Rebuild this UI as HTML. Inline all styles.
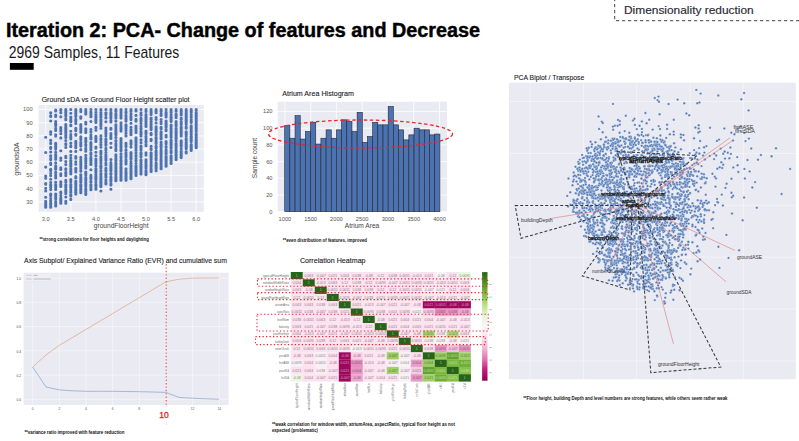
<!DOCTYPE html><html><head><meta charset="utf-8"><style>html,body{margin:0;padding:0;background:#fff;width:799px;height:441px;overflow:hidden}svg{display:block}text{font-family:"Liberation Sans",sans-serif}</style></head><body>
<svg width="799" height="441" viewBox="0 0 799 441">
<rect width="799" height="441" fill="#fff"/>
<text x="6" y="37.3" font-size="20" fill="#000" textLength="474" lengthAdjust="spacingAndGlyphs" font-weight="bold" stroke="#000" stroke-width="0.45">Iteration 2: PCA- Change of features and Decrease</text>
<text x="8.8" y="57.8" font-size="16.2" fill="#1a1a1a" textLength="170.5" lengthAdjust="spacingAndGlyphs" >2969 Samples, 11 Features</text>
<rect x="9.9" y="63" width="23.8" height="6.8" fill="#000"/>
<path d="M614.7 -2 V20.7 H801" fill="none" stroke="#444" stroke-width="1" stroke-dasharray="3.2 2.8"/>
<text x="624" y="13.5" font-size="10.4" fill="#2a2a35" textLength="129.7" lengthAdjust="spacingAndGlyphs" stroke="#2a2a35" stroke-width="0.15">Dimensionality reduction</text>
<rect x="38.6" y="105" width="165.20000000000002" height="106.80000000000001" fill="#EAEAF2"/>
<path d="M45.7 105V211.8M70.8 105V211.8M95.9 105V211.8M121.0 105V211.8M146.0 105V211.8M171.1 105V211.8M196.2 105V211.8M38.6 201.8H203.8M38.6 188.6H203.8M38.6 175.4H203.8M38.6 162.2H203.8M38.6 149.0H203.8M38.6 135.9H203.8M38.6 122.7H203.8M38.6 109.5H203.8" stroke="#fff" stroke-width="0.8" fill="none"/>
<path d="M55.7 205.9h0M75.8 182.2h0M121.0 163.4h0M85.8 129.0h0M126.0 171.0h0M115.9 115.3h0M131.0 157.2h0M45.7 197.2h0M121.0 179.0h0M126.0 173.6h0M100.9 109.5h0M75.8 161.7h0M131.0 144.2h0M141.0 131.9h0M171.1 120.0h0M181.2 153.4h0M126.0 178.2h0M85.8 184.3h0M131.0 134.5h0M80.8 177.3h0M151.1 148.7h0M186.2 153.0h0M60.8 158.0h0M100.9 181.0h0M196.2 147.1h0M85.8 113.7h0M196.2 141.1h0M115.9 162.7h0M121.0 177.7h0M100.9 178.4h0M55.7 128.2h0M70.8 172.2h0M171.1 121.5h0M65.8 131.7h0M90.9 188.3h0M141.0 174.0h0M80.8 186.7h0M156.1 155.2h0M176.1 124.0h0M176.1 150.8h0M156.1 155.5h0M110.9 179.3h0M85.8 175.4h0M136.0 175.4h0M55.7 201.4h0M156.1 134.7h0M75.8 188.8h0M100.9 166.9h0M171.1 157.9h0M131.0 154.1h0M105.9 183.2h0M151.1 127.6h0M60.8 192.1h0M100.9 174.7h0M181.2 115.0h0M110.9 184.5h0M136.0 163.2h0M121.0 180.3h0M196.2 143.4h0M126.0 180.1h0M161.1 119.5h0M55.7 196.1h0M176.1 152.6h0M196.2 142.0h0M55.7 168.1h0M110.9 184.0h0M181.2 128.4h0M90.9 138.2h0M110.9 120.4h0M126.0 153.0h0M161.1 123.6h0M156.1 148.3h0M131.0 172.9h0M181.2 154.1h0M100.9 170.7h0M141.0 118.3h0M80.8 190.4h0M60.8 198.2h0M55.7 152.2h0M60.8 127.6h0M100.9 125.1h0M121.0 175.2h0M105.9 113.7h0M115.9 146.1h0M121.0 161.9h0M166.1 149.7h0M166.1 162.8h0M126.0 115.2h0M80.8 175.1h0M131.0 152.6h0M95.9 136.4h0M50.7 115.9h0M196.2 142.9h0M196.2 110.3h0M146.0 168.2h0M171.1 163.2h0M166.1 146.6h0M110.9 177.3h0M65.8 119.2h0M161.1 164.6h0M161.1 162.6h0M110.9 181.4h0M166.1 166.1h0M50.7 184.9h0M85.8 180.1h0M181.2 144.3h0M65.8 190.2h0M186.2 133.3h0M186.2 133.6h0M70.8 163.4h0M131.0 159.0h0M85.8 160.7h0M196.2 120.7h0M126.0 179.3h0M166.1 154.0h0M75.8 192.6h0M95.9 147.1h0M105.9 109.5h0M166.1 123.7h0M176.1 131.7h0M166.1 162.9h0M60.8 109.5h0M90.9 178.8h0M121.0 176.1h0M100.9 115.9h0M55.7 205.0h0M55.7 110.1h0M191.2 109.6h0M176.1 124.4h0M75.8 130.8h0M105.9 112.7h0M50.7 206.4h0M85.8 166.9h0M141.0 128.3h0M75.8 194.1h0M181.2 111.9h0M186.2 118.5h0M70.8 165.8h0M186.2 115.9h0M90.9 184.9h0M176.1 132.4h0M65.8 191.9h0M161.1 151.7h0M186.2 119.9h0M121.0 168.9h0M100.9 156.5h0M166.1 126.3h0M60.8 167.9h0M75.8 135.2h0M65.8 114.1h0M121.0 116.5h0M156.1 131.0h0M70.8 188.1h0M156.1 166.7h0M126.0 173.3h0M181.2 145.5h0M161.1 163.8h0M126.0 112.8h0M146.0 117.4h0M75.8 144.9h0M95.9 189.3h0M85.8 111.3h0M161.1 152.6h0M80.8 111.6h0M146.0 170.9h0M50.7 169.2h0M136.0 171.2h0M161.1 155.6h0M156.1 112.8h0M90.9 137.5h0M136.0 139.0h0M121.0 167.2h0M136.0 147.3h0M126.0 161.6h0M196.2 134.5h0M55.7 121.6h0M191.2 138.5h0M60.8 202.0h0M95.9 188.3h0M70.8 166.4h0M146.0 119.5h0M196.2 113.4h0M126.0 126.8h0M121.0 146.8h0M60.8 192.3h0M75.8 171.9h0M60.8 203.0h0M50.7 207.2h0M151.1 171.2h0M75.8 164.3h0M90.9 177.9h0M70.8 194.8h0M90.9 158.9h0M105.9 176.4h0M95.9 179.7h0M166.1 125.0h0M65.8 124.6h0M181.2 128.1h0M70.8 179.9h0M126.0 174.3h0M191.2 144.5h0M181.2 131.8h0M146.0 165.5h0M146.0 118.0h0M60.8 110.5h0M115.9 167.1h0M60.8 200.8h0M131.0 161.8h0M110.9 180.6h0M65.8 180.2h0M136.0 172.9h0M45.7 207.2h0M196.2 116.6h0M90.9 144.2h0M181.2 123.6h0M171.1 112.5h0M141.0 134.6h0M105.9 183.8h0M171.1 160.3h0M171.1 163.1h0M115.9 168.6h0M95.9 117.8h0M70.8 199.4h0M146.0 138.6h0M75.8 151.4h0M90.9 161.2h0M186.2 143.6h0M121.0 110.2h0M85.8 122.4h0M65.8 161.6h0M85.8 151.2h0M50.7 204.7h0M90.9 187.7h0M50.7 175.6h0M166.1 153.2h0M95.9 127.3h0M136.0 160.6h0M100.9 138.6h0M60.8 186.4h0M65.8 132.0h0M176.1 155.4h0M126.0 117.0h0M176.1 137.1h0M166.1 141.6h0M121.0 127.3h0M141.0 154.7h0M75.8 121.8h0M171.1 143.1h0M156.1 157.5h0M141.0 154.2h0M80.8 130.4h0M191.2 127.5h0M55.7 130.5h0M131.0 111.3h0M55.7 125.6h0M171.1 163.5h0M146.0 136.0h0M65.8 134.9h0M176.1 125.0h0M146.0 167.9h0M151.1 164.7h0M90.9 112.0h0M115.9 131.7h0M161.1 168.8h0M100.9 124.4h0M141.0 128.8h0M126.0 127.1h0M80.8 157.4h0M126.0 161.2h0M151.1 158.1h0M196.2 147.3h0M65.8 144.6h0M115.9 111.5h0M105.9 170.4h0M55.7 185.3h0M131.0 178.0h0M50.7 189.6h0M186.2 153.0h0M60.8 198.1h0M85.8 130.0h0M181.2 127.1h0M90.9 163.7h0M181.2 114.1h0M196.2 145.4h0M141.0 160.0h0M166.1 135.4h0M196.2 142.4h0M131.0 166.3h0M100.9 178.8h0M146.0 172.2h0M121.0 115.0h0M85.8 112.8h0M126.0 172.3h0M141.0 132.2h0M70.8 161.2h0M141.0 173.5h0M121.0 177.7h0M171.1 130.1h0M65.8 129.8h0M176.1 140.9h0M90.9 112.3h0M186.2 121.7h0M115.9 110.7h0M161.1 149.9h0M171.1 152.3h0M100.9 176.5h0M171.1 145.6h0M161.1 135.2h0M50.7 195.8h0M186.2 134.5h0M85.8 144.5h0M80.8 146.1h0M151.1 146.2h0M95.9 168.7h0M176.1 141.0h0M50.7 112.8h0M186.2 145.1h0M55.7 123.3h0M55.7 146.1h0M75.8 109.5h0M151.1 109.5h0M131.0 176.6h0M95.9 175.2h0M100.9 166.3h0M176.1 114.2h0M85.8 173.4h0M151.1 134.7h0M70.8 161.8h0M191.2 147.8h0M110.9 170.8h0M196.2 127.4h0M110.9 174.2h0M186.2 124.3h0M191.2 132.5h0M136.0 109.5h0M115.9 133.9h0M85.8 194.4h0M121.0 109.8h0M156.1 109.5h0M90.9 181.6h0M166.1 126.9h0M191.2 117.2h0M141.0 142.7h0M65.8 137.4h0M191.2 128.9h0M115.9 180.4h0M186.2 138.9h0M90.9 135.1h0M105.9 182.3h0M156.1 166.1h0M110.9 135.5h0M75.8 189.4h0M75.8 134.7h0M100.9 119.8h0M60.8 198.9h0M136.0 174.6h0M151.1 118.1h0M141.0 173.1h0M186.2 114.8h0M121.0 161.8h0M186.2 120.6h0M100.9 156.6h0M110.9 128.2h0M105.9 154.7h0M171.1 147.2h0M85.8 161.2h0M156.1 162.7h0M70.8 146.7h0M55.7 155.2h0M80.8 174.7h0M60.8 175.6h0M171.1 125.0h0M90.9 163.3h0M90.9 163.1h0M60.8 169.5h0M126.0 180.3h0M186.2 152.6h0M55.7 162.7h0M110.9 165.5h0M166.1 124.4h0M166.1 166.2h0M191.2 116.9h0M45.7 206.2h0M60.8 182.3h0M191.2 121.9h0M115.9 133.2h0M85.8 162.9h0M181.2 157.6h0M85.8 189.5h0M65.8 129.9h0M136.0 145.5h0M95.9 112.2h0M171.1 118.4h0M146.0 117.7h0M176.1 150.9h0M166.1 123.1h0M110.9 143.3h0M136.0 110.4h0M50.7 169.6h0M95.9 177.6h0M105.9 171.2h0M161.1 168.7h0M50.7 204.7h0M166.1 147.3h0M151.1 156.9h0M60.8 203.0h0M55.7 189.3h0M126.0 152.8h0M196.2 115.5h0M90.9 184.7h0M121.0 173.3h0M75.8 129.2h0M191.2 125.9h0M70.8 121.0h0M156.1 146.9h0M55.7 124.4h0M141.0 166.1h0M136.0 170.1h0M171.1 126.5h0M85.8 194.4h0M141.0 150.0h0M110.9 184.6h0M166.1 163.3h0M115.9 177.4h0M151.1 129.6h0M121.0 173.9h0M115.9 178.3h0M176.1 124.2h0M75.8 192.2h0M85.8 132.4h0M181.2 146.5h0M80.8 117.2h0M146.0 144.3h0M166.1 121.3h0M110.9 167.6h0M70.8 196.1h0M151.1 165.2h0M50.7 147.4h0M55.7 144.0h0M141.0 128.8h0M136.0 115.4h0M100.9 168.0h0M176.1 115.9h0M166.1 136.7h0M105.9 113.9h0M100.9 113.1h0M100.9 186.8h0M85.8 172.8h0M80.8 185.2h0M166.1 142.5h0M156.1 131.7h0M126.0 175.3h0M95.9 137.8h0M176.1 150.1h0M176.1 159.1h0M151.1 169.8h0M171.1 162.7h0M161.1 145.7h0M176.1 109.5h0M161.1 166.7h0M131.0 109.5h0M100.9 117.5h0M70.8 120.7h0M151.1 125.0h0M161.1 157.8h0M70.8 185.6h0M80.8 157.6h0M75.8 193.9h0M161.1 146.3h0M121.0 170.5h0M121.0 150.5h0M45.7 202.6h0M80.8 174.8h0M196.2 118.9h0M171.1 125.7h0M95.9 116.2h0M156.1 119.4h0M171.1 140.6h0M80.8 182.3h0M105.9 177.3h0M60.8 150.7h0M151.1 119.2h0M161.1 144.5h0M181.2 151.0h0M55.7 149.1h0M70.8 160.5h0M146.0 155.1h0M181.2 121.7h0M191.2 150.2h0M181.2 127.8h0M136.0 171.9h0M191.2 147.6h0M65.8 135.9h0M80.8 190.9h0M95.9 185.6h0M90.9 154.4h0M136.0 139.9h0M186.2 144.2h0M70.8 169.1h0M176.1 134.7h0M55.7 189.4h0M55.7 110.9h0M121.0 112.2h0M50.7 155.8h0M126.0 133.0h0M141.0 162.8h0M85.8 109.5h0M196.2 114.7h0M156.1 127.1h0M196.2 145.1h0M65.8 118.7h0M50.7 148.4h0M156.1 167.2h0M171.1 140.5h0M50.7 134.3h0M181.2 156.2h0M141.0 131.5h0M171.1 117.3h0M166.1 109.5h0M171.1 132.5h0M95.9 138.5h0M121.0 123.0h0M151.1 171.2h0M80.8 179.4h0M191.2 134.6h0M65.8 175.6h0M105.9 175.5h0M171.1 160.4h0M151.1 154.3h0M176.1 135.0h0M126.0 176.8h0M151.1 134.5h0M65.8 131.0h0M136.0 121.3h0M176.1 152.0h0M110.9 165.5h0M70.8 136.2h0M151.1 124.0h0M156.1 132.0h0M126.0 176.0h0M95.9 185.3h0M105.9 175.4h0M115.9 171.3h0M50.7 170.4h0M60.8 202.1h0M110.9 170.0h0M186.2 151.7h0M156.1 158.7h0M141.0 169.0h0M110.9 138.4h0M70.8 166.1h0M161.1 149.9h0M161.1 115.4h0M80.8 128.9h0M110.9 136.9h0M126.0 130.4h0M191.2 144.8h0M110.9 109.7h0M70.8 181.8h0M121.0 118.1h0M181.2 129.9h0M176.1 125.8h0M70.8 163.5h0M196.2 139.3h0M151.1 162.8h0M166.1 112.4h0M161.1 152.0h0M55.7 154.7h0M115.9 176.0h0M191.2 146.4h0M126.0 126.3h0M121.0 158.1h0M95.9 162.4h0M65.8 129.3h0M171.1 143.9h0M131.0 170.2h0M146.0 159.7h0M151.1 153.6h0M126.0 154.0h0M141.0 173.3h0M161.1 138.5h0M75.8 192.3h0M196.2 114.6h0M151.1 157.6h0M136.0 153.0h0M75.8 183.4h0M100.9 178.2h0M196.2 113.4h0M151.1 111.4h0M110.9 116.8h0M181.2 156.4h0M45.7 188.3h0M186.2 122.4h0M186.2 145.7h0M105.9 152.5h0M136.0 165.8h0M166.1 156.2h0M196.2 131.5h0M156.1 150.7h0M110.9 159.5h0M131.0 171.6h0M131.0 114.3h0M75.8 181.8h0M161.1 127.2h0M75.8 134.2h0M80.8 188.4h0M110.9 184.1h0M156.1 134.0h0M126.0 179.7h0M166.1 149.6h0M181.2 157.5h0M186.2 147.7h0M75.8 146.8h0M121.0 177.6h0M60.8 160.3h0M70.8 118.0h0M70.8 155.3h0M80.8 125.5h0M55.7 172.6h0M95.9 188.3h0M110.9 143.2h0M65.8 147.4h0M146.0 172.5h0M95.9 117.8h0M105.9 141.8h0M60.8 203.0h0M95.9 148.3h0M171.1 144.2h0M95.9 127.9h0M95.9 171.1h0M110.9 128.2h0M146.0 161.8h0M186.2 146.0h0M55.7 206.0h0M110.9 185.0h0M191.2 149.2h0M161.1 127.6h0M105.9 145.2h0M60.8 200.0h0M50.7 143.4h0M115.9 145.1h0M110.9 112.3h0M70.8 194.8h0M105.9 159.7h0M110.9 173.6h0M176.1 158.9h0M156.1 137.1h0M156.1 139.2h0M186.2 140.5h0M45.7 176.1h0M156.1 158.7h0M146.0 141.0h0M80.8 164.4h0M85.8 122.3h0M156.1 126.8h0M126.0 162.6h0M85.8 155.5h0M126.0 125.5h0M176.1 133.7h0M65.8 189.2h0M186.2 115.8h0M161.1 113.9h0M166.1 122.6h0M196.2 147.7h0M75.8 123.5h0M126.0 164.0h0M90.9 129.5h0M75.8 177.1h0M80.8 126.2h0M55.7 143.4h0M115.9 148.5h0M131.0 153.1h0M156.1 143.0h0M186.2 132.0h0M85.8 123.9h0M191.2 139.8h0M136.0 137.7h0M110.9 185.0h0M161.1 134.6h0M131.0 155.3h0M186.2 148.6h0M65.8 184.9h0M136.0 175.4h0M186.2 119.7h0M121.0 173.3h0M136.0 115.5h0M176.1 129.9h0M151.1 161.5h0M60.8 201.4h0M75.8 169.9h0M131.0 157.5h0M45.7 184.2h0M85.8 155.3h0M186.2 117.6h0M90.9 185.4h0M70.8 179.6h0M171.1 117.6h0M131.0 176.9h0M80.8 185.9h0M105.9 144.3h0M196.2 145.4h0M196.2 145.4h0M161.1 161.8h0M136.0 171.2h0M70.8 164.3h0M146.0 126.5h0M191.2 132.4h0M90.9 157.3h0M171.1 142.0h0M161.1 139.0h0M141.0 164.7h0M196.2 144.8h0M156.1 168.6h0M85.8 148.2h0M105.9 144.5h0M186.2 142.4h0M176.1 146.1h0M166.1 121.0h0M156.1 122.9h0M141.0 174.0h0M50.7 163.1h0M161.1 142.2h0M121.0 149.2h0M156.1 167.8h0M95.9 189.2h0M126.0 177.5h0M55.7 178.0h0M141.0 167.9h0M100.9 186.8h0M171.1 155.7h0M191.2 131.4h0M80.8 116.8h0M90.9 116.8h0M110.9 133.6h0M166.1 122.8h0M186.2 136.0h0M186.2 148.8h0M146.0 114.6h0M45.7 183.6h0M161.1 152.5h0M176.1 150.8h0M80.8 118.2h0M131.0 156.4h0M80.8 109.5h0M186.2 147.7h0M110.9 166.6h0M65.8 125.8h0M166.1 136.6h0M136.0 145.7h0M85.8 183.4h0M176.1 157.8h0M151.1 119.1h0M196.2 146.3h0M75.8 168.2h0M85.8 140.2h0M156.1 130.2h0M181.2 157.5h0M196.2 128.2h0M146.0 168.2h0M126.0 175.2h0M121.0 166.3h0M50.7 198.6h0M70.8 164.0h0M166.1 158.6h0M146.0 124.1h0M156.1 110.9h0M151.1 171.5h0M115.9 121.2h0M176.1 121.8h0M85.8 191.2h0M121.0 142.1h0M65.8 115.9h0M65.8 132.7h0M95.9 141.4h0M80.8 168.0h0M105.9 149.9h0M161.1 159.7h0M171.1 114.8h0M196.2 139.7h0M141.0 120.4h0M121.0 114.2h0M196.2 144.1h0M110.9 173.1h0M105.9 130.3h0M90.9 178.7h0M95.9 160.8h0M90.9 149.9h0M60.8 202.4h0M121.0 129.5h0M191.2 146.6h0M105.9 180.1h0M80.8 138.8h0M151.1 121.5h0M156.1 163.2h0M95.9 139.8h0M166.1 165.3h0M176.1 143.4h0M55.7 157.6h0M105.9 174.8h0M136.0 145.2h0M141.0 115.3h0M196.2 142.4h0M161.1 136.7h0M95.9 172.3h0M156.1 152.2h0M166.1 152.4h0M105.9 183.3h0M126.0 177.1h0M146.0 125.4h0M146.0 173.5h0M186.2 109.5h0M161.1 110.8h0M181.2 132.2h0M146.0 141.9h0M166.1 164.1h0M55.7 177.0h0M110.9 135.6h0M176.1 151.1h0M65.8 161.5h0M136.0 174.9h0M176.1 137.9h0M171.1 157.0h0M70.8 191.9h0M166.1 153.6h0M85.8 194.1h0M166.1 161.2h0M176.1 138.8h0M90.9 164.5h0M196.2 109.5h0M181.2 127.1h0M95.9 170.1h0M95.9 174.2h0M196.2 147.1h0M146.0 136.4h0M161.1 155.8h0M60.8 131.1h0M136.0 132.5h0M136.0 167.7h0M186.2 116.4h0M110.9 183.8h0M105.9 170.6h0M136.0 160.7h0M65.8 140.6h0M126.0 119.8h0M100.9 185.4h0M90.9 177.7h0M75.8 120.1h0M121.0 164.4h0M60.8 200.8h0M126.0 128.6h0M100.9 128.2h0M181.2 155.1h0M126.0 168.9h0M121.0 122.8h0M95.9 177.0h0M141.0 162.3h0M75.8 128.4h0M100.9 112.6h0M115.9 163.7h0M75.8 162.0h0M105.9 118.0h0M121.0 140.0h0M186.2 132.2h0M146.0 122.5h0M181.2 140.7h0M161.1 114.5h0M100.9 179.7h0M156.1 166.5h0M80.8 142.4h0M60.8 133.8h0M100.9 152.6h0M90.9 153.1h0M85.8 178.9h0M191.2 145.8h0M90.9 176.3h0M141.0 139.9h0M95.9 109.5h0M136.0 167.9h0M85.8 145.6h0M141.0 173.4h0M95.9 152.2h0M75.8 156.6h0M105.9 174.9h0M95.9 120.6h0M115.9 114.2h0M186.2 123.1h0M45.7 167.1h0M75.8 157.7h0M136.0 160.4h0M60.8 129.1h0M161.1 127.9h0M141.0 134.3h0M126.0 155.1h0M100.9 191.0h0M191.2 131.0h0M85.8 172.0h0M50.7 131.9h0M171.1 125.3h0M85.8 168.1h0M105.9 168.4h0M90.9 144.6h0M50.7 185.8h0M100.9 181.6h0M196.2 126.0h0M131.0 168.7h0M186.2 121.1h0M151.1 140.6h0M90.9 189.5h0M110.9 114.1h0M166.1 162.5h0M115.9 166.7h0M176.1 155.1h0M156.1 154.3h0M196.2 144.8h0M45.7 191.0h0M191.2 132.5h0M161.1 160.9h0M166.1 129.4h0M65.8 164.6h0M90.9 189.7h0M151.1 162.6h0M115.9 171.4h0M181.2 142.0h0M55.7 188.1h0M176.1 137.5h0M146.0 174.4h0M166.1 158.4h0M126.0 149.6h0M60.8 112.7h0M65.8 111.5h0M105.9 175.4h0M60.8 198.8h0M141.0 139.8h0M100.9 121.8h0M146.0 131.1h0M95.9 177.9h0M166.1 166.2h0M60.8 116.7h0M156.1 143.4h0M161.1 134.9h0M85.8 114.1h0M90.9 138.9h0M65.8 169.4h0M191.2 141.0h0M166.1 153.6h0M196.2 122.3h0M171.1 142.3h0M115.9 178.9h0M171.1 144.6h0M100.9 165.3h0M161.1 166.8h0M146.0 126.0h0M181.2 152.5h0M176.1 133.2h0M156.1 130.0h0M70.8 125.7h0M70.8 121.7h0M196.2 143.4h0M115.9 160.7h0M80.8 159.8h0M131.0 140.9h0M176.1 115.6h0M191.2 109.5h0M166.1 151.6h0M141.0 132.9h0M75.8 169.1h0M80.8 190.8h0M186.2 151.8h0M100.9 123.3h0M161.1 121.7h0M80.8 162.2h0M191.2 146.7h0M100.9 109.9h0M191.2 136.4h0M131.0 168.1h0M115.9 170.3h0M105.9 170.1h0M110.9 169.3h0M55.7 115.0h0M65.8 203.3h0M196.2 140.3h0M126.0 159.9h0M131.0 123.3h0M115.9 149.4h0M90.9 189.4h0M100.9 147.2h0M126.0 124.7h0M65.8 201.4h0M80.8 180.4h0M176.1 149.5h0M60.8 184.6h0M115.9 140.5h0M80.8 171.2h0M146.0 173.5h0M186.2 127.9h0M50.7 203.7h0M110.9 178.5h0M176.1 122.6h0M156.1 165.2h0M141.0 174.0h0M126.0 150.5h0M146.0 174.8h0M105.9 139.1h0M100.9 151.0h0M110.9 109.5h0M151.1 119.6h0M181.2 145.5h0M100.9 135.9h0M70.8 171.0h0M166.1 147.3h0M136.0 111.0h0M126.0 109.5h0M136.0 173.2h0M156.1 158.6h0M75.8 176.5h0M95.9 122.2h0M110.9 120.3h0M166.1 137.0h0M131.0 173.0h0M85.8 186.1h0M126.0 144.9h0M171.1 150.5h0M100.9 114.6h0M65.8 168.9h0M90.9 113.2h0M100.9 142.4h0M60.8 184.4h0M126.0 135.9h0M131.0 177.7h0M50.7 170.1h0M55.7 124.7h0M60.8 186.0h0M136.0 120.4h0M176.1 159.1h0M151.1 156.3h0M126.0 144.7h0M196.2 147.7h0M176.1 157.3h0M75.8 186.2h0M176.1 115.1h0M121.0 174.2h0M100.9 162.5h0M171.1 116.8h0M80.8 128.7h0M166.1 159.9h0M136.0 142.7h0M191.2 137.2h0M55.7 202.8h0M131.0 132.5h0M136.0 170.4h0M105.9 175.0h0M151.1 162.5h0M196.2 113.1h0M70.8 199.6h0M80.8 124.6h0M115.9 134.8h0M126.0 135.6h0M75.8 189.1h0M151.1 155.0h0M115.9 173.8h0M70.8 151.4h0M171.1 135.4h0M90.9 143.8h0M70.8 165.4h0M70.8 161.0h0M95.9 172.3h0M191.2 149.8h0M191.2 149.9h0M121.0 146.6h0M131.0 173.9h0M151.1 169.5h0M191.2 137.6h0M151.1 169.7h0M196.2 118.0h0M161.1 132.2h0M70.8 160.7h0M181.2 118.9h0M156.1 165.3h0M171.1 136.2h0M146.0 160.8h0M115.9 179.4h0M176.1 159.6h0M161.1 145.9h0M75.8 190.9h0M55.7 203.1h0M90.9 169.8h0M90.9 186.0h0M85.8 193.9h0M75.8 168.4h0M75.8 143.6h0M146.0 120.5h0M181.2 157.5h0M80.8 178.9h0M126.0 146.6h0M146.0 170.8h0M131.0 117.7h0M121.0 109.5h0M191.2 149.6h0M151.1 126.9h0M131.0 109.9h0M146.0 166.6h0M131.0 142.8h0M105.9 173.8h0M121.0 172.5h0M115.9 134.8h0M136.0 142.1h0M191.2 121.4h0M136.0 160.4h0M95.9 140.4h0M85.8 179.3h0M110.9 147.5h0M115.9 137.4h0M141.0 123.4h0M105.9 170.8h0M85.8 188.6h0M100.9 158.2h0M55.7 202.7h0M166.1 157.8h0M90.9 145.8h0M55.7 159.3h0M55.7 198.7h0M196.2 139.9h0M65.8 129.2h0M45.7 137.2h0M151.1 139.3h0M121.0 179.6h0M90.9 175.4h0M171.1 159.5h0M181.2 127.9h0M85.8 193.5h0M80.8 132.3h0M141.0 146.7h0M136.0 141.0h0M176.1 132.3h0M186.2 122.0h0M146.0 174.1h0M100.9 144.8h0M80.8 161.6h0M121.0 128.3h0M75.8 178.0h0M55.7 184.8h0M115.9 116.8h0M176.1 147.8h0M85.8 191.8h0M95.9 189.3h0M191.2 112.6h0M95.9 122.5h0M80.8 166.2h0M65.8 185.5h0M171.1 109.5h0M181.2 157.5h0M191.2 139.4h0M126.0 119.3h0M146.0 141.1h0M156.1 170.3h0M161.1 151.9h0M181.2 141.2h0M156.1 166.7h0M75.8 169.6h0M171.1 137.2h0M70.8 192.5h0M126.0 121.2h0M115.9 159.8h0M105.9 162.7h0M95.9 170.2h0M115.9 143.9h0M70.8 158.3h0M176.1 121.5h0M85.8 189.0h0M191.2 122.5h0M100.9 184.4h0M146.0 172.0h0M80.8 139.6h0M146.0 111.4h0M131.0 175.2h0M105.9 133.8h0M146.0 172.4h0M191.2 119.8h0M171.1 117.8h0M156.1 154.6h0M186.2 138.6h0M85.8 162.9h0M80.8 192.7h0M65.8 156.4h0M151.1 171.1h0M50.7 194.4h0M161.1 151.9h0M156.1 166.7h0M141.0 126.2h0M50.7 203.4h0M110.9 118.1h0M90.9 159.6h0M136.0 119.2h0M65.8 157.8h0M131.0 129.7h0M70.8 158.0h0M70.8 170.5h0M85.8 159.0h0M131.0 172.3h0M115.9 155.1h0M90.9 187.8h0M136.0 155.2h0M191.2 150.4h0M161.1 138.6h0M90.9 121.5h0M70.8 199.5h0M161.1 168.3h0M181.2 148.8h0M161.1 153.1h0M176.1 158.9h0M126.0 155.7h0M95.9 176.3h0M85.8 194.4h0M141.0 148.8h0M110.9 166.9h0M115.9 174.6h0M85.8 163.1h0M166.1 123.9h0M110.9 177.0h0M191.2 141.6h0M90.9 109.5h0M171.1 128.5h0M196.2 129.9h0M141.0 156.9h0M70.8 120.0h0M136.0 175.2h0M171.1 145.6h0M156.1 122.9h0M65.8 201.3h0M70.8 199.3h0M90.9 189.6h0M75.8 113.4h0M105.9 180.7h0M50.7 131.9h0M95.9 136.6h0M55.7 168.6h0M186.2 131.9h0M85.8 175.0h0M105.9 148.3h0M95.9 109.6h0M126.0 143.2h0M80.8 192.4h0M110.9 164.2h0M186.2 124.3h0M141.0 121.2h0M181.2 133.1h0M181.2 135.1h0M196.2 112.8h0M191.2 111.6h0M115.9 171.1h0M105.9 159.9h0M151.1 164.8h0M176.1 150.1h0M181.2 118.3h0M70.8 109.5h0M181.2 151.5h0M141.0 156.6h0M171.1 140.1h0M95.9 114.5h0M45.7 152.5h0M80.8 191.6h0M110.9 168.5h0M105.9 156.2h0M75.8 181.4h0M151.1 166.7h0M176.1 159.6h0M176.1 121.6h0M50.7 195.0h0M126.0 176.9h0M115.9 117.9h0M100.9 182.3h0M115.9 166.7h0M171.1 162.3h0M146.0 109.5h0M110.9 183.7h0M90.9 137.0h0M60.8 203.3h0M191.2 111.9h0M90.9 147.4h0M181.2 119.2h0M115.9 172.0h0M171.1 110.9h0M121.0 167.5h0M45.7 205.0h0M100.9 165.3h0M75.8 119.2h0M146.0 132.1h0M75.8 188.1h0M55.7 197.8h0M85.8 138.4h0M181.2 113.8h0M196.2 135.6h0M151.1 112.7h0M151.1 114.5h0M171.1 133.4h0M55.7 136.1h0M191.2 146.9h0M186.2 147.0h0M85.8 193.6h0M55.7 186.7h0M50.7 158.1h0M110.9 178.1h0M151.1 128.8h0M121.0 150.7h0M80.8 181.5h0M105.9 174.1h0M60.8 181.7h0M141.0 112.7h0M65.8 186.9h0M191.2 132.8h0M90.9 181.3h0M55.7 182.2h0M75.8 193.4h0M95.9 164.1h0M105.9 117.4h0M196.2 145.5h0M156.1 128.5h0M100.9 125.8h0M141.0 164.6h0M50.7 206.7h0M171.1 121.6h0M121.0 171.8h0M191.2 140.5h0M126.0 118.5h0M131.0 178.7h0M186.2 111.1h0M161.1 133.4h0M60.8 200.8h0M176.1 135.9h0M50.7 179.2h0M156.1 152.5h0M131.0 127.2h0M191.2 136.0h0M75.8 115.2h0M70.8 125.1h0M181.2 156.8h0M146.0 136.4h0M115.9 133.5h0M80.8 144.3h0M141.0 166.6h0M70.8 168.7h0M131.0 163.5h0M136.0 127.9h0M156.1 170.8h0M176.1 159.2h0M141.0 140.1h0M141.0 109.5h0M166.1 158.8h0M75.8 191.6h0M191.2 147.5h0M50.7 206.8h0M191.2 129.3h0M146.0 132.2h0M65.8 184.9h0M166.1 157.2h0M100.9 166.7h0M166.1 135.2h0M141.0 174.1h0M100.9 158.7h0M45.7 204.9h0M161.1 111.6h0M115.9 171.3h0M55.7 194.7h0M151.1 148.9h0M156.1 141.3h0M171.1 145.2h0M196.2 145.9h0M65.8 175.3h0M146.0 132.8h0M141.0 170.3h0M151.1 171.4h0M176.1 117.6h0M186.2 132.9h0M115.9 180.2h0M161.1 132.5h0M131.0 152.5h0M80.8 182.0h0M176.1 111.3h0M95.9 182.1h0M136.0 119.2h0M75.8 184.8h0M196.2 116.4h0M176.1 145.3h0M131.0 134.7h0M161.1 137.6h0M95.9 188.2h0M156.1 150.8h0M65.8 193.6h0M191.2 131.0h0M171.1 148.2h0M100.9 170.5h0M60.8 173.9h0M110.9 115.0h0M196.2 134.1h0M105.9 114.6h0M75.8 189.8h0M65.8 173.2h0M136.0 110.1h0M105.9 165.0h0M146.0 161.9h0M151.1 134.1h0M171.1 131.8h0M115.9 113.9h0M126.0 179.6h0M115.9 141.3h0M80.8 177.8h0M75.8 142.0h0M141.0 153.6h0M181.2 154.5h0M156.1 146.3h0M115.9 156.5h0M181.2 154.7h0M110.9 116.4h0M191.2 148.8h0M65.8 187.6h0M85.8 151.2h0M136.0 129.0h0M60.8 198.7h0M156.1 152.8h0M161.1 167.9h0M121.0 178.1h0M105.9 156.8h0M156.1 117.5h0M176.1 128.3h0M196.2 124.5h0M105.9 135.9h0M186.2 126.9h0M110.9 184.5h0M121.0 153.8h0M161.1 152.0h0M186.2 116.3h0M181.2 155.9h0M121.0 147.9h0M151.1 159.5h0M136.0 145.0h0M100.9 175.9h0M136.0 126.0h0M166.1 160.2h0M131.0 131.9h0M141.0 114.9h0M90.9 177.7h0M55.7 123.4h0M186.2 121.1h0M50.7 121.0h0M115.9 121.1h0M80.8 181.2h0M100.9 160.6h0M171.1 135.5h0M146.0 114.7h0M171.1 141.4h0M100.9 183.7h0M65.8 128.7h0M85.8 129.0h0M141.0 140.1h0M110.9 169.8h0M141.0 166.3h0M181.2 111.8h0M70.8 145.9h0M100.9 153.7h0M136.0 166.4h0M80.8 188.4h0M95.9 175.5h0M186.2 133.9h0M110.9 113.4h0M131.0 176.0h0M45.7 204.1h0M100.9 162.8h0M156.1 150.9h0M110.9 167.0h0M146.0 162.9h0M186.2 121.1h0M136.0 149.1h0M110.9 174.5h0M166.1 156.6h0M95.9 119.3h0M171.1 121.5h0M95.9 116.8h0M121.0 160.4h0M161.1 147.7h0M121.0 143.3h0M110.9 114.3h0M65.8 191.5h0M146.0 121.6h0M176.1 130.9h0M181.2 143.0h0M115.9 158.5h0M75.8 190.2h0M141.0 123.5h0M115.9 180.7h0M131.0 130.4h0M70.8 113.2h0M171.1 133.6h0M136.0 171.8h0M115.9 173.9h0M45.7 205.5h0M65.8 143.8h0M115.9 150.6h0M70.8 173.9h0M161.1 166.0h0M151.1 166.1h0M161.1 160.2h0M151.1 149.4h0M90.9 114.9h0M126.0 112.0h0M65.8 113.9h0M131.0 153.2h0M196.2 118.2h0M146.0 123.4h0M151.1 159.6h0M191.2 150.0h0M156.1 131.1h0M196.2 122.1h0M105.9 162.7h0M196.2 124.3h0M105.9 131.8h0M115.9 154.7h0M75.8 147.8h0M191.2 134.5h0M156.1 130.5h0M176.1 144.8h0M131.0 178.1h0M181.2 109.5h0M166.1 166.1h0M105.9 175.2h0M121.0 170.3h0M110.9 129.2h0M131.0 127.2h0M60.8 137.9h0M156.1 160.0h0M181.2 126.9h0M105.9 158.6h0M146.0 125.8h0M60.8 186.6h0M136.0 166.9h0M75.8 110.7h0M50.7 182.6h0M196.2 142.1h0M95.9 164.1h0M85.8 165.6h0M95.9 166.0h0M90.9 129.5h0M131.0 143.5h0M100.9 120.9h0M141.0 146.1h0M100.9 186.5h0M186.2 110.9h0M196.2 147.4h0M105.9 173.5h0M50.7 116.5h0M110.9 189.3h0M181.2 122.9h0M110.9 162.6h0M171.1 148.0h0M131.0 173.6h0M80.8 136.8h0M171.1 150.9h0M105.9 183.9h0M90.9 131.9h0M50.7 170.6h0M100.9 184.4h0M126.0 163.5h0M126.0 119.1h0M146.0 164.1h0M100.9 173.2h0M136.0 144.8h0M126.0 173.6h0M191.2 146.9h0M166.1 159.7h0M136.0 168.8h0M196.2 128.2h0M110.9 120.5h0M156.1 138.2h0M85.8 184.2h0M141.0 119.6h0M161.1 127.3h0M146.0 174.3h0M121.0 160.9h0M176.1 135.2h0M136.0 172.9h0M171.1 163.5h0M191.2 112.0h0M166.1 113.4h0M186.2 119.6h0M95.9 188.9h0M95.9 178.6h0M141.0 136.0h0M115.9 127.0h0M196.2 126.0h0M70.8 134.5h0M131.0 113.8h0M70.8 174.0h0M121.0 131.1h0M75.8 116.3h0M136.0 130.7h0M146.0 141.3h0M126.0 150.4h0M65.8 109.5h0M90.9 158.2h0M131.0 177.4h0M146.0 133.8h0M55.7 134.9h0M70.8 131.3h0M75.8 111.3h0M156.1 163.4h0M191.2 110.0h0M100.9 181.3h0M65.8 127.2h0M95.9 176.3h0M55.7 130.2h0M85.8 189.9h0M121.0 125.2h0M50.7 195.7h0M131.0 165.5h0M181.2 146.3h0M90.9 143.5h0M65.8 119.7h0M151.1 122.4h0M55.7 116.5h0M136.0 150.4h0M151.1 171.5h0M181.2 144.0h0M151.1 152.8h0M161.1 109.5h0M90.9 181.3h0M151.1 148.5h0M151.1 155.4h0M55.7 156.2h0M55.7 175.4h0M55.7 169.3h0M151.1 158.1h0M121.0 138.5h0M176.1 132.5h0M115.9 109.5h0M181.2 156.3h0M70.8 139.0h0M85.8 177.7h0M186.2 120.8h0M156.1 168.4h0M131.0 130.6h0M80.8 149.5h0M121.0 156.3h0M100.9 186.2h0M60.8 184.7h0M80.8 184.5h0M136.0 158.3h0M65.8 114.9h0M196.2 117.9h0M50.7 187.6h0M151.1 149.1h0M156.1 111.7h0M115.9 125.3h0M90.9 160.8h0M105.9 142.5h0M161.1 131.8h0M75.8 116.5h0M131.0 174.6h0M100.9 139.8h0M55.7 165.8h0M141.0 148.3h0M181.2 157.5h0M100.9 175.1h0M186.2 146.3h0M141.0 146.9h0M121.0 177.1h0M166.1 136.9h0M191.2 150.1h0M90.9 149.0h0M115.9 172.0h0M105.9 144.4h0M105.9 157.0h0M176.1 123.9h0M55.7 194.1h0M110.9 173.4h0M55.7 166.9h0M136.0 172.6h0M146.0 136.1h0M146.0 173.2h0M115.9 124.7h0M161.1 144.3h0M110.9 184.3h0M151.1 161.5h0M50.7 206.4h0M75.8 193.9h0M115.9 180.7h0M171.1 158.4h0M126.0 180.3h0M141.0 152.8h0M156.1 138.8h0M75.8 182.2h0M85.8 141.2h0M85.8 149.6h0M146.0 152.9h0M136.0 155.9h0M191.2 114.7h0M115.9 128.9h0M70.8 187.4h0M70.8 184.4h0M65.8 189.9h0M95.9 127.4h0M191.2 148.5h0M131.0 158.3h0M146.0 166.7h0M131.0 158.6h0M126.0 157.3h0M70.8 186.8h0M95.9 121.0h0M55.7 175.0h0M80.8 149.7h0M166.1 159.6h0M65.8 182.0h0M105.9 183.6h0M186.2 146.7h0M121.0 173.2h0M161.1 128.8h0M196.2 135.8h0M136.0 170.7h0M126.0 161.1h0M186.2 113.7h0M151.1 168.9h0M146.0 116.1h0M186.2 152.2h0M50.7 173.3h0M196.2 146.4h0M80.8 189.5h0M166.1 159.3h0M161.1 137.8h0M65.8 110.7h0M50.7 200.8h0M50.7 159.6h0M181.2 124.4h0M141.0 164.7h0M90.9 162.1h0M100.9 177.1h0M65.8 197.0h0M75.8 112.9h0M80.8 175.3h0M151.1 133.3h0M85.8 142.1h0M65.8 111.0h0M90.9 160.1h0M50.7 194.0h0M70.8 164.8h0M136.0 141.0h0M181.2 142.7h0M136.0 141.7h0M50.7 152.0h0M196.2 137.2h0M121.0 180.2h0M131.0 157.8h0M191.2 144.7h0M65.8 112.4h0M95.9 130.3h0M60.8 203.3h0M171.1 144.2h0M141.0 160.8h0M110.9 168.1h0M166.1 114.3h0M176.1 136.5h0M100.9 176.5h0M181.2 130.3h0M181.2 157.0h0M90.9 188.1h0M166.1 126.9h0M105.9 176.8h0M70.8 190.1h0M60.8 192.9h0M131.0 119.6h0M121.0 142.2h0M191.2 112.6h0M105.9 141.1h0M45.7 178.2h0M186.2 128.2h0M146.0 145.8h0M141.0 171.6h0M110.9 121.9h0M161.1 153.5h0M75.8 158.2h0M55.7 147.3h0M110.9 180.4h0M181.2 132.1h0M141.0 129.1h0M80.8 186.8h0M90.9 137.9h0M90.9 115.7h0M156.1 168.6h0M70.8 143.0h0M126.0 116.9h0M171.1 152.7h0M115.9 130.8h0M50.7 140.4h0M65.8 128.0h0M131.0 147.1h0M186.2 116.5h0M151.1 127.7h0M186.2 140.3h0M95.9 176.0h0M105.9 133.4h0M105.9 121.7h0M181.2 157.6h0M131.0 117.4h0M55.7 172.3h0M166.1 163.4h0M186.2 132.2h0M115.9 166.6h0M131.0 152.9h0M166.1 117.0h0M161.1 153.7h0M60.8 195.6h0M50.7 164.4h0M80.8 191.5h0M100.9 119.8h0M141.0 167.0h0M80.8 192.5h0M181.2 155.3h0M151.1 165.4h0M161.1 133.6h0M156.1 164.6h0M146.0 141.2h0M70.8 187.6h0M80.8 127.9h0M191.2 111.5h0M95.9 161.2h0M171.1 137.2h0M131.0 178.4h0M166.1 115.2h0M146.0 172.2h0M191.2 139.6h0M65.8 185.2h0M181.2 136.0h0M60.8 169.5h0M146.0 174.4h0M80.8 162.7h0M75.8 192.8h0M166.1 143.8h0M85.8 131.6h0M171.1 147.4h0M136.0 175.4h0M80.8 190.4h0M186.2 127.9h0M70.8 137.6h0M80.8 191.1h0M141.0 174.1h0M95.9 184.6h0M85.8 182.1h0M115.9 164.4h0M55.7 146.9h0M121.0 168.3h0M105.9 128.1h0M80.8 189.3h0M196.2 134.6h0M136.0 141.2h0M196.2 124.1h0M176.1 154.3h0M45.7 201.2h0M121.0 163.6h0M70.8 171.9h0M131.0 154.0h0M105.9 139.6h0M131.0 174.9h0M181.2 110.8h0M121.0 144.9h0M50.7 202.1h0M151.1 139.9h0M70.8 117.0h0M95.9 155.8h0M166.1 130.8h0M181.2 133.0h0M55.7 144.5h0M75.8 141.3h0M191.2 150.0h0M115.9 178.7h0M95.9 159.1h0M110.9 118.1h0M65.8 172.3h0M85.8 128.9h0M85.8 157.9h0M90.9 181.9h0M121.0 110.4h0M105.9 162.9h0M80.8 170.3h0M171.1 119.9h0M90.9 142.6h0M70.8 172.7h0M95.9 186.4h0M186.2 112.9h0M126.0 162.4h0M141.0 165.5h0M85.8 182.1h0M156.1 165.0h0M176.1 134.1h0M191.2 110.0h0M151.1 149.3h0M55.7 115.5h0M131.0 116.3h0M75.8 188.5h0M65.8 144.1h0M126.0 172.5h0M196.2 145.4h0M121.0 167.2h0M100.9 182.9h0" stroke="#4C72B0" stroke-width="3.1" stroke-linecap="round" fill="none"/>
<text x="41.7" y="101.7" font-size="7.8" fill="#1c1c28" textLength="147.8" lengthAdjust="spacingAndGlyphs" stroke="#1c1c28" stroke-width="0.12">Ground sDA vs Ground Floor Height scatter plot</text>
<text x="32.6" y="203.70000000000002" font-size="5.7" fill="#555" text-anchor="end" >30</text>
<text x="32.6" y="190.51000000000002" font-size="5.7" fill="#555" text-anchor="end" >40</text>
<text x="32.6" y="177.32000000000002" font-size="5.7" fill="#555" text-anchor="end" >50</text>
<text x="32.6" y="164.13000000000002" font-size="5.7" fill="#555" text-anchor="end" >60</text>
<text x="32.6" y="150.94000000000003" font-size="5.7" fill="#555" text-anchor="end" >70</text>
<text x="32.6" y="137.75000000000003" font-size="5.7" fill="#555" text-anchor="end" >80</text>
<text x="32.6" y="124.56000000000002" font-size="5.7" fill="#555" text-anchor="end" >90</text>
<text x="32.6" y="111.37000000000002" font-size="5.7" fill="#555" text-anchor="end" >100</text>
<text x="45.7" y="221" font-size="5.7" fill="#555" text-anchor="middle" >3.0</text>
<text x="70.785" y="221" font-size="5.7" fill="#555" text-anchor="middle" >3.5</text>
<text x="95.87" y="221" font-size="5.7" fill="#555" text-anchor="middle" >4.0</text>
<text x="120.955" y="221" font-size="5.7" fill="#555" text-anchor="middle" >4.5</text>
<text x="146.04000000000002" y="221" font-size="5.7" fill="#555" text-anchor="middle" >5.0</text>
<text x="171.125" y="221" font-size="5.7" fill="#555" text-anchor="middle" >5.5</text>
<text x="196.20999999999998" y="221" font-size="5.7" fill="#555" text-anchor="middle" >6.0</text>
<text x="93.8" y="228.4" font-size="6.6" fill="#444" textLength="54.7" lengthAdjust="spacingAndGlyphs" >groundFloorHeight</text>
<text x="0" y="0" font-size="6.6" fill="#444" transform="translate(19.2 159) rotate(-90)" text-anchor="middle">groundsDA</text>
<text x="39.4" y="240.9" font-size="5.2" fill="#111" textLength="109.4" lengthAdjust="spacingAndGlyphs" font-weight="bold" >**strong correlations for floor heights and daylighting</text>
<rect x="277.7" y="101.8" width="169.40000000000003" height="109.89999999999999" fill="#EAEAF2"/>
<path d="M284.9 101.8V211.7M310.7 101.8V211.7M336.4 101.8V211.7M362.2 101.8V211.7M388.0 101.8V211.7M413.7 101.8V211.7M439.5 101.8V211.7M277.7 211.7H447.1M277.7 195.0H447.1M277.7 178.3H447.1M277.7 161.6H447.1M277.7 144.9H447.1M277.7 128.2H447.1M277.7 111.5H447.1" stroke="#fff" stroke-width="0.8" fill="none"/>
<g fill="#4C72B0" stroke="#22263a" stroke-width="0.6"><rect x="284.70" y="125.69" width="5.17" height="86.00"/><rect x="289.87" y="138.22" width="5.17" height="73.48"/><rect x="295.05" y="115.67" width="5.17" height="96.02"/><rect x="300.22" y="139.06" width="5.17" height="72.64"/><rect x="305.39" y="131.54" width="5.17" height="80.16"/><rect x="310.57" y="122.35" width="5.17" height="89.34"/><rect x="315.74" y="144.06" width="5.17" height="67.63"/><rect x="320.91" y="138.22" width="5.17" height="73.48"/><rect x="326.09" y="129.87" width="5.17" height="81.83"/><rect x="331.26" y="138.22" width="5.17" height="73.48"/><rect x="336.43" y="129.87" width="5.17" height="81.83"/><rect x="341.61" y="119.85" width="5.17" height="91.85"/><rect x="346.78" y="121.52" width="5.17" height="90.18"/><rect x="351.95" y="131.54" width="5.17" height="80.16"/><rect x="357.13" y="112.33" width="5.17" height="99.36"/><rect x="362.30" y="142.39" width="5.17" height="69.30"/><rect x="367.47" y="136.55" width="5.17" height="75.15"/><rect x="372.65" y="122.35" width="5.17" height="89.34"/><rect x="377.82" y="124.86" width="5.17" height="86.84"/><rect x="382.99" y="124.86" width="5.17" height="86.84"/><rect x="388.17" y="106.49" width="5.17" height="105.21"/><rect x="393.34" y="124.86" width="5.17" height="86.84"/><rect x="398.51" y="129.87" width="5.17" height="81.83"/><rect x="403.69" y="139.89" width="5.17" height="71.81"/><rect x="408.86" y="134.88" width="5.17" height="76.82"/><rect x="414.03" y="128.20" width="5.17" height="83.50"/><rect x="419.21" y="129.87" width="5.17" height="81.83"/><rect x="424.38" y="129.87" width="5.17" height="81.83"/><rect x="429.55" y="134.88" width="5.17" height="76.82"/><rect x="434.73" y="134.04" width="5.17" height="77.66"/></g>
<ellipse cx="360.5" cy="134" rx="92" ry="14" fill="none" stroke="#e8262b" stroke-width="1.3" stroke-dasharray="3.5 2.5"/>
<text x="282.2" y="96" font-size="7.8" fill="#1c1c28" textLength="71.7" lengthAdjust="spacingAndGlyphs" stroke="#1c1c28" stroke-width="0.12">Atrium Area Histogram</text>
<text x="272.5" y="213.6" font-size="5.7" fill="#555" text-anchor="end" >0</text>
<text x="272.5" y="196.9" font-size="5.7" fill="#555" text-anchor="end" >20</text>
<text x="272.5" y="180.2" font-size="5.7" fill="#555" text-anchor="end" >40</text>
<text x="272.5" y="163.5" font-size="5.7" fill="#555" text-anchor="end" >60</text>
<text x="272.5" y="146.79999999999998" font-size="5.7" fill="#555" text-anchor="end" >80</text>
<text x="272.5" y="130.1" font-size="5.7" fill="#555" text-anchor="end" >100</text>
<text x="272.5" y="113.4" font-size="5.7" fill="#555" text-anchor="end" >120</text>
<text x="284.9" y="220.7" font-size="5.7" fill="#555" text-anchor="middle" >1000</text>
<text x="310.66499999999996" y="220.7" font-size="5.7" fill="#555" text-anchor="middle" >1500</text>
<text x="336.42999999999995" y="220.7" font-size="5.7" fill="#555" text-anchor="middle" >2000</text>
<text x="362.195" y="220.7" font-size="5.7" fill="#555" text-anchor="middle" >2500</text>
<text x="387.96" y="220.7" font-size="5.7" fill="#555" text-anchor="middle" >3000</text>
<text x="413.72499999999997" y="220.7" font-size="5.7" fill="#555" text-anchor="middle" >3500</text>
<text x="439.49" y="220.7" font-size="5.7" fill="#555" text-anchor="middle" >4000</text>
<text x="362" y="228.4" font-size="6.6" fill="#444" text-anchor="middle" >Atrium Area</text>
<text x="0" y="0" font-size="6.6" fill="#444" transform="translate(257 158) rotate(-90)" text-anchor="middle">Sample count</text>
<text x="282.8" y="241.5" font-size="5.2" fill="#111" textLength="84.2" lengthAdjust="spacingAndGlyphs" font-weight="bold" >**even distribution of features, improved</text>
<rect x="23.6" y="272.7" width="205.0" height="132.3" fill="#EAEAF2"/>
<path d="M32.7 272.7V405M59.3 272.7V405M86.0 272.7V405M112.6 272.7V405M139.3 272.7V405M165.9 272.7V405M192.5 272.7V405M219.2 272.7V405M23.6 399.3H228.6M23.6 375.1H228.6M23.6 350.8H228.6M23.6 326.6H228.6M23.6 302.3H228.6M23.6 278.1H228.6" stroke="#fff" stroke-width="0.6" opacity="0.75" fill="none"/>
<polyline points="32.7,367 46.0,355 59.3,345.3 72.7,337.4 86.0,329.4 99.3,321.5 112.6,313.6 125.9,305.6 139.3,297.7 152.6,289.7 165.9,281.8 179.2,279.2 192.5,278.1 205.9,278 219.2,278" fill="none" stroke="#DD8452" stroke-width="0.5"/>
<polyline points="32.7,367 46.0,387 59.3,389.9 72.7,390.8 86.0,391.3 99.3,391.3 112.6,391.3 125.9,391.5 139.3,391.7 152.6,392 165.9,392.4 179.2,397.5 192.5,398.2 205.9,398.8 219.2,399.3" fill="none" stroke="#5f82bd" stroke-width="0.5"/>
<rect x="24.5" y="273.2" width="27.2" height="8" fill="#EEEEF4" stroke="#e4e4ea" stroke-width="0.3"/>
<path d="M26.3 275.4h5.4" stroke="#a9bbdc" stroke-width="0.6"/><path d="M26.3 279h5.4" stroke="#DD8452" stroke-width="0.5"/>
<path d="M33.6 275.4h4M33.6 279h17.2" stroke="#aaa" stroke-width="0.8"/>
<path d="M166.2 264V407" stroke="#ec4a4a" stroke-width="1.1" stroke-dasharray="1.4 2"/>
<text x="164" y="417.7" font-size="8.6" fill="#f0201e" text-anchor="middle" stroke="#f0201e" stroke-width="0.3">10</text>
<circle cx="166.4" cy="424" r="0.5" fill="#f5a0a0"/>
<text x="18.8" y="401.1" font-size="3.2" fill="#444" text-anchor="middle" >0.0</text>
<text x="18.8" y="376.86" font-size="3.2" fill="#444" text-anchor="middle" >0.2</text>
<text x="18.8" y="352.62" font-size="3.2" fill="#444" text-anchor="middle" >0.4</text>
<text x="18.8" y="328.38" font-size="3.2" fill="#444" text-anchor="middle" >0.6</text>
<text x="18.8" y="304.14000000000004" font-size="3.2" fill="#444" text-anchor="middle" >0.8</text>
<text x="18.8" y="279.90000000000003" font-size="3.2" fill="#444" text-anchor="middle" >1.0</text>
<text x="32.7" y="409.5" font-size="3.2" fill="#555" text-anchor="middle" >0</text>
<text x="59.34" y="409.5" font-size="3.2" fill="#555" text-anchor="middle" >2</text>
<text x="85.98" y="409.5" font-size="3.2" fill="#555" text-anchor="middle" >4</text>
<text x="112.62" y="409.5" font-size="3.2" fill="#555" text-anchor="middle" >6</text>
<text x="139.26" y="409.5" font-size="3.2" fill="#555" text-anchor="middle" >8</text>
<text x="192.54000000000002" y="409.5" font-size="3.2" fill="#555" text-anchor="middle" >12</text>
<text x="219.18" y="409.5" font-size="3.2" fill="#555" text-anchor="middle" >14</text>
<text x="24.1" y="263" font-size="7.8" fill="#1c1c28" textLength="202.8" lengthAdjust="spacingAndGlyphs" stroke="#1c1c28" stroke-width="0.12">Axis Subplot/ Explained Variance Ratio (EVR) and cumulative sum</text>
<text x="24.4" y="434" font-size="5.2" fill="#111" textLength="100.1" lengthAdjust="spacingAndGlyphs" font-weight="bold" >**variance ratio improved with feature reduction</text>
<g><rect x="290.8" y="272.00" width="12.1" height="7.40" fill="#276419"/><rect x="302.8" y="272.00" width="12.1" height="7.40" fill="#fce3f0"/><rect x="314.8" y="272.00" width="12.1" height="7.40" fill="#fde2f0"/><rect x="326.8" y="272.00" width="12.1" height="7.40" fill="#fce3f0"/><rect x="338.8" y="272.00" width="12.1" height="7.40" fill="#fce3f0"/><rect x="350.8" y="272.00" width="12.1" height="7.40" fill="#fde0ef"/><rect x="362.8" y="272.00" width="12.1" height="7.40" fill="#fde0ef"/><rect x="374.8" y="272.00" width="12.1" height="7.40" fill="#fce4f0"/><rect x="386.8" y="272.00" width="12.1" height="7.40" fill="#fde1ef"/><rect x="398.8" y="272.00" width="12.1" height="7.40" fill="#fde1ef"/><rect x="410.8" y="272.00" width="12.1" height="7.40" fill="#fce5f1"/><rect x="422.8" y="272.00" width="12.1" height="7.40" fill="#fce2f0"/><rect x="434.8" y="272.00" width="12.1" height="7.40" fill="#f8f1f5"/><rect x="446.8" y="272.00" width="12.1" height="7.40" fill="#fce2f0"/><rect x="458.8" y="272.00" width="12.1" height="7.40" fill="#edf6e0"/><rect x="290.8" y="279.30" width="12.1" height="7.40" fill="#fde1ef"/><rect x="302.8" y="279.30" width="12.1" height="7.40" fill="#276419"/><rect x="314.8" y="279.30" width="12.1" height="7.40" fill="#fce4f0"/><rect x="326.8" y="279.30" width="12.1" height="7.40" fill="#fce2f0"/><rect x="338.8" y="279.30" width="12.1" height="7.40" fill="#fce3f0"/><rect x="350.8" y="279.30" width="12.1" height="7.40" fill="#fce3f0"/><rect x="362.8" y="279.30" width="12.1" height="7.40" fill="#fde0ef"/><rect x="374.8" y="279.30" width="12.1" height="7.40" fill="#fce3f0"/><rect x="386.8" y="279.30" width="12.1" height="7.40" fill="#fce3f0"/><rect x="398.8" y="279.30" width="12.1" height="7.40" fill="#fde1ef"/><rect x="410.8" y="279.30" width="12.1" height="7.40" fill="#fde0ef"/><rect x="422.8" y="279.30" width="12.1" height="7.40" fill="#fce4f0"/><rect x="434.8" y="279.30" width="12.1" height="7.40" fill="#fce2f0"/><rect x="446.8" y="279.30" width="12.1" height="7.40" fill="#fce3f0"/><rect x="458.8" y="279.30" width="12.1" height="7.40" fill="#fce4f0"/><rect x="290.8" y="286.60" width="12.1" height="7.40" fill="#fce3f0"/><rect x="302.8" y="286.60" width="12.1" height="7.40" fill="#fce4f0"/><rect x="314.8" y="286.60" width="12.1" height="7.40" fill="#276419"/><rect x="326.8" y="286.60" width="12.1" height="7.40" fill="#fce4f0"/><rect x="338.8" y="286.60" width="12.1" height="7.40" fill="#fce2f0"/><rect x="350.8" y="286.60" width="12.1" height="7.40" fill="#fce4f0"/><rect x="362.8" y="286.60" width="12.1" height="7.40" fill="#fce4f0"/><rect x="374.8" y="286.60" width="12.1" height="7.40" fill="#fde0ef"/><rect x="386.8" y="286.60" width="12.1" height="7.40" fill="#fde1ef"/><rect x="398.8" y="286.60" width="12.1" height="7.40" fill="#fde1ef"/><rect x="410.8" y="286.60" width="12.1" height="7.40" fill="#fce4f1"/><rect x="422.8" y="286.60" width="12.1" height="7.40" fill="#f9eef4"/><rect x="434.8" y="286.60" width="12.1" height="7.40" fill="#f9f0f5"/><rect x="446.8" y="286.60" width="12.1" height="7.40" fill="#fde1ef"/><rect x="458.8" y="286.60" width="12.1" height="7.40" fill="#fce2f0"/><rect x="290.8" y="293.90" width="12.1" height="7.40" fill="#fde2f0"/><rect x="302.8" y="293.90" width="12.1" height="7.40" fill="#fde2f0"/><rect x="314.8" y="293.90" width="12.1" height="7.40" fill="#fce3f0"/><rect x="326.8" y="293.90" width="12.1" height="7.40" fill="#276419"/><rect x="338.8" y="293.90" width="12.1" height="7.40" fill="#fce4f0"/><rect x="350.8" y="293.90" width="12.1" height="7.40" fill="#fce3f0"/><rect x="362.8" y="293.90" width="12.1" height="7.40" fill="#fce4f0"/><rect x="374.8" y="293.90" width="12.1" height="7.40" fill="#fce4f0"/><rect x="386.8" y="293.90" width="12.1" height="7.40" fill="#fce5f1"/><rect x="398.8" y="293.90" width="12.1" height="7.40" fill="#fce3f0"/><rect x="410.8" y="293.90" width="12.1" height="7.40" fill="#fde1ef"/><rect x="422.8" y="293.90" width="12.1" height="7.40" fill="#fce4f0"/><rect x="434.8" y="293.90" width="12.1" height="7.40" fill="#fce4f1"/><rect x="446.8" y="293.90" width="12.1" height="7.40" fill="#fce4f0"/><rect x="458.8" y="293.90" width="12.1" height="7.40" fill="#fce3f0"/><rect x="290.8" y="301.20" width="12.1" height="7.40" fill="#fce3f0"/><rect x="302.8" y="301.20" width="12.1" height="7.40" fill="#fde1ef"/><rect x="314.8" y="301.20" width="12.1" height="7.40" fill="#fce4f0"/><rect x="326.8" y="301.20" width="12.1" height="7.40" fill="#fce3f0"/><rect x="338.8" y="301.20" width="12.1" height="7.40" fill="#276419"/><rect x="350.8" y="301.20" width="12.1" height="7.40" fill="#fde0ef"/><rect x="362.8" y="301.20" width="12.1" height="7.40" fill="#fce4f0"/><rect x="374.8" y="301.20" width="12.1" height="7.40" fill="#fce5f1"/><rect x="386.8" y="301.20" width="12.1" height="7.40" fill="#fde0ef"/><rect x="398.8" y="301.20" width="12.1" height="7.40" fill="#fce4f0"/><rect x="410.8" y="301.20" width="12.1" height="7.40" fill="#fde2f0"/><rect x="422.8" y="301.20" width="12.1" height="7.40" fill="#9c085d"/><rect x="434.8" y="301.20" width="12.1" height="7.40" fill="#9c085d"/><rect x="446.8" y="301.20" width="12.1" height="7.40" fill="#9c085d"/><rect x="458.8" y="301.20" width="12.1" height="7.40" fill="#9c085d"/><rect x="290.8" y="308.50" width="12.1" height="7.40" fill="#fde0ef"/><rect x="302.8" y="308.50" width="12.1" height="7.40" fill="#fce3f0"/><rect x="314.8" y="308.50" width="12.1" height="7.40" fill="#fde0ef"/><rect x="326.8" y="308.50" width="12.1" height="7.40" fill="#fce3f0"/><rect x="338.8" y="308.50" width="12.1" height="7.40" fill="#fde2f0"/><rect x="350.8" y="308.50" width="12.1" height="7.40" fill="#276419"/><rect x="362.8" y="308.50" width="12.1" height="7.40" fill="#fce5f1"/><rect x="374.8" y="308.50" width="12.1" height="7.40" fill="#fce2f0"/><rect x="386.8" y="308.50" width="12.1" height="7.40" fill="#fce5f1"/><rect x="398.8" y="308.50" width="12.1" height="7.40" fill="#fde1ef"/><rect x="410.8" y="308.50" width="12.1" height="7.40" fill="#f8f1f5"/><rect x="422.8" y="308.50" width="12.1" height="7.40" fill="#f8cfe7"/><rect x="434.8" y="308.50" width="12.1" height="7.40" fill="#e690c0"/><rect x="446.8" y="308.50" width="12.1" height="7.40" fill="#e896c4"/><rect x="458.8" y="308.50" width="12.1" height="7.40" fill="#eca6cf"/><rect x="290.8" y="315.80" width="12.1" height="7.40" fill="#fce3f0"/><rect x="302.8" y="315.80" width="12.1" height="7.40" fill="#fde1ef"/><rect x="314.8" y="315.80" width="12.1" height="7.40" fill="#fde0ef"/><rect x="326.8" y="315.80" width="12.1" height="7.40" fill="#fce4f0"/><rect x="338.8" y="315.80" width="12.1" height="7.40" fill="#fde1f0"/><rect x="350.8" y="315.80" width="12.1" height="7.40" fill="#fce4f1"/><rect x="362.8" y="315.80" width="12.1" height="7.40" fill="#276419"/><rect x="374.8" y="315.80" width="12.1" height="7.40" fill="#fde2f0"/><rect x="386.8" y="315.80" width="12.1" height="7.40" fill="#fce2f0"/><rect x="398.8" y="315.80" width="12.1" height="7.40" fill="#fce2f0"/><rect x="410.8" y="315.80" width="12.1" height="7.40" fill="#fce3f0"/><rect x="422.8" y="315.80" width="12.1" height="7.40" fill="#fce3f0"/><rect x="434.8" y="315.80" width="12.1" height="7.40" fill="#fce3f0"/><rect x="446.8" y="315.80" width="12.1" height="7.40" fill="#fce3f0"/><rect x="458.8" y="315.80" width="12.1" height="7.40" fill="#fce4f1"/><rect x="290.8" y="323.10" width="12.1" height="7.40" fill="#fce2f0"/><rect x="302.8" y="323.10" width="12.1" height="7.40" fill="#fce2f0"/><rect x="314.8" y="323.10" width="12.1" height="7.40" fill="#fce3f0"/><rect x="326.8" y="323.10" width="12.1" height="7.40" fill="#fde1ef"/><rect x="338.8" y="323.10" width="12.1" height="7.40" fill="#fde1ef"/><rect x="350.8" y="323.10" width="12.1" height="7.40" fill="#fce4f1"/><rect x="362.8" y="323.10" width="12.1" height="7.40" fill="#fce2f0"/><rect x="374.8" y="323.10" width="12.1" height="7.40" fill="#276419"/><rect x="386.8" y="323.10" width="12.1" height="7.40" fill="#fde0ef"/><rect x="398.8" y="323.10" width="12.1" height="7.40" fill="#fde2f0"/><rect x="410.8" y="323.10" width="12.1" height="7.40" fill="#fce3f0"/><rect x="422.8" y="323.10" width="12.1" height="7.40" fill="#fde0ef"/><rect x="434.8" y="323.10" width="12.1" height="7.40" fill="#fce3f0"/><rect x="446.8" y="323.10" width="12.1" height="7.40" fill="#fce3f0"/><rect x="458.8" y="323.10" width="12.1" height="7.40" fill="#fde0ef"/><rect x="290.8" y="330.40" width="12.1" height="7.40" fill="#fce3f0"/><rect x="302.8" y="330.40" width="12.1" height="7.40" fill="#fce2f0"/><rect x="314.8" y="330.40" width="12.1" height="7.40" fill="#fce3f0"/><rect x="326.8" y="330.40" width="12.1" height="7.40" fill="#fde2f0"/><rect x="338.8" y="330.40" width="12.1" height="7.40" fill="#fce3f0"/><rect x="350.8" y="330.40" width="12.1" height="7.40" fill="#fce3f0"/><rect x="362.8" y="330.40" width="12.1" height="7.40" fill="#fde0ef"/><rect x="374.8" y="330.40" width="12.1" height="7.40" fill="#fde0ef"/><rect x="386.8" y="330.40" width="12.1" height="7.40" fill="#276419"/><rect x="398.8" y="330.40" width="12.1" height="7.40" fill="#fce4f1"/><rect x="410.8" y="330.40" width="12.1" height="7.40" fill="#fde1ef"/><rect x="422.8" y="330.40" width="12.1" height="7.40" fill="#aad875"/><rect x="434.8" y="330.40" width="12.1" height="7.40" fill="#faecf3"/><rect x="446.8" y="330.40" width="12.1" height="7.40" fill="#b2dd7f"/><rect x="458.8" y="330.40" width="12.1" height="7.40" fill="#fce6f1"/><rect x="290.8" y="337.70" width="12.1" height="7.40" fill="#fde1f0"/><rect x="302.8" y="337.70" width="12.1" height="7.40" fill="#fde2f0"/><rect x="314.8" y="337.70" width="12.1" height="7.40" fill="#fce3f0"/><rect x="326.8" y="337.70" width="12.1" height="7.40" fill="#fde1ef"/><rect x="338.8" y="337.70" width="12.1" height="7.40" fill="#fde2f0"/><rect x="350.8" y="337.70" width="12.1" height="7.40" fill="#fce4f0"/><rect x="362.8" y="337.70" width="12.1" height="7.40" fill="#fde0ef"/><rect x="374.8" y="337.70" width="12.1" height="7.40" fill="#fce3f0"/><rect x="386.8" y="337.70" width="12.1" height="7.40" fill="#fce3f0"/><rect x="398.8" y="337.70" width="12.1" height="7.40" fill="#276419"/><rect x="410.8" y="337.70" width="12.1" height="7.40" fill="#fde1ef"/><rect x="422.8" y="337.70" width="12.1" height="7.40" fill="#faecf3"/><rect x="434.8" y="337.70" width="12.1" height="7.40" fill="#f8f4f6"/><rect x="446.8" y="337.70" width="12.1" height="7.40" fill="#fbe9f2"/><rect x="458.8" y="337.70" width="12.1" height="7.40" fill="#f8f2f5"/><rect x="290.8" y="345.00" width="12.1" height="7.40" fill="#fce3f0"/><rect x="302.8" y="345.00" width="12.1" height="7.40" fill="#fde0ef"/><rect x="314.8" y="345.00" width="12.1" height="7.40" fill="#fde1f0"/><rect x="326.8" y="345.00" width="12.1" height="7.40" fill="#fde2f0"/><rect x="338.8" y="345.00" width="12.1" height="7.40" fill="#fce4f0"/><rect x="350.8" y="345.00" width="12.1" height="7.40" fill="#f8f1f5"/><rect x="362.8" y="345.00" width="12.1" height="7.40" fill="#fce4f0"/><rect x="374.8" y="345.00" width="12.1" height="7.40" fill="#fde1ef"/><rect x="386.8" y="345.00" width="12.1" height="7.40" fill="#fde2f0"/><rect x="398.8" y="345.00" width="12.1" height="7.40" fill="#fce3f0"/><rect x="410.8" y="345.00" width="12.1" height="7.40" fill="#276419"/><rect x="422.8" y="345.00" width="12.1" height="7.40" fill="#fde0ef"/><rect x="434.8" y="345.00" width="12.1" height="7.40" fill="#e896c4"/><rect x="446.8" y="345.00" width="12.1" height="7.40" fill="#f4c0df"/><rect x="458.8" y="345.00" width="12.1" height="7.40" fill="#e896c4"/><rect x="290.8" y="352.30" width="12.1" height="7.40" fill="#fde1ef"/><rect x="302.8" y="352.30" width="12.1" height="7.40" fill="#fce4f0"/><rect x="314.8" y="352.30" width="12.1" height="7.40" fill="#f9f0f5"/><rect x="326.8" y="352.30" width="12.1" height="7.40" fill="#fde1ef"/><rect x="338.8" y="352.30" width="12.1" height="7.40" fill="#9c085d"/><rect x="350.8" y="352.30" width="12.1" height="7.40" fill="#f8cfe7"/><rect x="362.8" y="352.30" width="12.1" height="7.40" fill="#fce3f0"/><rect x="374.8" y="352.30" width="12.1" height="7.40" fill="#fce4f0"/><rect x="386.8" y="352.30" width="12.1" height="7.40" fill="#9cce64"/><rect x="398.8" y="352.30" width="12.1" height="7.40" fill="#faecf3"/><rect x="410.8" y="352.30" width="12.1" height="7.40" fill="#fde0ef"/><rect x="422.8" y="352.30" width="12.1" height="7.40" fill="#276419"/><rect x="434.8" y="352.30" width="12.1" height="7.40" fill="#9cce64"/><rect x="446.8" y="352.30" width="12.1" height="7.40" fill="#61a32e"/><rect x="458.8" y="352.30" width="12.1" height="7.40" fill="#a1d26a"/><rect x="290.8" y="359.60" width="12.1" height="7.40" fill="#f8f1f5"/><rect x="302.8" y="359.60" width="12.1" height="7.40" fill="#fde2f0"/><rect x="314.8" y="359.60" width="12.1" height="7.40" fill="#f9f0f5"/><rect x="326.8" y="359.60" width="12.1" height="7.40" fill="#fde1ef"/><rect x="338.8" y="359.60" width="12.1" height="7.40" fill="#9c085d"/><rect x="350.8" y="359.60" width="12.1" height="7.40" fill="#e690c0"/><rect x="362.8" y="359.60" width="12.1" height="7.40" fill="#fce4f0"/><rect x="374.8" y="359.60" width="12.1" height="7.40" fill="#fce5f1"/><rect x="386.8" y="359.60" width="12.1" height="7.40" fill="#f9eef4"/><rect x="398.8" y="359.60" width="12.1" height="7.40" fill="#f8f4f6"/><rect x="410.8" y="359.60" width="12.1" height="7.40" fill="#e99dc8"/><rect x="422.8" y="359.60" width="12.1" height="7.40" fill="#9cce64"/><rect x="434.8" y="359.60" width="12.1" height="7.40" fill="#276419"/><rect x="446.8" y="359.60" width="12.1" height="7.40" fill="#7ab83e"/><rect x="458.8" y="359.60" width="12.1" height="7.40" fill="#70af37"/><rect x="290.8" y="366.90" width="12.1" height="7.40" fill="#fce2f0"/><rect x="302.8" y="366.90" width="12.1" height="7.40" fill="#fde1ef"/><rect x="314.8" y="366.90" width="12.1" height="7.40" fill="#f9eef4"/><rect x="326.8" y="366.90" width="12.1" height="7.40" fill="#fde1ef"/><rect x="338.8" y="366.90" width="12.1" height="7.40" fill="#9c085d"/><rect x="350.8" y="366.90" width="12.1" height="7.40" fill="#e896c4"/><rect x="362.8" y="366.90" width="12.1" height="7.40" fill="#fde1ef"/><rect x="374.8" y="366.90" width="12.1" height="7.40" fill="#fce4f0"/><rect x="386.8" y="366.90" width="12.1" height="7.40" fill="#a1d26a"/><rect x="398.8" y="366.90" width="12.1" height="7.40" fill="#fbe9f2"/><rect x="410.8" y="366.90" width="12.1" height="7.40" fill="#f7cbe4"/><rect x="422.8" y="366.90" width="12.1" height="7.40" fill="#61a32e"/><rect x="434.8" y="366.90" width="12.1" height="7.40" fill="#7ab83e"/><rect x="446.8" y="366.90" width="12.1" height="7.40" fill="#276419"/><rect x="458.8" y="366.90" width="12.1" height="7.40" fill="#85c048"/><rect x="290.8" y="374.20" width="12.1" height="7.40" fill="#edf6e0"/><rect x="302.8" y="374.20" width="12.1" height="7.40" fill="#fce3f0"/><rect x="314.8" y="374.20" width="12.1" height="7.40" fill="#fde1ef"/><rect x="326.8" y="374.20" width="12.1" height="7.40" fill="#fde1ef"/><rect x="338.8" y="374.20" width="12.1" height="7.40" fill="#9c085d"/><rect x="350.8" y="374.20" width="12.1" height="7.40" fill="#eca6cf"/><rect x="362.8" y="374.20" width="12.1" height="7.40" fill="#fde2f0"/><rect x="374.8" y="374.20" width="12.1" height="7.40" fill="#fce4f1"/><rect x="386.8" y="374.20" width="12.1" height="7.40" fill="#fde0ef"/><rect x="398.8" y="374.20" width="12.1" height="7.40" fill="#f8f2f5"/><rect x="410.8" y="374.20" width="12.1" height="7.40" fill="#e896c4"/><rect x="422.8" y="374.20" width="12.1" height="7.40" fill="#a1d26a"/><rect x="434.8" y="374.20" width="12.1" height="7.40" fill="#70af37"/><rect x="446.8" y="374.20" width="12.1" height="7.40" fill="#85c048"/><rect x="458.8" y="374.20" width="12.1" height="7.40" fill="#276419"/></g>
<g><text x="296.8" y="276.70" font-size="3.4" fill="#fff" text-anchor="middle" opacity="0.55">1</text><text x="308.8" y="276.70" font-size="3.4" fill="#1a1a1a" text-anchor="middle" opacity="0.55">0.063</text><text x="320.8" y="276.70" font-size="3.4" fill="#1a1a1a" text-anchor="middle" opacity="0.55">-0.047</text><text x="332.8" y="276.70" font-size="3.4" fill="#1a1a1a" text-anchor="middle" opacity="0.55">0.021</text><text x="344.8" y="276.70" font-size="3.4" fill="#1a1a1a" text-anchor="middle" opacity="0.55">0.004</text><text x="356.8" y="276.70" font-size="3.4" fill="#1a1a1a" text-anchor="middle" opacity="0.55">0.038</text><text x="368.8" y="276.70" font-size="3.4" fill="#1a1a1a" text-anchor="middle" opacity="0.55">-0.08</text><text x="380.8" y="276.70" font-size="3.4" fill="#1a1a1a" text-anchor="middle" opacity="0.55">0.12</text><text x="392.8" y="276.70" font-size="3.4" fill="#1a1a1a" text-anchor="middle" opacity="0.55">0.038</text><text x="404.8" y="276.70" font-size="3.4" fill="#1a1a1a" text-anchor="middle" opacity="0.55">0.0051</text><text x="416.8" y="276.70" font-size="3.4" fill="#1a1a1a" text-anchor="middle" opacity="0.55">-0.013</text><text x="428.8" y="276.70" font-size="3.4" fill="#1a1a1a" text-anchor="middle" opacity="0.55">0.021</text><text x="440.8" y="276.70" font-size="3.4" fill="#1a1a1a" text-anchor="middle" opacity="0.55">-0.08</text><text x="452.8" y="276.70" font-size="3.4" fill="#1a1a1a" text-anchor="middle" opacity="0.55">0.12</text><text x="464.8" y="276.70" font-size="3.4" fill="#1a1a1a" text-anchor="middle" opacity="0.55">0.0095</text><text x="296.8" y="284.00" font-size="3.4" fill="#1a1a1a" text-anchor="middle" opacity="0.55">0.004</text><text x="308.8" y="284.00" font-size="3.4" fill="#fff" text-anchor="middle" opacity="0.55">1</text><text x="320.8" y="284.00" font-size="3.4" fill="#1a1a1a" text-anchor="middle" opacity="0.55">-0.013</text><text x="332.8" y="284.00" font-size="3.4" fill="#1a1a1a" text-anchor="middle" opacity="0.55">0.063</text><text x="344.8" y="284.00" font-size="3.4" fill="#1a1a1a" text-anchor="middle" opacity="0.55">0.12</text><text x="356.8" y="284.00" font-size="3.4" fill="#1a1a1a" text-anchor="middle" opacity="0.55">0.038</text><text x="368.8" y="284.00" font-size="3.4" fill="#1a1a1a" text-anchor="middle" opacity="0.55">0.12</text><text x="380.8" y="284.00" font-size="3.4" fill="#1a1a1a" text-anchor="middle" opacity="0.55">0.0095</text><text x="392.8" y="284.00" font-size="3.4" fill="#1a1a1a" text-anchor="middle" opacity="0.55">-0.047</text><text x="404.8" y="284.00" font-size="3.4" fill="#1a1a1a" text-anchor="middle" opacity="0.55">0.0051</text><text x="416.8" y="284.00" font-size="3.4" fill="#1a1a1a" text-anchor="middle" opacity="0.55">0.0095</text><text x="428.8" y="284.00" font-size="3.4" fill="#1a1a1a" text-anchor="middle" opacity="0.55">0.0051</text><text x="440.8" y="284.00" font-size="3.4" fill="#1a1a1a" text-anchor="middle" opacity="0.55">-0.013</text><text x="452.8" y="284.00" font-size="3.4" fill="#1a1a1a" text-anchor="middle" opacity="0.55">0.0051</text><text x="464.8" y="284.00" font-size="3.4" fill="#1a1a1a" text-anchor="middle" opacity="0.55">0.063</text><text x="296.8" y="291.30" font-size="3.4" fill="#1a1a1a" text-anchor="middle" opacity="0.55">0.063</text><text x="308.8" y="291.30" font-size="3.4" fill="#1a1a1a" text-anchor="middle" opacity="0.55">-0.08</text><text x="320.8" y="291.30" font-size="3.4" fill="#fff" text-anchor="middle" opacity="0.55">1</text><text x="332.8" y="291.30" font-size="3.4" fill="#1a1a1a" text-anchor="middle" opacity="0.55">0.0051</text><text x="344.8" y="291.30" font-size="3.4" fill="#1a1a1a" text-anchor="middle" opacity="0.55">0.0051</text><text x="356.8" y="291.30" font-size="3.4" fill="#1a1a1a" text-anchor="middle" opacity="0.55">0.038</text><text x="368.8" y="291.30" font-size="3.4" fill="#1a1a1a" text-anchor="middle" opacity="0.55">0.038</text><text x="380.8" y="291.30" font-size="3.4" fill="#1a1a1a" text-anchor="middle" opacity="0.55">0.12</text><text x="392.8" y="291.30" font-size="3.4" fill="#1a1a1a" text-anchor="middle" opacity="0.55">0.12</text><text x="404.8" y="291.30" font-size="3.4" fill="#1a1a1a" text-anchor="middle" opacity="0.55">0.0051</text><text x="416.8" y="291.30" font-size="3.4" fill="#1a1a1a" text-anchor="middle" opacity="0.55">0.0051</text><text x="428.8" y="291.30" font-size="3.4" fill="#1a1a1a" text-anchor="middle" opacity="0.55">-0.047</text><text x="440.8" y="291.30" font-size="3.4" fill="#1a1a1a" text-anchor="middle" opacity="0.55">0.021</text><text x="452.8" y="291.30" font-size="3.4" fill="#1a1a1a" text-anchor="middle" opacity="0.55">0.12</text><text x="464.8" y="291.30" font-size="3.4" fill="#1a1a1a" text-anchor="middle" opacity="0.55">0.004</text><text x="296.8" y="298.60" font-size="3.4" fill="#1a1a1a" text-anchor="middle" opacity="0.55">0.12</text><text x="308.8" y="298.60" font-size="3.4" fill="#1a1a1a" text-anchor="middle" opacity="0.55">0.0051</text><text x="320.8" y="298.60" font-size="3.4" fill="#1a1a1a" text-anchor="middle" opacity="0.55">0.12</text><text x="332.8" y="298.60" font-size="3.4" fill="#fff" text-anchor="middle" opacity="0.55">1</text><text x="344.8" y="298.60" font-size="3.4" fill="#1a1a1a" text-anchor="middle" opacity="0.55">0.0095</text><text x="356.8" y="298.60" font-size="3.4" fill="#1a1a1a" text-anchor="middle" opacity="0.55">-0.047</text><text x="368.8" y="298.60" font-size="3.4" fill="#1a1a1a" text-anchor="middle" opacity="0.55">0.038</text><text x="380.8" y="298.60" font-size="3.4" fill="#1a1a1a" text-anchor="middle" opacity="0.55">0.021</text><text x="392.8" y="298.60" font-size="3.4" fill="#1a1a1a" text-anchor="middle" opacity="0.55">0.0095</text><text x="404.8" y="298.60" font-size="3.4" fill="#1a1a1a" text-anchor="middle" opacity="0.55">0.0051</text><text x="416.8" y="298.60" font-size="3.4" fill="#1a1a1a" text-anchor="middle" opacity="0.55">0.0051</text><text x="428.8" y="298.60" font-size="3.4" fill="#1a1a1a" text-anchor="middle" opacity="0.55">-0.047</text><text x="440.8" y="298.60" font-size="3.4" fill="#1a1a1a" text-anchor="middle" opacity="0.55">-0.013</text><text x="452.8" y="298.60" font-size="3.4" fill="#1a1a1a" text-anchor="middle" opacity="0.55">0.021</text><text x="464.8" y="298.60" font-size="3.4" fill="#1a1a1a" text-anchor="middle" opacity="0.55">-0.047</text><text x="296.8" y="305.90" font-size="3.4" fill="#1a1a1a" text-anchor="middle" opacity="0.55">0.063</text><text x="308.8" y="305.90" font-size="3.4" fill="#1a1a1a" text-anchor="middle" opacity="0.55">0.063</text><text x="320.8" y="305.90" font-size="3.4" fill="#1a1a1a" text-anchor="middle" opacity="0.55">0.038</text><text x="332.8" y="305.90" font-size="3.4" fill="#1a1a1a" text-anchor="middle" opacity="0.55">0.063</text><text x="344.8" y="305.90" font-size="3.4" fill="#fff" text-anchor="middle" opacity="0.55">1</text><text x="356.8" y="305.90" font-size="3.4" fill="#1a1a1a" text-anchor="middle" opacity="0.55">0.021</text><text x="368.8" y="305.90" font-size="3.4" fill="#1a1a1a" text-anchor="middle" opacity="0.55">-0.013</text><text x="380.8" y="305.90" font-size="3.4" fill="#1a1a1a" text-anchor="middle" opacity="0.55">-0.047</text><text x="392.8" y="305.90" font-size="3.4" fill="#1a1a1a" text-anchor="middle" opacity="0.55">0.021</text><text x="404.8" y="305.90" font-size="3.4" fill="#1a1a1a" text-anchor="middle" opacity="0.55">-0.047</text><text x="416.8" y="305.90" font-size="3.4" fill="#1a1a1a" text-anchor="middle" opacity="0.55">-0.08</text><text x="428.8" y="305.90" font-size="3.4" fill="#fff" text-anchor="middle" opacity="0.55">0.021</text><text x="440.8" y="305.90" font-size="3.4" fill="#fff" text-anchor="middle" opacity="0.55">0.0051</text><text x="452.8" y="305.90" font-size="3.4" fill="#fff" text-anchor="middle" opacity="0.55">-0.08</text><text x="464.8" y="305.90" font-size="3.4" fill="#fff" text-anchor="middle" opacity="0.55">-0.08</text><text x="296.8" y="313.20" font-size="3.4" fill="#1a1a1a" text-anchor="middle" opacity="0.55">0.0051</text><text x="308.8" y="313.20" font-size="3.4" fill="#1a1a1a" text-anchor="middle" opacity="0.55">0.038</text><text x="320.8" y="313.20" font-size="3.4" fill="#1a1a1a" text-anchor="middle" opacity="0.55">-0.047</text><text x="332.8" y="313.20" font-size="3.4" fill="#1a1a1a" text-anchor="middle" opacity="0.55">0.038</text><text x="344.8" y="313.20" font-size="3.4" fill="#1a1a1a" text-anchor="middle" opacity="0.55">0.021</text><text x="356.8" y="313.20" font-size="3.4" fill="#fff" text-anchor="middle" opacity="0.55">1</text><text x="368.8" y="313.20" font-size="3.4" fill="#1a1a1a" text-anchor="middle" opacity="0.55">0.0095</text><text x="380.8" y="313.20" font-size="3.4" fill="#1a1a1a" text-anchor="middle" opacity="0.55">0.038</text><text x="392.8" y="313.20" font-size="3.4" fill="#1a1a1a" text-anchor="middle" opacity="0.55">0.004</text><text x="404.8" y="313.20" font-size="3.4" fill="#1a1a1a" text-anchor="middle" opacity="0.55">0.0095</text><text x="416.8" y="313.20" font-size="3.4" fill="#1a1a1a" text-anchor="middle" opacity="0.55">0.021</text><text x="428.8" y="313.20" font-size="3.4" fill="#1a1a1a" text-anchor="middle" opacity="0.55">0.0095</text><text x="440.8" y="313.20" font-size="3.4" fill="#1a1a1a" text-anchor="middle" opacity="0.55">0.063</text><text x="452.8" y="313.20" font-size="3.4" fill="#1a1a1a" text-anchor="middle" opacity="0.55">0.038</text><text x="464.8" y="313.20" font-size="3.4" fill="#1a1a1a" text-anchor="middle" opacity="0.55">-0.08</text><text x="296.8" y="320.50" font-size="3.4" fill="#1a1a1a" text-anchor="middle" opacity="0.55">0.038</text><text x="308.8" y="320.50" font-size="3.4" fill="#1a1a1a" text-anchor="middle" opacity="0.55">0.0051</text><text x="320.8" y="320.50" font-size="3.4" fill="#1a1a1a" text-anchor="middle" opacity="0.55">0.063</text><text x="332.8" y="320.50" font-size="3.4" fill="#1a1a1a" text-anchor="middle" opacity="0.55">0.12</text><text x="344.8" y="320.50" font-size="3.4" fill="#1a1a1a" text-anchor="middle" opacity="0.55">-0.013</text><text x="356.8" y="320.50" font-size="3.4" fill="#1a1a1a" text-anchor="middle" opacity="0.55">0.12</text><text x="368.8" y="320.50" font-size="3.4" fill="#fff" text-anchor="middle" opacity="0.55">1</text><text x="380.8" y="320.50" font-size="3.4" fill="#1a1a1a" text-anchor="middle" opacity="0.55">-0.08</text><text x="392.8" y="320.50" font-size="3.4" fill="#1a1a1a" text-anchor="middle" opacity="0.55">0.021</text><text x="404.8" y="320.50" font-size="3.4" fill="#1a1a1a" text-anchor="middle" opacity="0.55">0.004</text><text x="416.8" y="320.50" font-size="3.4" fill="#1a1a1a" text-anchor="middle" opacity="0.55">0.021</text><text x="428.8" y="320.50" font-size="3.4" fill="#1a1a1a" text-anchor="middle" opacity="0.55">0.004</text><text x="440.8" y="320.50" font-size="3.4" fill="#1a1a1a" text-anchor="middle" opacity="0.55">-0.047</text><text x="452.8" y="320.50" font-size="3.4" fill="#1a1a1a" text-anchor="middle" opacity="0.55">-0.08</text><text x="464.8" y="320.50" font-size="3.4" fill="#1a1a1a" text-anchor="middle" opacity="0.55">-0.013</text><text x="296.8" y="327.80" font-size="3.4" fill="#1a1a1a" text-anchor="middle" opacity="0.55">0.063</text><text x="308.8" y="327.80" font-size="3.4" fill="#1a1a1a" text-anchor="middle" opacity="0.55">0.021</text><text x="320.8" y="327.80" font-size="3.4" fill="#1a1a1a" text-anchor="middle" opacity="0.55">-0.047</text><text x="332.8" y="327.80" font-size="3.4" fill="#1a1a1a" text-anchor="middle" opacity="0.55">0.038</text><text x="344.8" y="327.80" font-size="3.4" fill="#1a1a1a" text-anchor="middle" opacity="0.55">0.0095</text><text x="356.8" y="327.80" font-size="3.4" fill="#1a1a1a" text-anchor="middle" opacity="0.55">-0.013</text><text x="368.8" y="327.80" font-size="3.4" fill="#1a1a1a" text-anchor="middle" opacity="0.55">0.12</text><text x="380.8" y="327.80" font-size="3.4" fill="#fff" text-anchor="middle" opacity="0.55">1</text><text x="392.8" y="327.80" font-size="3.4" fill="#1a1a1a" text-anchor="middle" opacity="0.55">0.021</text><text x="404.8" y="327.80" font-size="3.4" fill="#1a1a1a" text-anchor="middle" opacity="0.55">0.004</text><text x="416.8" y="327.80" font-size="3.4" fill="#1a1a1a" text-anchor="middle" opacity="0.55">0.063</text><text x="428.8" y="327.80" font-size="3.4" fill="#1a1a1a" text-anchor="middle" opacity="0.55">0.021</text><text x="440.8" y="327.80" font-size="3.4" fill="#1a1a1a" text-anchor="middle" opacity="0.55">0.0051</text><text x="452.8" y="327.80" font-size="3.4" fill="#1a1a1a" text-anchor="middle" opacity="0.55">0.021</text><text x="464.8" y="327.80" font-size="3.4" fill="#1a1a1a" text-anchor="middle" opacity="0.55">-0.047</text><text x="296.8" y="335.10" font-size="3.4" fill="#1a1a1a" text-anchor="middle" opacity="0.55">0.004</text><text x="308.8" y="335.10" font-size="3.4" fill="#1a1a1a" text-anchor="middle" opacity="0.55">-0.013</text><text x="320.8" y="335.10" font-size="3.4" fill="#1a1a1a" text-anchor="middle" opacity="0.55">-0.047</text><text x="332.8" y="335.10" font-size="3.4" fill="#1a1a1a" text-anchor="middle" opacity="0.55">0.021</text><text x="344.8" y="335.10" font-size="3.4" fill="#1a1a1a" text-anchor="middle" opacity="0.55">-0.047</text><text x="356.8" y="335.10" font-size="3.4" fill="#1a1a1a" text-anchor="middle" opacity="0.55">0.0051</text><text x="368.8" y="335.10" font-size="3.4" fill="#1a1a1a" text-anchor="middle" opacity="0.55">-0.013</text><text x="380.8" y="335.10" font-size="3.4" fill="#1a1a1a" text-anchor="middle" opacity="0.55">0.0051</text><text x="392.8" y="335.10" font-size="3.4" fill="#fff" text-anchor="middle" opacity="0.55">1</text><text x="404.8" y="335.10" font-size="3.4" fill="#1a1a1a" text-anchor="middle" opacity="0.55">-0.047</text><text x="416.8" y="335.10" font-size="3.4" fill="#1a1a1a" text-anchor="middle" opacity="0.55">-0.08</text><text x="428.8" y="335.10" font-size="3.4" fill="#1a1a1a" text-anchor="middle" opacity="0.55">0.0051</text><text x="440.8" y="335.10" font-size="3.4" fill="#1a1a1a" text-anchor="middle" opacity="0.55">0.038</text><text x="452.8" y="335.10" font-size="3.4" fill="#1a1a1a" text-anchor="middle" opacity="0.55">-0.013</text><text x="464.8" y="335.10" font-size="3.4" fill="#1a1a1a" text-anchor="middle" opacity="0.55">0.063</text><text x="296.8" y="342.40" font-size="3.4" fill="#1a1a1a" text-anchor="middle" opacity="0.55">0.004</text><text x="308.8" y="342.40" font-size="3.4" fill="#1a1a1a" text-anchor="middle" opacity="0.55">0.0095</text><text x="320.8" y="342.40" font-size="3.4" fill="#1a1a1a" text-anchor="middle" opacity="0.55">0.038</text><text x="332.8" y="342.40" font-size="3.4" fill="#1a1a1a" text-anchor="middle" opacity="0.55">0.12</text><text x="344.8" y="342.40" font-size="3.4" fill="#1a1a1a" text-anchor="middle" opacity="0.55">0.063</text><text x="356.8" y="342.40" font-size="3.4" fill="#1a1a1a" text-anchor="middle" opacity="0.55">0.021</text><text x="368.8" y="342.40" font-size="3.4" fill="#1a1a1a" text-anchor="middle" opacity="0.55">-0.047</text><text x="380.8" y="342.40" font-size="3.4" fill="#1a1a1a" text-anchor="middle" opacity="0.55">-0.08</text><text x="392.8" y="342.40" font-size="3.4" fill="#1a1a1a" text-anchor="middle" opacity="0.55">0.0095</text><text x="404.8" y="342.40" font-size="3.4" fill="#fff" text-anchor="middle" opacity="0.55">1</text><text x="416.8" y="342.40" font-size="3.4" fill="#1a1a1a" text-anchor="middle" opacity="0.55">0.0051</text><text x="428.8" y="342.40" font-size="3.4" fill="#1a1a1a" text-anchor="middle" opacity="0.55">0.038</text><text x="440.8" y="342.40" font-size="3.4" fill="#1a1a1a" text-anchor="middle" opacity="0.55">0.038</text><text x="452.8" y="342.40" font-size="3.4" fill="#1a1a1a" text-anchor="middle" opacity="0.55">-0.08</text><text x="464.8" y="342.40" font-size="3.4" fill="#1a1a1a" text-anchor="middle" opacity="0.55">0.021</text><text x="296.8" y="349.70" font-size="3.4" fill="#1a1a1a" text-anchor="middle" opacity="0.55">0.12</text><text x="308.8" y="349.70" font-size="3.4" fill="#1a1a1a" text-anchor="middle" opacity="0.55">0.0051</text><text x="320.8" y="349.70" font-size="3.4" fill="#1a1a1a" text-anchor="middle" opacity="0.55">0.063</text><text x="332.8" y="349.70" font-size="3.4" fill="#1a1a1a" text-anchor="middle" opacity="0.55">0.0051</text><text x="344.8" y="349.70" font-size="3.4" fill="#1a1a1a" text-anchor="middle" opacity="0.55">0.0095</text><text x="356.8" y="349.70" font-size="3.4" fill="#1a1a1a" text-anchor="middle" opacity="0.55">-0.013</text><text x="368.8" y="349.70" font-size="3.4" fill="#1a1a1a" text-anchor="middle" opacity="0.55">0.0051</text><text x="380.8" y="349.70" font-size="3.4" fill="#1a1a1a" text-anchor="middle" opacity="0.55">0.0095</text><text x="392.8" y="349.70" font-size="3.4" fill="#1a1a1a" text-anchor="middle" opacity="0.55">0.021</text><text x="404.8" y="349.70" font-size="3.4" fill="#1a1a1a" text-anchor="middle" opacity="0.55">0.0051</text><text x="416.8" y="349.70" font-size="3.4" fill="#fff" text-anchor="middle" opacity="0.55">1</text><text x="428.8" y="349.70" font-size="3.4" fill="#1a1a1a" text-anchor="middle" opacity="0.55">0.038</text><text x="440.8" y="349.70" font-size="3.4" fill="#1a1a1a" text-anchor="middle" opacity="0.55">0.0095</text><text x="452.8" y="349.70" font-size="3.4" fill="#1a1a1a" text-anchor="middle" opacity="0.55">-0.047</text><text x="464.8" y="349.70" font-size="3.4" fill="#1a1a1a" text-anchor="middle" opacity="0.55">0.0051</text><text x="296.8" y="357.00" font-size="3.4" fill="#1a1a1a" text-anchor="middle" opacity="0.55">-0.08</text><text x="308.8" y="357.00" font-size="3.4" fill="#1a1a1a" text-anchor="middle" opacity="0.55">0.063</text><text x="320.8" y="357.00" font-size="3.4" fill="#1a1a1a" text-anchor="middle" opacity="0.55">0.0051</text><text x="332.8" y="357.00" font-size="3.4" fill="#1a1a1a" text-anchor="middle" opacity="0.55">0.004</text><text x="344.8" y="357.00" font-size="3.4" fill="#fff" text-anchor="middle" opacity="0.55">-0.08</text><text x="356.8" y="357.00" font-size="3.4" fill="#1a1a1a" text-anchor="middle" opacity="0.55">-0.08</text><text x="368.8" y="357.00" font-size="3.4" fill="#1a1a1a" text-anchor="middle" opacity="0.55">0.021</text><text x="380.8" y="357.00" font-size="3.4" fill="#1a1a1a" text-anchor="middle" opacity="0.55">-0.08</text><text x="392.8" y="357.00" font-size="3.4" fill="#1a1a1a" text-anchor="middle" opacity="0.55">-0.047</text><text x="404.8" y="357.00" font-size="3.4" fill="#1a1a1a" text-anchor="middle" opacity="0.55">-0.047</text><text x="416.8" y="357.00" font-size="3.4" fill="#1a1a1a" text-anchor="middle" opacity="0.55">-0.08</text><text x="428.8" y="357.00" font-size="3.4" fill="#fff" text-anchor="middle" opacity="0.55">1</text><text x="440.8" y="357.00" font-size="3.4" fill="#1a1a1a" text-anchor="middle" opacity="0.55">0.0095</text><text x="452.8" y="357.00" font-size="3.4" fill="#fff" text-anchor="middle" opacity="0.55">0.0051</text><text x="464.8" y="357.00" font-size="3.4" fill="#1a1a1a" text-anchor="middle" opacity="0.55">-0.013</text><text x="296.8" y="364.30" font-size="3.4" fill="#1a1a1a" text-anchor="middle" opacity="0.55">0.0095</text><text x="308.8" y="364.30" font-size="3.4" fill="#1a1a1a" text-anchor="middle" opacity="0.55">0.004</text><text x="320.8" y="364.30" font-size="3.4" fill="#1a1a1a" text-anchor="middle" opacity="0.55">0.0051</text><text x="332.8" y="364.30" font-size="3.4" fill="#1a1a1a" text-anchor="middle" opacity="0.55">-0.08</text><text x="344.8" y="364.30" font-size="3.4" fill="#fff" text-anchor="middle" opacity="0.55">0.021</text><text x="356.8" y="364.30" font-size="3.4" fill="#1a1a1a" text-anchor="middle" opacity="0.55">0.0051</text><text x="368.8" y="364.30" font-size="3.4" fill="#1a1a1a" text-anchor="middle" opacity="0.55">-0.013</text><text x="380.8" y="364.30" font-size="3.4" fill="#1a1a1a" text-anchor="middle" opacity="0.55">-0.08</text><text x="392.8" y="364.30" font-size="3.4" fill="#1a1a1a" text-anchor="middle" opacity="0.55">-0.047</text><text x="404.8" y="364.30" font-size="3.4" fill="#1a1a1a" text-anchor="middle" opacity="0.55">0.004</text><text x="416.8" y="364.30" font-size="3.4" fill="#1a1a1a" text-anchor="middle" opacity="0.55">0.004</text><text x="428.8" y="364.30" font-size="3.4" fill="#1a1a1a" text-anchor="middle" opacity="0.55">0.004</text><text x="440.8" y="364.30" font-size="3.4" fill="#fff" text-anchor="middle" opacity="0.55">1</text><text x="452.8" y="364.30" font-size="3.4" fill="#fff" text-anchor="middle" opacity="0.55">0.021</text><text x="464.8" y="364.30" font-size="3.4" fill="#fff" text-anchor="middle" opacity="0.55">-0.013</text><text x="296.8" y="371.60" font-size="3.4" fill="#1a1a1a" text-anchor="middle" opacity="0.55">0.021</text><text x="308.8" y="371.60" font-size="3.4" fill="#1a1a1a" text-anchor="middle" opacity="0.55">0.063</text><text x="320.8" y="371.60" font-size="3.4" fill="#1a1a1a" text-anchor="middle" opacity="0.55">0.038</text><text x="332.8" y="371.60" font-size="3.4" fill="#1a1a1a" text-anchor="middle" opacity="0.55">-0.047</text><text x="344.8" y="371.60" font-size="3.4" fill="#fff" text-anchor="middle" opacity="0.55">0.021</text><text x="356.8" y="371.60" font-size="3.4" fill="#1a1a1a" text-anchor="middle" opacity="0.55">0.004</text><text x="368.8" y="371.60" font-size="3.4" fill="#1a1a1a" text-anchor="middle" opacity="0.55">-0.047</text><text x="380.8" y="371.60" font-size="3.4" fill="#1a1a1a" text-anchor="middle" opacity="0.55">-0.08</text><text x="392.8" y="371.60" font-size="3.4" fill="#1a1a1a" text-anchor="middle" opacity="0.55">-0.047</text><text x="404.8" y="371.60" font-size="3.4" fill="#1a1a1a" text-anchor="middle" opacity="0.55">-0.047</text><text x="416.8" y="371.60" font-size="3.4" fill="#1a1a1a" text-anchor="middle" opacity="0.55">0.021</text><text x="428.8" y="371.60" font-size="3.4" fill="#fff" text-anchor="middle" opacity="0.55">0.0051</text><text x="440.8" y="371.60" font-size="3.4" fill="#fff" text-anchor="middle" opacity="0.55">0.063</text><text x="452.8" y="371.60" font-size="3.4" fill="#fff" text-anchor="middle" opacity="0.55">1</text><text x="464.8" y="371.60" font-size="3.4" fill="#fff" text-anchor="middle" opacity="0.55">0.038</text><text x="296.8" y="378.90" font-size="3.4" fill="#1a1a1a" text-anchor="middle" opacity="0.55">-0.08</text><text x="308.8" y="378.90" font-size="3.4" fill="#1a1a1a" text-anchor="middle" opacity="0.55">0.004</text><text x="320.8" y="378.90" font-size="3.4" fill="#1a1a1a" text-anchor="middle" opacity="0.55">-0.047</text><text x="332.8" y="378.90" font-size="3.4" fill="#1a1a1a" text-anchor="middle" opacity="0.55">0.021</text><text x="344.8" y="378.90" font-size="3.4" fill="#fff" text-anchor="middle" opacity="0.55">-0.047</text><text x="356.8" y="378.90" font-size="3.4" fill="#1a1a1a" text-anchor="middle" opacity="0.55">-0.08</text><text x="368.8" y="378.90" font-size="3.4" fill="#1a1a1a" text-anchor="middle" opacity="0.55">-0.047</text><text x="380.8" y="378.90" font-size="3.4" fill="#1a1a1a" text-anchor="middle" opacity="0.55">0.004</text><text x="392.8" y="378.90" font-size="3.4" fill="#1a1a1a" text-anchor="middle" opacity="0.55">0.021</text><text x="404.8" y="378.90" font-size="3.4" fill="#1a1a1a" text-anchor="middle" opacity="0.55">0.021</text><text x="416.8" y="378.90" font-size="3.4" fill="#1a1a1a" text-anchor="middle" opacity="0.55">-0.047</text><text x="428.8" y="378.90" font-size="3.4" fill="#1a1a1a" text-anchor="middle" opacity="0.55">0.021</text><text x="440.8" y="378.90" font-size="3.4" fill="#fff" text-anchor="middle" opacity="0.55">0.0095</text><text x="452.8" y="378.90" font-size="3.4" fill="#fff" text-anchor="middle" opacity="0.55">0.021</text><text x="464.8" y="378.90" font-size="3.4" fill="#fff" text-anchor="middle" opacity="0.55">1</text></g>
<g><text x="289" y="276.80" font-size="3.4" fill="#333" text-anchor="end" textLength="26" lengthAdjust="spacingAndGlyphs" opacity="0.75">typicalFloorHeight</text><text x="289" y="284.10" font-size="3.4" fill="#333" text-anchor="end" textLength="26" lengthAdjust="spacingAndGlyphs" opacity="0.75">windowWidthRatio</text><text x="289" y="291.40" font-size="3.4" fill="#333" text-anchor="end" textLength="24" lengthAdjust="spacingAndGlyphs" opacity="0.75">windowHeightRatio</text><text x="289" y="298.70" font-size="3.4" fill="#333" text-anchor="end" textLength="28" lengthAdjust="spacingAndGlyphs" opacity="0.75">groundFloorHeightRatio</text><text x="289" y="306.00" font-size="3.4" fill="#333" text-anchor="end" textLength="14" lengthAdjust="spacingAndGlyphs" opacity="0.75">atriumArea</text><text x="289" y="313.30" font-size="3.4" fill="#333" text-anchor="end" textLength="12" lengthAdjust="spacingAndGlyphs" opacity="0.75">aspectRatio</text><text x="289" y="320.60" font-size="3.4" fill="#333" text-anchor="end" textLength="12" lengthAdjust="spacingAndGlyphs" opacity="0.75">levelNum</text><text x="289" y="327.90" font-size="3.4" fill="#333" text-anchor="end" textLength="10" lengthAdjust="spacingAndGlyphs" opacity="0.75">balcony</text><text x="289" y="335.20" font-size="3.4" fill="#333" text-anchor="end" textLength="16" lengthAdjust="spacingAndGlyphs" opacity="0.75">groundFloorHeight</text><text x="289" y="342.50" font-size="3.4" fill="#333" text-anchor="end" textLength="14" lengthAdjust="spacingAndGlyphs" opacity="0.75">buildingDepth</text><text x="289" y="349.80" font-size="3.4" fill="#333" text-anchor="end" textLength="14" lengthAdjust="spacingAndGlyphs" opacity="0.75">numberOfLevels</text><text x="289" y="357.10" font-size="3.4" fill="#333" text-anchor="end" textLength="10" lengthAdjust="spacingAndGlyphs" opacity="0.75">groundASE</text><text x="289" y="364.40" font-size="3.4" fill="#333" text-anchor="end" textLength="10" lengthAdjust="spacingAndGlyphs" opacity="0.75">firstASE</text><text x="289" y="371.70" font-size="3.4" fill="#333" text-anchor="end" textLength="10" lengthAdjust="spacingAndGlyphs" opacity="0.75">groundSDA</text><text x="289" y="379.00" font-size="3.4" fill="#333" text-anchor="end" textLength="8" lengthAdjust="spacingAndGlyphs" opacity="0.75">firstSDA</text><text x="0" y="0" font-size="3.4" fill="#333" text-anchor="end" textLength="25" lengthAdjust="spacingAndGlyphs" opacity="0.75" transform="translate(298.0 383.3) rotate(-90)">typicalFloorHeight</text><text x="0" y="0" font-size="3.4" fill="#333" text-anchor="end" textLength="27" lengthAdjust="spacingAndGlyphs" opacity="0.75" transform="translate(310.0 383.3) rotate(-90)">windowWidthRatio</text><text x="0" y="0" font-size="3.4" fill="#333" text-anchor="end" textLength="25" lengthAdjust="spacingAndGlyphs" opacity="0.75" transform="translate(322.0 383.3) rotate(-90)">windowHeightRatio</text><text x="0" y="0" font-size="3.4" fill="#333" text-anchor="end" textLength="27" lengthAdjust="spacingAndGlyphs" opacity="0.75" transform="translate(334.0 383.3) rotate(-90)">groundFloorHeightRatio</text><text x="0" y="0" font-size="3.4" fill="#333" text-anchor="end" textLength="13" lengthAdjust="spacingAndGlyphs" opacity="0.75" transform="translate(346.0 383.3) rotate(-90)">atriumArea</text><text x="0" y="0" font-size="3.4" fill="#333" text-anchor="end" textLength="13" lengthAdjust="spacingAndGlyphs" opacity="0.75" transform="translate(358.0 383.3) rotate(-90)">aspectRatio</text><text x="0" y="0" font-size="3.4" fill="#333" text-anchor="end" textLength="9.5" lengthAdjust="spacingAndGlyphs" opacity="0.75" transform="translate(370.0 383.3) rotate(-90)">levelNum</text><text x="0" y="0" font-size="3.4" fill="#333" text-anchor="end" textLength="11" lengthAdjust="spacingAndGlyphs" opacity="0.75" transform="translate(382.0 383.3) rotate(-90)">balcony</text><text x="0" y="0" font-size="3.4" fill="#333" text-anchor="end" textLength="18" lengthAdjust="spacingAndGlyphs" opacity="0.75" transform="translate(394.0 383.3) rotate(-90)">groundFloorHeight</text><text x="0" y="0" font-size="3.4" fill="#333" text-anchor="end" textLength="15.5" lengthAdjust="spacingAndGlyphs" opacity="0.75" transform="translate(406.0 383.3) rotate(-90)">buildingDepth</text><text x="0" y="0" font-size="3.4" fill="#333" text-anchor="end" textLength="13" lengthAdjust="spacingAndGlyphs" opacity="0.75" transform="translate(418.0 383.3) rotate(-90)">numberOfLevels</text><text x="0" y="0" font-size="3.4" fill="#333" text-anchor="end" textLength="11" lengthAdjust="spacingAndGlyphs" opacity="0.75" transform="translate(430.0 383.3) rotate(-90)">groundASE</text><text x="0" y="0" font-size="3.4" fill="#333" text-anchor="end" textLength="7" lengthAdjust="spacingAndGlyphs" opacity="0.75" transform="translate(442.0 383.3) rotate(-90)">firstASE</text><text x="0" y="0" font-size="3.4" fill="#333" text-anchor="end" textLength="9.5" lengthAdjust="spacingAndGlyphs" opacity="0.75" transform="translate(454.0 383.3) rotate(-90)">groundSDA</text><text x="0" y="0" font-size="3.4" fill="#333" text-anchor="end" textLength="7" lengthAdjust="spacingAndGlyphs" opacity="0.75" transform="translate(466.0 383.3) rotate(-90)">firstSDA</text></g>
<defs><linearGradient id="cb" x1="0" y1="1" x2="0" y2="0"><stop offset="0.0" stop-color="#8e0152"/><stop offset="0.1" stop-color="#c51b7d"/><stop offset="0.2" stop-color="#de77ae"/><stop offset="0.3" stop-color="#f1b6da"/><stop offset="0.4" stop-color="#fde0ef"/><stop offset="0.5" stop-color="#f7f7f7"/><stop offset="0.6" stop-color="#e6f5d0"/><stop offset="0.7" stop-color="#b8e186"/><stop offset="0.8" stop-color="#7fbc41"/><stop offset="0.9" stop-color="#4d9221"/><stop offset="1.0" stop-color="#276419"/></linearGradient></defs>
<rect x="482.1" y="272.1" width="5.4" height="108.6" fill="url(#cb)"/>
<path d="M489 284.5h3M489 297.1h3M489 309.7h3M489 322.3h3M489 334.9h3M489 347.5h3M489 360.1h3M489 372.7h3" stroke="#999" stroke-width="0.9" opacity="0.6"/>
<text x="299.9" y="263" font-size="7.8" fill="#1c1c28" textLength="65.7" lengthAdjust="spacingAndGlyphs" stroke="#1c1c28" stroke-width="0.12">Correlation Heatmap</text>
<rect x="257.5" y="278.9" width="230.2" height="7.300000000000011" fill="none" stroke="#e8262b" stroke-width="1.1" stroke-dasharray="1.3 2.2"/>
<rect x="257.5" y="292.6" width="230.2" height="7.0" fill="none" stroke="#e8262b" stroke-width="1.1" stroke-dasharray="1.3 2.2"/>
<rect x="257" y="314.2" width="231.2" height="16.80000000000001" fill="none" stroke="#e8262b" stroke-width="1.1" stroke-dasharray="1.3 2.2"/>
<rect x="255.5" y="336.6" width="229.8" height="8.0" fill="none" stroke="#e8262b" stroke-width="1.1" stroke-dasharray="1.3 2.2"/>
<text x="271.9" y="426" font-size="5.2" fill="#111" textLength="183" lengthAdjust="spacingAndGlyphs" font-weight="bold" >**weak correlation for window width, atriumArea, aspectRatio, typical floor height as not</text>
<text x="271.9" y="431.8" font-size="5.2" fill="#111" textLength="46" lengthAdjust="spacingAndGlyphs" font-weight="bold" >expected (problematic)</text>
<rect x="509" y="82.7" width="286.79999999999995" height="296.5" fill="#EAEAF2"/>
<path d="M530.1 82.7V379.2M583.4 82.7V379.2M636.7 82.7V379.2M690.0 82.7V379.2M743.3 82.7V379.2M509 101.5H795.8M509 153.4H795.8M509 205.3H795.8M509 257.2H795.8M509 309.1H795.8M509 361.0H795.8" stroke="#fff" stroke-width="0.6" opacity="0.7" fill="none"/>
<g fill="#5079b8" stroke="#fff" stroke-width="0.25"><circle cx="663.7" cy="164.9" r="1.2"/><circle cx="624.4" cy="163.3" r="1.2"/><circle cx="680.8" cy="216.0" r="1.2"/><circle cx="654.6" cy="259.2" r="1.2"/><circle cx="607.1" cy="260.2" r="1.2"/><circle cx="606.3" cy="165.0" r="1.2"/><circle cx="662.6" cy="239.4" r="1.2"/><circle cx="680.4" cy="268.1" r="1.2"/><circle cx="679.4" cy="245.6" r="1.2"/><circle cx="650.3" cy="244.0" r="1.2"/><circle cx="654.0" cy="160.2" r="1.2"/><circle cx="651.1" cy="217.6" r="1.2"/><circle cx="659.2" cy="282.9" r="1.2"/><circle cx="609.6" cy="269.3" r="1.2"/><circle cx="629.6" cy="148.1" r="1.2"/><circle cx="588.4" cy="231.9" r="1.2"/><circle cx="625.9" cy="255.9" r="1.2"/><circle cx="645.4" cy="113.0" r="1.2"/><circle cx="605.6" cy="159.6" r="1.2"/><circle cx="633.5" cy="145.9" r="1.2"/><circle cx="699.9" cy="208.5" r="1.2"/><circle cx="672.9" cy="286.1" r="1.2"/><circle cx="662.4" cy="155.0" r="1.2"/><circle cx="618.2" cy="260.4" r="1.2"/><circle cx="658.1" cy="232.7" r="1.2"/><circle cx="662.5" cy="223.1" r="1.2"/><circle cx="657.5" cy="203.4" r="1.2"/><circle cx="590.6" cy="141.7" r="1.2"/><circle cx="633.8" cy="240.1" r="1.2"/><circle cx="682.5" cy="173.6" r="1.2"/><circle cx="673.2" cy="184.0" r="1.2"/><circle cx="622.6" cy="194.8" r="1.2"/><circle cx="671.9" cy="196.1" r="1.2"/><circle cx="606.3" cy="175.0" r="1.2"/><circle cx="640.6" cy="222.1" r="1.2"/><circle cx="662.5" cy="245.5" r="1.2"/><circle cx="663.5" cy="277.1" r="1.2"/><circle cx="670.3" cy="167.1" r="1.2"/><circle cx="616.7" cy="265.3" r="1.2"/><circle cx="665.4" cy="258.3" r="1.2"/><circle cx="600.3" cy="184.6" r="1.2"/><circle cx="712.4" cy="173.8" r="1.2"/><circle cx="641.1" cy="258.9" r="1.2"/><circle cx="654.9" cy="181.0" r="1.2"/><circle cx="634.7" cy="237.9" r="1.2"/><circle cx="603.2" cy="227.2" r="1.2"/><circle cx="676.4" cy="262.4" r="1.2"/><circle cx="632.9" cy="239.3" r="1.2"/><circle cx="658.3" cy="278.6" r="1.2"/><circle cx="705.8" cy="194.7" r="1.2"/><circle cx="624.8" cy="184.2" r="1.2"/><circle cx="608.4" cy="191.1" r="1.2"/><circle cx="634.2" cy="203.5" r="1.2"/><circle cx="724.3" cy="128.4" r="1.2"/><circle cx="638.8" cy="149.6" r="1.2"/><circle cx="609.1" cy="252.1" r="1.2"/><circle cx="668.5" cy="195.7" r="1.2"/><circle cx="690.5" cy="212.8" r="1.2"/><circle cx="632.5" cy="279.1" r="1.2"/><circle cx="589.6" cy="189.8" r="1.2"/><circle cx="645.6" cy="219.8" r="1.2"/><circle cx="586.5" cy="173.5" r="1.2"/><circle cx="652.5" cy="216.2" r="1.2"/><circle cx="598.6" cy="116.4" r="1.2"/><circle cx="652.9" cy="268.7" r="1.2"/><circle cx="615.6" cy="150.7" r="1.2"/><circle cx="632.4" cy="269.3" r="1.2"/><circle cx="585.7" cy="217.4" r="1.2"/><circle cx="697.6" cy="229.8" r="1.2"/><circle cx="689.2" cy="179.3" r="1.2"/><circle cx="672.7" cy="196.8" r="1.2"/><circle cx="651.2" cy="264.5" r="1.2"/><circle cx="663.3" cy="158.0" r="1.2"/><circle cx="646.6" cy="259.6" r="1.2"/><circle cx="640.5" cy="188.7" r="1.2"/><circle cx="638.7" cy="238.2" r="1.2"/><circle cx="613.8" cy="277.5" r="1.2"/><circle cx="585.9" cy="218.8" r="1.2"/><circle cx="627.0" cy="225.5" r="1.2"/><circle cx="617.7" cy="235.1" r="1.2"/><circle cx="606.4" cy="250.3" r="1.2"/><circle cx="636.3" cy="206.3" r="1.2"/><circle cx="643.9" cy="189.9" r="1.2"/><circle cx="644.0" cy="231.3" r="1.2"/><circle cx="589.7" cy="188.0" r="1.2"/><circle cx="653.1" cy="289.0" r="1.2"/><circle cx="616.4" cy="248.8" r="1.2"/><circle cx="598.7" cy="176.0" r="1.2"/><circle cx="593.9" cy="195.2" r="1.2"/><circle cx="595.8" cy="171.9" r="1.2"/><circle cx="672.3" cy="194.1" r="1.2"/><circle cx="683.1" cy="237.4" r="1.2"/><circle cx="674.1" cy="143.2" r="1.2"/><circle cx="681.1" cy="212.1" r="1.2"/><circle cx="622.3" cy="208.2" r="1.2"/><circle cx="595.5" cy="153.6" r="1.2"/><circle cx="627.6" cy="241.6" r="1.2"/><circle cx="669.1" cy="225.6" r="1.2"/><circle cx="661.5" cy="263.2" r="1.2"/><circle cx="656.0" cy="272.8" r="1.2"/><circle cx="592.6" cy="175.1" r="1.2"/><circle cx="671.7" cy="157.7" r="1.2"/><circle cx="613.8" cy="215.9" r="1.2"/><circle cx="634.8" cy="190.2" r="1.2"/><circle cx="611.8" cy="262.6" r="1.2"/><circle cx="603.8" cy="224.7" r="1.2"/><circle cx="594.3" cy="166.4" r="1.2"/><circle cx="612.2" cy="204.9" r="1.2"/><circle cx="685.5" cy="179.4" r="1.2"/><circle cx="676.3" cy="159.4" r="1.2"/><circle cx="656.6" cy="223.0" r="1.2"/><circle cx="659.8" cy="239.0" r="1.2"/><circle cx="717.3" cy="201.9" r="1.2"/><circle cx="596.0" cy="186.2" r="1.2"/><circle cx="663.6" cy="225.0" r="1.2"/><circle cx="623.6" cy="272.2" r="1.2"/><circle cx="684.5" cy="201.5" r="1.2"/><circle cx="645.2" cy="202.7" r="1.2"/><circle cx="596.3" cy="166.9" r="1.2"/><circle cx="647.5" cy="258.3" r="1.2"/><circle cx="635.7" cy="214.4" r="1.2"/><circle cx="680.8" cy="182.7" r="1.2"/><circle cx="590.7" cy="153.0" r="1.2"/><circle cx="650.3" cy="265.2" r="1.2"/><circle cx="625.1" cy="234.2" r="1.2"/><circle cx="634.5" cy="165.9" r="1.2"/><circle cx="652.5" cy="222.2" r="1.2"/><circle cx="618.4" cy="211.5" r="1.2"/><circle cx="645.3" cy="279.9" r="1.2"/><circle cx="664.0" cy="152.9" r="1.2"/><circle cx="606.4" cy="217.6" r="1.2"/><circle cx="596.0" cy="175.7" r="1.2"/><circle cx="637.5" cy="174.2" r="1.2"/><circle cx="696.6" cy="219.8" r="1.2"/><circle cx="637.7" cy="254.7" r="1.2"/><circle cx="602.7" cy="245.4" r="1.2"/><circle cx="605.2" cy="267.5" r="1.2"/><circle cx="654.8" cy="300.1" r="1.2"/><circle cx="631.7" cy="210.5" r="1.2"/><circle cx="615.1" cy="238.2" r="1.2"/><circle cx="646.9" cy="269.7" r="1.2"/><circle cx="686.7" cy="197.3" r="1.2"/><circle cx="601.3" cy="184.3" r="1.2"/><circle cx="700.5" cy="178.7" r="1.2"/><circle cx="600.0" cy="244.6" r="1.2"/><circle cx="674.7" cy="156.6" r="1.2"/><circle cx="657.1" cy="215.4" r="1.2"/><circle cx="590.1" cy="194.2" r="1.2"/><circle cx="664.3" cy="183.1" r="1.2"/><circle cx="635.5" cy="191.4" r="1.2"/><circle cx="688.0" cy="190.6" r="1.2"/><circle cx="649.7" cy="279.2" r="1.2"/><circle cx="630.5" cy="169.0" r="1.2"/><circle cx="672.7" cy="237.9" r="1.2"/><circle cx="626.2" cy="257.6" r="1.2"/><circle cx="665.1" cy="223.0" r="1.2"/><circle cx="676.3" cy="158.8" r="1.2"/><circle cx="673.1" cy="182.2" r="1.2"/><circle cx="604.5" cy="203.3" r="1.2"/><circle cx="606.2" cy="237.7" r="1.2"/><circle cx="607.1" cy="149.5" r="1.2"/><circle cx="631.2" cy="172.0" r="1.2"/><circle cx="620.2" cy="136.9" r="1.2"/><circle cx="634.0" cy="157.1" r="1.2"/><circle cx="609.8" cy="214.1" r="1.2"/><circle cx="695.6" cy="235.5" r="1.2"/><circle cx="682.6" cy="172.2" r="1.2"/><circle cx="657.7" cy="165.4" r="1.2"/><circle cx="686.9" cy="203.9" r="1.2"/><circle cx="611.3" cy="212.0" r="1.2"/><circle cx="664.4" cy="219.7" r="1.2"/><circle cx="653.2" cy="231.0" r="1.2"/><circle cx="595.6" cy="195.4" r="1.2"/><circle cx="694.8" cy="211.5" r="1.2"/><circle cx="655.2" cy="212.0" r="1.2"/><circle cx="590.0" cy="192.5" r="1.2"/><circle cx="681.9" cy="241.8" r="1.2"/><circle cx="637.5" cy="246.1" r="1.2"/><circle cx="660.4" cy="272.0" r="1.2"/><circle cx="598.3" cy="145.8" r="1.2"/><circle cx="716.2" cy="155.5" r="1.2"/><circle cx="573.7" cy="172.4" r="1.2"/><circle cx="592.9" cy="233.9" r="1.2"/><circle cx="615.5" cy="271.4" r="1.2"/><circle cx="602.7" cy="132.2" r="1.2"/><circle cx="679.6" cy="290.2" r="1.2"/><circle cx="704.5" cy="215.1" r="1.2"/><circle cx="612.8" cy="246.0" r="1.2"/><circle cx="636.9" cy="286.8" r="1.2"/><circle cx="596.5" cy="155.3" r="1.2"/><circle cx="587.9" cy="205.9" r="1.2"/><circle cx="577.4" cy="168.7" r="1.2"/><circle cx="643.1" cy="218.3" r="1.2"/><circle cx="636.5" cy="155.1" r="1.2"/><circle cx="582.6" cy="161.6" r="1.2"/><circle cx="616.5" cy="276.7" r="1.2"/><circle cx="744.3" cy="132.9" r="1.2"/><circle cx="668.4" cy="191.1" r="1.2"/><circle cx="593.7" cy="214.5" r="1.2"/><circle cx="623.7" cy="202.0" r="1.2"/><circle cx="673.8" cy="119.8" r="1.2"/><circle cx="631.8" cy="227.1" r="1.2"/><circle cx="681.5" cy="194.2" r="1.2"/><circle cx="597.5" cy="148.3" r="1.2"/><circle cx="748.9" cy="138.6" r="1.2"/><circle cx="662.8" cy="149.9" r="1.2"/><circle cx="658.2" cy="229.8" r="1.2"/><circle cx="621.7" cy="250.7" r="1.2"/><circle cx="637.1" cy="230.5" r="1.2"/><circle cx="666.0" cy="203.0" r="1.2"/><circle cx="633.8" cy="155.4" r="1.2"/><circle cx="653.8" cy="278.0" r="1.2"/><circle cx="652.7" cy="162.4" r="1.2"/><circle cx="679.2" cy="229.9" r="1.2"/><circle cx="589.9" cy="226.4" r="1.2"/><circle cx="621.7" cy="252.3" r="1.2"/><circle cx="604.1" cy="229.0" r="1.2"/><circle cx="590.2" cy="167.5" r="1.2"/><circle cx="616.9" cy="218.8" r="1.2"/><circle cx="631.3" cy="144.9" r="1.2"/><circle cx="634.4" cy="160.2" r="1.2"/><circle cx="618.0" cy="176.8" r="1.2"/><circle cx="611.2" cy="166.5" r="1.2"/><circle cx="652.6" cy="165.9" r="1.2"/><circle cx="638.1" cy="192.2" r="1.2"/><circle cx="587.6" cy="161.0" r="1.2"/><circle cx="586.2" cy="232.7" r="1.2"/><circle cx="595.2" cy="204.5" r="1.2"/><circle cx="669.9" cy="134.2" r="1.2"/><circle cx="699.3" cy="251.5" r="1.2"/><circle cx="656.4" cy="224.6" r="1.2"/><circle cx="679.9" cy="203.9" r="1.2"/><circle cx="629.1" cy="174.0" r="1.2"/><circle cx="699.6" cy="219.9" r="1.2"/><circle cx="627.8" cy="146.7" r="1.2"/><circle cx="611.8" cy="222.1" r="1.2"/><circle cx="662.5" cy="227.0" r="1.2"/><circle cx="612.8" cy="146.3" r="1.2"/><circle cx="627.4" cy="226.8" r="1.2"/><circle cx="652.6" cy="263.1" r="1.2"/><circle cx="617.3" cy="184.9" r="1.2"/><circle cx="640.4" cy="157.3" r="1.2"/><circle cx="568.5" cy="178.5" r="1.2"/><circle cx="603.3" cy="224.3" r="1.2"/><circle cx="613.4" cy="256.7" r="1.2"/><circle cx="598.9" cy="179.2" r="1.2"/><circle cx="666.5" cy="176.2" r="1.2"/><circle cx="573.1" cy="210.1" r="1.2"/><circle cx="695.4" cy="127.5" r="1.2"/><circle cx="643.6" cy="245.8" r="1.2"/><circle cx="656.2" cy="156.4" r="1.2"/><circle cx="649.2" cy="270.1" r="1.2"/><circle cx="695.8" cy="171.2" r="1.2"/><circle cx="667.6" cy="185.5" r="1.2"/><circle cx="608.5" cy="255.5" r="1.2"/><circle cx="622.4" cy="215.4" r="1.2"/><circle cx="611.0" cy="227.8" r="1.2"/><circle cx="615.7" cy="254.4" r="1.2"/><circle cx="681.8" cy="204.0" r="1.2"/><circle cx="612.7" cy="226.4" r="1.2"/><circle cx="595.9" cy="155.2" r="1.2"/><circle cx="587.5" cy="218.4" r="1.2"/><circle cx="704.4" cy="152.6" r="1.2"/><circle cx="684.8" cy="262.5" r="1.2"/><circle cx="622.7" cy="241.8" r="1.2"/><circle cx="627.5" cy="263.2" r="1.2"/><circle cx="625.6" cy="142.9" r="1.2"/><circle cx="622.7" cy="283.3" r="1.2"/><circle cx="604.0" cy="145.7" r="1.2"/><circle cx="671.1" cy="254.0" r="1.2"/><circle cx="671.5" cy="174.0" r="1.2"/><circle cx="662.5" cy="278.0" r="1.2"/><circle cx="599.1" cy="180.5" r="1.2"/><circle cx="676.7" cy="167.3" r="1.2"/><circle cx="638.0" cy="243.5" r="1.2"/><circle cx="596.6" cy="168.5" r="1.2"/><circle cx="683.4" cy="158.3" r="1.2"/><circle cx="654.4" cy="273.5" r="1.2"/><circle cx="657.4" cy="229.3" r="1.2"/><circle cx="681.3" cy="178.2" r="1.2"/><circle cx="580.8" cy="220.4" r="1.2"/><circle cx="660.2" cy="148.6" r="1.2"/><circle cx="637.4" cy="287.4" r="1.2"/><circle cx="687.0" cy="184.2" r="1.2"/><circle cx="680.1" cy="212.6" r="1.2"/><circle cx="614.1" cy="186.5" r="1.2"/><circle cx="675.0" cy="169.5" r="1.2"/><circle cx="705.8" cy="182.1" r="1.2"/><circle cx="676.4" cy="173.6" r="1.2"/><circle cx="689.7" cy="153.1" r="1.2"/><circle cx="719.7" cy="167.3" r="1.2"/><circle cx="650.0" cy="156.4" r="1.2"/><circle cx="639.3" cy="263.8" r="1.2"/><circle cx="606.3" cy="165.9" r="1.2"/><circle cx="595.0" cy="223.6" r="1.2"/><circle cx="670.1" cy="234.9" r="1.2"/><circle cx="661.0" cy="198.2" r="1.2"/><circle cx="668.3" cy="175.1" r="1.2"/><circle cx="760.9" cy="155.0" r="1.2"/><circle cx="680.9" cy="134.5" r="1.2"/><circle cx="663.9" cy="190.4" r="1.2"/><circle cx="676.3" cy="158.7" r="1.2"/><circle cx="670.5" cy="216.3" r="1.2"/><circle cx="678.5" cy="256.6" r="1.2"/><circle cx="666.2" cy="218.2" r="1.2"/><circle cx="725.0" cy="158.6" r="1.2"/><circle cx="625.5" cy="227.2" r="1.2"/><circle cx="619.8" cy="124.7" r="1.2"/><circle cx="576.7" cy="207.4" r="1.2"/><circle cx="605.9" cy="154.0" r="1.2"/><circle cx="669.0" cy="192.6" r="1.2"/><circle cx="696.2" cy="189.7" r="1.2"/><circle cx="609.9" cy="196.0" r="1.2"/><circle cx="576.9" cy="200.9" r="1.2"/><circle cx="662.8" cy="289.6" r="1.2"/><circle cx="643.2" cy="284.5" r="1.2"/><circle cx="654.1" cy="159.3" r="1.2"/><circle cx="641.4" cy="221.6" r="1.2"/><circle cx="634.6" cy="188.8" r="1.2"/><circle cx="609.8" cy="253.2" r="1.2"/><circle cx="621.9" cy="253.9" r="1.2"/><circle cx="605.9" cy="180.6" r="1.2"/><circle cx="680.7" cy="223.4" r="1.2"/><circle cx="631.4" cy="148.5" r="1.2"/><circle cx="663.4" cy="232.1" r="1.2"/><circle cx="617.6" cy="189.9" r="1.2"/><circle cx="640.7" cy="232.3" r="1.2"/><circle cx="623.1" cy="242.3" r="1.2"/><circle cx="648.1" cy="221.5" r="1.2"/><circle cx="667.7" cy="267.4" r="1.2"/><circle cx="621.4" cy="179.5" r="1.2"/><circle cx="675.0" cy="199.2" r="1.2"/><circle cx="609.3" cy="188.0" r="1.2"/><circle cx="616.5" cy="183.7" r="1.2"/><circle cx="657.4" cy="276.2" r="1.2"/><circle cx="651.7" cy="288.8" r="1.2"/><circle cx="669.3" cy="159.8" r="1.2"/><circle cx="650.2" cy="217.0" r="1.2"/><circle cx="631.7" cy="187.0" r="1.2"/><circle cx="643.6" cy="257.2" r="1.2"/><circle cx="668.4" cy="257.1" r="1.2"/><circle cx="627.5" cy="244.5" r="1.2"/><circle cx="689.1" cy="181.6" r="1.2"/><circle cx="627.7" cy="219.6" r="1.2"/><circle cx="705.5" cy="233.0" r="1.2"/><circle cx="577.3" cy="189.4" r="1.2"/><circle cx="620.7" cy="153.6" r="1.2"/><circle cx="611.0" cy="162.6" r="1.2"/><circle cx="619.2" cy="152.4" r="1.2"/><circle cx="661.3" cy="229.6" r="1.2"/><circle cx="651.4" cy="275.5" r="1.2"/><circle cx="676.9" cy="174.7" r="1.2"/><circle cx="659.9" cy="155.1" r="1.2"/><circle cx="669.9" cy="271.6" r="1.2"/><circle cx="614.3" cy="227.5" r="1.2"/><circle cx="626.3" cy="259.5" r="1.2"/><circle cx="639.4" cy="276.1" r="1.2"/><circle cx="615.1" cy="183.5" r="1.2"/><circle cx="568.1" cy="206.5" r="1.2"/><circle cx="606.0" cy="137.2" r="1.2"/><circle cx="634.1" cy="202.2" r="1.2"/><circle cx="587.4" cy="202.9" r="1.2"/><circle cx="673.9" cy="209.6" r="1.2"/><circle cx="686.1" cy="182.0" r="1.2"/><circle cx="584.6" cy="161.4" r="1.2"/><circle cx="702.2" cy="228.5" r="1.2"/><circle cx="599.9" cy="147.6" r="1.2"/><circle cx="645.3" cy="276.4" r="1.2"/><circle cx="652.1" cy="207.7" r="1.2"/><circle cx="669.6" cy="182.9" r="1.2"/><circle cx="624.3" cy="167.7" r="1.2"/><circle cx="650.7" cy="227.8" r="1.2"/><circle cx="638.0" cy="207.5" r="1.2"/><circle cx="672.7" cy="189.0" r="1.2"/><circle cx="655.6" cy="190.5" r="1.2"/><circle cx="602.0" cy="208.3" r="1.2"/><circle cx="640.8" cy="278.1" r="1.2"/><circle cx="610.4" cy="250.2" r="1.2"/><circle cx="599.8" cy="242.7" r="1.2"/><circle cx="580.2" cy="181.8" r="1.2"/><circle cx="602.0" cy="197.4" r="1.2"/><circle cx="655.2" cy="205.3" r="1.2"/><circle cx="616.1" cy="211.8" r="1.2"/><circle cx="617.0" cy="223.5" r="1.2"/><circle cx="606.5" cy="256.5" r="1.2"/><circle cx="573.0" cy="211.5" r="1.2"/><circle cx="593.3" cy="230.1" r="1.2"/><circle cx="623.7" cy="158.3" r="1.2"/><circle cx="616.5" cy="195.4" r="1.2"/><circle cx="637.2" cy="265.7" r="1.2"/><circle cx="644.2" cy="239.1" r="1.2"/><circle cx="672.9" cy="228.8" r="1.2"/><circle cx="676.5" cy="168.8" r="1.2"/><circle cx="598.6" cy="205.5" r="1.2"/><circle cx="691.8" cy="210.6" r="1.2"/><circle cx="717.3" cy="168.8" r="1.2"/><circle cx="581.2" cy="186.0" r="1.2"/><circle cx="628.4" cy="259.1" r="1.2"/><circle cx="603.3" cy="230.1" r="1.2"/><circle cx="638.3" cy="275.0" r="1.2"/><circle cx="627.0" cy="172.0" r="1.2"/><circle cx="646.6" cy="220.9" r="1.2"/><circle cx="620.5" cy="269.5" r="1.2"/><circle cx="667.1" cy="128.9" r="1.2"/><circle cx="687.0" cy="186.3" r="1.2"/><circle cx="606.4" cy="147.7" r="1.2"/><circle cx="687.8" cy="182.9" r="1.2"/><circle cx="657.6" cy="100.1" r="1.2"/><circle cx="622.7" cy="263.3" r="1.2"/><circle cx="700.6" cy="200.6" r="1.2"/><circle cx="656.8" cy="288.2" r="1.2"/><circle cx="597.8" cy="248.3" r="1.2"/><circle cx="650.1" cy="267.1" r="1.2"/><circle cx="608.2" cy="242.7" r="1.2"/><circle cx="607.3" cy="186.4" r="1.2"/><circle cx="654.7" cy="184.9" r="1.2"/><circle cx="740.6" cy="126.3" r="1.2"/><circle cx="715.5" cy="186.6" r="1.2"/><circle cx="645.7" cy="180.6" r="1.2"/><circle cx="677.8" cy="263.9" r="1.2"/><circle cx="682.4" cy="209.5" r="1.2"/><circle cx="621.3" cy="201.0" r="1.2"/><circle cx="684.4" cy="199.1" r="1.2"/><circle cx="604.2" cy="168.6" r="1.2"/><circle cx="645.8" cy="229.5" r="1.2"/><circle cx="639.2" cy="289.4" r="1.2"/><circle cx="650.8" cy="241.0" r="1.2"/><circle cx="685.8" cy="254.5" r="1.2"/><circle cx="611.3" cy="222.5" r="1.2"/><circle cx="593.3" cy="219.7" r="1.2"/><circle cx="681.2" cy="219.7" r="1.2"/><circle cx="611.6" cy="182.5" r="1.2"/><circle cx="629.9" cy="281.7" r="1.2"/><circle cx="631.2" cy="251.8" r="1.2"/><circle cx="600.5" cy="207.8" r="1.2"/><circle cx="589.2" cy="156.7" r="1.2"/><circle cx="639.6" cy="218.1" r="1.2"/><circle cx="669.8" cy="242.9" r="1.2"/><circle cx="666.5" cy="256.8" r="1.2"/><circle cx="672.1" cy="178.6" r="1.2"/><circle cx="657.8" cy="220.7" r="1.2"/><circle cx="656.5" cy="164.8" r="1.2"/><circle cx="727.8" cy="152.8" r="1.2"/><circle cx="631.4" cy="143.3" r="1.2"/><circle cx="674.1" cy="187.5" r="1.2"/><circle cx="652.4" cy="171.6" r="1.2"/><circle cx="636.7" cy="141.0" r="1.2"/><circle cx="666.9" cy="214.1" r="1.2"/><circle cx="658.2" cy="160.8" r="1.2"/><circle cx="704.9" cy="159.5" r="1.2"/><circle cx="625.2" cy="146.9" r="1.2"/><circle cx="650.3" cy="220.9" r="1.2"/><circle cx="582.1" cy="197.7" r="1.2"/><circle cx="631.2" cy="210.7" r="1.2"/><circle cx="641.2" cy="278.2" r="1.2"/><circle cx="600.5" cy="207.1" r="1.2"/><circle cx="583.7" cy="214.4" r="1.2"/><circle cx="612.5" cy="222.2" r="1.2"/><circle cx="656.3" cy="255.1" r="1.2"/><circle cx="597.8" cy="225.2" r="1.2"/><circle cx="685.0" cy="249.7" r="1.2"/><circle cx="651.0" cy="141.5" r="1.2"/><circle cx="633.5" cy="257.3" r="1.2"/><circle cx="588.3" cy="171.7" r="1.2"/><circle cx="674.2" cy="166.8" r="1.2"/><circle cx="611.6" cy="259.0" r="1.2"/><circle cx="609.1" cy="170.5" r="1.2"/><circle cx="679.8" cy="244.5" r="1.2"/><circle cx="597.6" cy="189.6" r="1.2"/><circle cx="703.0" cy="239.8" r="1.2"/><circle cx="586.1" cy="156.1" r="1.2"/><circle cx="672.3" cy="250.1" r="1.2"/><circle cx="608.1" cy="161.0" r="1.2"/><circle cx="639.6" cy="287.4" r="1.2"/><circle cx="685.2" cy="199.0" r="1.2"/><circle cx="689.5" cy="186.9" r="1.2"/><circle cx="620.5" cy="239.4" r="1.2"/><circle cx="615.8" cy="176.0" r="1.2"/><circle cx="601.4" cy="219.5" r="1.2"/><circle cx="611.1" cy="153.0" r="1.2"/><circle cx="642.3" cy="161.6" r="1.2"/><circle cx="622.4" cy="211.3" r="1.2"/><circle cx="605.6" cy="263.2" r="1.2"/><circle cx="653.4" cy="232.3" r="1.2"/><circle cx="641.4" cy="198.6" r="1.2"/><circle cx="618.4" cy="187.3" r="1.2"/><circle cx="616.9" cy="255.4" r="1.2"/><circle cx="627.0" cy="162.9" r="1.2"/><circle cx="642.9" cy="277.3" r="1.2"/><circle cx="601.1" cy="179.2" r="1.2"/><circle cx="610.7" cy="243.6" r="1.2"/><circle cx="642.1" cy="204.0" r="1.2"/><circle cx="641.7" cy="266.1" r="1.2"/><circle cx="645.6" cy="146.4" r="1.2"/><circle cx="659.9" cy="229.0" r="1.2"/><circle cx="639.7" cy="217.4" r="1.2"/><circle cx="591.6" cy="146.9" r="1.2"/><circle cx="681.3" cy="225.8" r="1.2"/><circle cx="577.1" cy="190.4" r="1.2"/><circle cx="681.4" cy="230.2" r="1.2"/><circle cx="694.1" cy="150.1" r="1.2"/><circle cx="681.1" cy="260.4" r="1.2"/><circle cx="635.2" cy="175.4" r="1.2"/><circle cx="600.3" cy="240.3" r="1.2"/><circle cx="678.3" cy="152.3" r="1.2"/><circle cx="673.2" cy="271.1" r="1.2"/><circle cx="618.5" cy="225.6" r="1.2"/><circle cx="632.8" cy="203.6" r="1.2"/><circle cx="596.1" cy="187.2" r="1.2"/><circle cx="638.3" cy="242.7" r="1.2"/><circle cx="612.7" cy="142.7" r="1.2"/><circle cx="652.4" cy="149.1" r="1.2"/><circle cx="608.6" cy="266.1" r="1.2"/><circle cx="656.2" cy="141.8" r="1.2"/><circle cx="639.0" cy="182.5" r="1.2"/><circle cx="600.0" cy="152.8" r="1.2"/><circle cx="649.9" cy="224.4" r="1.2"/><circle cx="602.0" cy="171.7" r="1.2"/><circle cx="610.3" cy="211.5" r="1.2"/><circle cx="615.6" cy="149.4" r="1.2"/><circle cx="624.9" cy="262.4" r="1.2"/><circle cx="618.6" cy="212.0" r="1.2"/><circle cx="617.6" cy="258.1" r="1.2"/><circle cx="601.7" cy="166.4" r="1.2"/><circle cx="668.0" cy="249.8" r="1.2"/><circle cx="637.6" cy="265.5" r="1.2"/><circle cx="601.8" cy="223.0" r="1.2"/><circle cx="624.3" cy="258.1" r="1.2"/><circle cx="583.1" cy="164.7" r="1.2"/><circle cx="626.9" cy="171.8" r="1.2"/><circle cx="678.2" cy="240.9" r="1.2"/><circle cx="598.2" cy="179.9" r="1.2"/><circle cx="683.5" cy="215.0" r="1.2"/><circle cx="686.9" cy="174.8" r="1.2"/><circle cx="599.5" cy="204.5" r="1.2"/><circle cx="682.6" cy="183.6" r="1.2"/><circle cx="663.3" cy="228.7" r="1.2"/><circle cx="663.0" cy="218.2" r="1.2"/><circle cx="628.1" cy="146.6" r="1.2"/><circle cx="598.8" cy="235.8" r="1.2"/><circle cx="641.9" cy="244.5" r="1.2"/><circle cx="699.6" cy="232.8" r="1.2"/><circle cx="619.4" cy="209.6" r="1.2"/><circle cx="668.4" cy="187.4" r="1.2"/><circle cx="601.8" cy="121.6" r="1.2"/><circle cx="647.2" cy="150.2" r="1.2"/><circle cx="677.6" cy="99.6" r="1.2"/><circle cx="647.3" cy="177.3" r="1.2"/><circle cx="574.4" cy="203.2" r="1.2"/><circle cx="581.8" cy="169.2" r="1.2"/><circle cx="580.5" cy="202.2" r="1.2"/><circle cx="643.1" cy="288.0" r="1.2"/><circle cx="605.7" cy="269.4" r="1.2"/><circle cx="582.1" cy="206.9" r="1.2"/><circle cx="656.3" cy="266.8" r="1.2"/><circle cx="662.1" cy="157.5" r="1.2"/><circle cx="615.7" cy="147.0" r="1.2"/><circle cx="602.8" cy="123.0" r="1.2"/><circle cx="601.5" cy="251.7" r="1.2"/><circle cx="607.6" cy="167.8" r="1.2"/><circle cx="650.3" cy="287.8" r="1.2"/><circle cx="590.4" cy="207.1" r="1.2"/><circle cx="587.9" cy="200.2" r="1.2"/><circle cx="598.7" cy="185.4" r="1.2"/><circle cx="648.1" cy="233.2" r="1.2"/><circle cx="689.3" cy="209.9" r="1.2"/><circle cx="608.6" cy="165.2" r="1.2"/><circle cx="600.3" cy="222.7" r="1.2"/><circle cx="614.4" cy="218.1" r="1.2"/><circle cx="645.2" cy="269.7" r="1.2"/><circle cx="617.1" cy="180.5" r="1.2"/><circle cx="679.7" cy="194.8" r="1.2"/><circle cx="641.5" cy="276.2" r="1.2"/><circle cx="692.5" cy="203.2" r="1.2"/><circle cx="646.2" cy="177.6" r="1.2"/><circle cx="638.3" cy="211.9" r="1.2"/><circle cx="635.9" cy="253.2" r="1.2"/><circle cx="601.5" cy="190.5" r="1.2"/><circle cx="580.6" cy="179.5" r="1.2"/><circle cx="602.7" cy="204.4" r="1.2"/><circle cx="681.3" cy="162.3" r="1.2"/><circle cx="618.2" cy="233.6" r="1.2"/><circle cx="630.8" cy="141.4" r="1.2"/><circle cx="659.6" cy="159.1" r="1.2"/><circle cx="653.8" cy="212.8" r="1.2"/><circle cx="655.4" cy="154.5" r="1.2"/><circle cx="752.3" cy="187.5" r="1.2"/><circle cx="686.8" cy="168.4" r="1.2"/><circle cx="665.5" cy="166.6" r="1.2"/><circle cx="654.6" cy="149.9" r="1.2"/><circle cx="650.5" cy="186.4" r="1.2"/><circle cx="649.7" cy="140.5" r="1.2"/><circle cx="615.7" cy="155.2" r="1.2"/><circle cx="666.5" cy="170.0" r="1.2"/><circle cx="637.4" cy="225.2" r="1.2"/><circle cx="610.7" cy="173.4" r="1.2"/><circle cx="643.3" cy="284.4" r="1.2"/><circle cx="635.7" cy="252.8" r="1.2"/><circle cx="654.2" cy="196.2" r="1.2"/><circle cx="607.5" cy="242.4" r="1.2"/><circle cx="594.0" cy="227.0" r="1.2"/><circle cx="612.3" cy="250.8" r="1.2"/><circle cx="631.1" cy="229.5" r="1.2"/><circle cx="623.8" cy="189.1" r="1.2"/><circle cx="662.1" cy="177.8" r="1.2"/><circle cx="578.1" cy="212.3" r="1.2"/><circle cx="644.2" cy="233.8" r="1.2"/><circle cx="593.1" cy="172.5" r="1.2"/><circle cx="650.5" cy="205.0" r="1.2"/><circle cx="613.8" cy="169.1" r="1.2"/><circle cx="656.9" cy="144.8" r="1.2"/><circle cx="684.3" cy="223.8" r="1.2"/><circle cx="630.8" cy="151.9" r="1.2"/><circle cx="669.6" cy="198.3" r="1.2"/><circle cx="639.8" cy="239.5" r="1.2"/><circle cx="624.0" cy="138.6" r="1.2"/><circle cx="638.6" cy="197.0" r="1.2"/><circle cx="593.1" cy="253.9" r="1.2"/><circle cx="595.6" cy="231.5" r="1.2"/><circle cx="634.6" cy="200.9" r="1.2"/><circle cx="644.0" cy="147.0" r="1.2"/><circle cx="632.3" cy="152.0" r="1.2"/><circle cx="703.9" cy="220.9" r="1.2"/><circle cx="677.1" cy="204.1" r="1.2"/><circle cx="645.3" cy="259.3" r="1.2"/><circle cx="739.1" cy="250.3" r="1.2"/><circle cx="685.0" cy="182.9" r="1.2"/><circle cx="651.5" cy="244.4" r="1.2"/><circle cx="602.3" cy="246.0" r="1.2"/><circle cx="649.0" cy="254.9" r="1.2"/><circle cx="660.9" cy="267.8" r="1.2"/><circle cx="723.2" cy="164.7" r="1.2"/><circle cx="573.5" cy="201.8" r="1.2"/><circle cx="614.3" cy="193.6" r="1.2"/><circle cx="607.5" cy="167.8" r="1.2"/><circle cx="604.1" cy="146.9" r="1.2"/><circle cx="781.6" cy="194.0" r="1.2"/><circle cx="600.6" cy="172.6" r="1.2"/><circle cx="622.9" cy="255.1" r="1.2"/><circle cx="588.0" cy="220.5" r="1.2"/><circle cx="630.9" cy="198.4" r="1.2"/><circle cx="651.3" cy="256.9" r="1.2"/><circle cx="657.3" cy="229.8" r="1.2"/><circle cx="614.0" cy="242.1" r="1.2"/><circle cx="639.0" cy="135.5" r="1.2"/><circle cx="589.9" cy="207.5" r="1.2"/><circle cx="599.3" cy="261.2" r="1.2"/><circle cx="647.6" cy="146.3" r="1.2"/><circle cx="682.3" cy="231.3" r="1.2"/><circle cx="659.7" cy="166.5" r="1.2"/><circle cx="678.1" cy="197.5" r="1.2"/><circle cx="647.1" cy="272.8" r="1.2"/><circle cx="648.4" cy="279.2" r="1.2"/><circle cx="652.1" cy="170.3" r="1.2"/><circle cx="609.3" cy="210.8" r="1.2"/><circle cx="674.2" cy="230.8" r="1.2"/><circle cx="616.4" cy="273.9" r="1.2"/><circle cx="669.2" cy="263.3" r="1.2"/><circle cx="696.5" cy="152.5" r="1.2"/><circle cx="641.4" cy="235.6" r="1.2"/><circle cx="670.6" cy="292.5" r="1.2"/><circle cx="660.6" cy="159.8" r="1.2"/><circle cx="693.6" cy="253.1" r="1.2"/><circle cx="596.7" cy="166.4" r="1.2"/><circle cx="622.1" cy="214.6" r="1.2"/><circle cx="618.4" cy="245.1" r="1.2"/><circle cx="584.8" cy="217.1" r="1.2"/><circle cx="589.5" cy="186.4" r="1.2"/><circle cx="618.8" cy="271.0" r="1.2"/><circle cx="685.2" cy="218.8" r="1.2"/><circle cx="609.7" cy="244.8" r="1.2"/><circle cx="654.8" cy="98.0" r="1.2"/><circle cx="605.0" cy="254.8" r="1.2"/><circle cx="637.4" cy="253.1" r="1.2"/><circle cx="631.8" cy="216.0" r="1.2"/><circle cx="615.6" cy="187.1" r="1.2"/><circle cx="672.3" cy="163.6" r="1.2"/><circle cx="676.6" cy="165.4" r="1.2"/><circle cx="666.0" cy="167.9" r="1.2"/><circle cx="609.4" cy="198.4" r="1.2"/><circle cx="663.4" cy="204.8" r="1.2"/><circle cx="660.2" cy="261.2" r="1.2"/><circle cx="595.4" cy="178.5" r="1.2"/><circle cx="642.0" cy="132.1" r="1.2"/><circle cx="613.9" cy="166.5" r="1.2"/><circle cx="626.7" cy="278.6" r="1.2"/><circle cx="606.0" cy="241.6" r="1.2"/><circle cx="614.8" cy="125.8" r="1.2"/><circle cx="607.5" cy="164.2" r="1.2"/><circle cx="700.9" cy="216.2" r="1.2"/><circle cx="636.0" cy="204.6" r="1.2"/><circle cx="645.5" cy="190.2" r="1.2"/><circle cx="689.2" cy="115.3" r="1.2"/><circle cx="632.5" cy="231.1" r="1.2"/><circle cx="605.4" cy="211.4" r="1.2"/><circle cx="579.4" cy="210.8" r="1.2"/><circle cx="676.9" cy="188.5" r="1.2"/><circle cx="687.0" cy="212.8" r="1.2"/><circle cx="636.7" cy="257.7" r="1.2"/><circle cx="675.0" cy="186.0" r="1.2"/><circle cx="663.3" cy="218.9" r="1.2"/><circle cx="674.9" cy="173.9" r="1.2"/><circle cx="607.3" cy="175.5" r="1.2"/><circle cx="651.6" cy="213.3" r="1.2"/><circle cx="604.2" cy="255.3" r="1.2"/><circle cx="655.1" cy="231.8" r="1.2"/><circle cx="621.7" cy="186.0" r="1.2"/><circle cx="585.6" cy="182.6" r="1.2"/><circle cx="652.3" cy="221.5" r="1.2"/><circle cx="634.4" cy="118.8" r="1.2"/><circle cx="624.7" cy="219.6" r="1.2"/><circle cx="577.6" cy="168.8" r="1.2"/><circle cx="709.0" cy="210.3" r="1.2"/><circle cx="660.2" cy="215.0" r="1.2"/><circle cx="668.5" cy="154.9" r="1.2"/><circle cx="684.6" cy="199.4" r="1.2"/><circle cx="654.7" cy="228.1" r="1.2"/><circle cx="699.4" cy="208.6" r="1.2"/><circle cx="589.6" cy="220.1" r="1.2"/><circle cx="605.6" cy="154.0" r="1.2"/><circle cx="654.6" cy="168.9" r="1.2"/><circle cx="657.3" cy="296.4" r="1.2"/><circle cx="624.5" cy="244.4" r="1.2"/><circle cx="651.5" cy="197.5" r="1.2"/><circle cx="647.8" cy="160.5" r="1.2"/><circle cx="602.0" cy="182.9" r="1.2"/><circle cx="618.8" cy="245.4" r="1.2"/><circle cx="592.8" cy="233.4" r="1.2"/><circle cx="582.5" cy="207.2" r="1.2"/><circle cx="688.3" cy="241.6" r="1.2"/><circle cx="657.4" cy="151.5" r="1.2"/><circle cx="660.4" cy="139.5" r="1.2"/><circle cx="694.1" cy="185.8" r="1.2"/><circle cx="618.0" cy="156.4" r="1.2"/><circle cx="592.6" cy="225.2" r="1.2"/><circle cx="636.8" cy="267.1" r="1.2"/><circle cx="655.6" cy="204.4" r="1.2"/><circle cx="666.2" cy="258.7" r="1.2"/><circle cx="613.8" cy="244.6" r="1.2"/><circle cx="636.3" cy="176.7" r="1.2"/><circle cx="686.4" cy="226.3" r="1.2"/><circle cx="681.8" cy="255.0" r="1.2"/><circle cx="618.4" cy="142.3" r="1.2"/><circle cx="664.7" cy="171.1" r="1.2"/><circle cx="667.7" cy="153.1" r="1.2"/><circle cx="586.0" cy="163.0" r="1.2"/><circle cx="616.7" cy="182.0" r="1.2"/><circle cx="682.2" cy="176.6" r="1.2"/><circle cx="610.5" cy="195.4" r="1.2"/><circle cx="655.6" cy="245.0" r="1.2"/><circle cx="604.8" cy="198.5" r="1.2"/><circle cx="612.1" cy="167.2" r="1.2"/><circle cx="613.2" cy="144.8" r="1.2"/><circle cx="623.8" cy="186.9" r="1.2"/><circle cx="583.2" cy="188.8" r="1.2"/><circle cx="646.1" cy="135.1" r="1.2"/><circle cx="636.4" cy="188.4" r="1.2"/><circle cx="620.9" cy="241.2" r="1.2"/><circle cx="586.9" cy="198.0" r="1.2"/><circle cx="623.5" cy="179.1" r="1.2"/><circle cx="619.2" cy="205.5" r="1.2"/><circle cx="614.8" cy="243.7" r="1.2"/><circle cx="616.6" cy="254.6" r="1.2"/><circle cx="603.2" cy="173.4" r="1.2"/><circle cx="629.3" cy="132.8" r="1.2"/><circle cx="639.4" cy="214.0" r="1.2"/><circle cx="644.7" cy="165.9" r="1.2"/><circle cx="594.6" cy="235.0" r="1.2"/><circle cx="695.3" cy="154.5" r="1.2"/><circle cx="704.7" cy="209.3" r="1.2"/><circle cx="730.4" cy="147.5" r="1.2"/><circle cx="679.6" cy="209.6" r="1.2"/><circle cx="687.6" cy="176.1" r="1.2"/><circle cx="683.4" cy="229.9" r="1.2"/><circle cx="641.4" cy="178.5" r="1.2"/><circle cx="686.5" cy="223.2" r="1.2"/><circle cx="619.8" cy="285.0" r="1.2"/><circle cx="680.3" cy="198.4" r="1.2"/><circle cx="590.1" cy="228.1" r="1.2"/><circle cx="601.1" cy="170.3" r="1.2"/><circle cx="698.2" cy="164.0" r="1.2"/><circle cx="633.6" cy="144.6" r="1.2"/><circle cx="573.8" cy="179.7" r="1.2"/><circle cx="616.9" cy="142.5" r="1.2"/><circle cx="634.4" cy="236.0" r="1.2"/><circle cx="609.4" cy="256.8" r="1.2"/><circle cx="655.5" cy="221.1" r="1.2"/><circle cx="651.1" cy="141.7" r="1.2"/><circle cx="666.1" cy="225.7" r="1.2"/><circle cx="625.0" cy="152.6" r="1.2"/><circle cx="638.5" cy="200.2" r="1.2"/><circle cx="637.6" cy="289.0" r="1.2"/><circle cx="608.3" cy="252.7" r="1.2"/><circle cx="669.8" cy="159.6" r="1.2"/><circle cx="629.4" cy="177.2" r="1.2"/><circle cx="707.2" cy="203.5" r="1.2"/><circle cx="601.3" cy="234.8" r="1.2"/><circle cx="649.8" cy="146.0" r="1.2"/><circle cx="652.0" cy="217.3" r="1.2"/><circle cx="603.4" cy="185.6" r="1.2"/><circle cx="636.0" cy="211.8" r="1.2"/><circle cx="618.8" cy="164.5" r="1.2"/><circle cx="654.9" cy="241.6" r="1.2"/><circle cx="703.1" cy="155.4" r="1.2"/><circle cx="637.3" cy="193.9" r="1.2"/><circle cx="583.6" cy="214.9" r="1.2"/><circle cx="602.1" cy="177.6" r="1.2"/><circle cx="657.8" cy="209.4" r="1.2"/><circle cx="628.2" cy="218.7" r="1.2"/><circle cx="692.4" cy="242.3" r="1.2"/><circle cx="622.7" cy="222.0" r="1.2"/><circle cx="602.7" cy="176.1" r="1.2"/><circle cx="678.0" cy="236.9" r="1.2"/><circle cx="662.5" cy="260.6" r="1.2"/><circle cx="684.2" cy="211.6" r="1.2"/><circle cx="654.7" cy="249.9" r="1.2"/><circle cx="679.5" cy="277.8" r="1.2"/><circle cx="672.2" cy="230.6" r="1.2"/><circle cx="637.4" cy="182.7" r="1.2"/><circle cx="573.7" cy="176.3" r="1.2"/><circle cx="607.6" cy="190.1" r="1.2"/><circle cx="582.8" cy="158.1" r="1.2"/><circle cx="610.0" cy="177.1" r="1.2"/><circle cx="629.9" cy="225.5" r="1.2"/><circle cx="612.5" cy="219.8" r="1.2"/><circle cx="610.9" cy="197.0" r="1.2"/><circle cx="689.2" cy="178.9" r="1.2"/><circle cx="626.9" cy="269.3" r="1.2"/><circle cx="670.7" cy="146.1" r="1.2"/><circle cx="644.0" cy="151.8" r="1.2"/><circle cx="667.7" cy="251.3" r="1.2"/><circle cx="653.5" cy="232.5" r="1.2"/><circle cx="622.5" cy="253.7" r="1.2"/><circle cx="599.9" cy="210.1" r="1.2"/><circle cx="637.3" cy="228.9" r="1.2"/><circle cx="629.7" cy="242.7" r="1.2"/><circle cx="621.4" cy="272.0" r="1.2"/><circle cx="670.0" cy="252.2" r="1.2"/><circle cx="616.7" cy="149.0" r="1.2"/><circle cx="638.2" cy="200.1" r="1.2"/><circle cx="634.2" cy="268.9" r="1.2"/><circle cx="612.9" cy="241.8" r="1.2"/><circle cx="715.1" cy="205.1" r="1.2"/><circle cx="685.2" cy="222.1" r="1.2"/><circle cx="623.7" cy="254.2" r="1.2"/><circle cx="634.9" cy="137.5" r="1.2"/><circle cx="677.7" cy="210.6" r="1.2"/><circle cx="624.8" cy="172.4" r="1.2"/><circle cx="612.4" cy="236.2" r="1.2"/><circle cx="659.3" cy="263.6" r="1.2"/><circle cx="597.9" cy="258.0" r="1.2"/><circle cx="665.1" cy="171.8" r="1.2"/><circle cx="672.2" cy="160.5" r="1.2"/><circle cx="585.5" cy="190.2" r="1.2"/><circle cx="650.6" cy="226.1" r="1.2"/><circle cx="627.1" cy="215.5" r="1.2"/><circle cx="631.6" cy="281.2" r="1.2"/><circle cx="615.2" cy="142.2" r="1.2"/><circle cx="621.2" cy="199.0" r="1.2"/><circle cx="598.5" cy="262.4" r="1.2"/><circle cx="758.0" cy="159.7" r="1.2"/><circle cx="635.5" cy="256.1" r="1.2"/><circle cx="652.2" cy="157.7" r="1.2"/><circle cx="681.7" cy="218.5" r="1.2"/><circle cx="648.3" cy="134.8" r="1.2"/><circle cx="671.0" cy="222.4" r="1.2"/><circle cx="648.0" cy="216.3" r="1.2"/><circle cx="638.7" cy="280.0" r="1.2"/><circle cx="680.0" cy="196.2" r="1.2"/><circle cx="661.4" cy="165.7" r="1.2"/><circle cx="640.8" cy="213.1" r="1.2"/><circle cx="656.7" cy="189.1" r="1.2"/><circle cx="669.6" cy="150.4" r="1.2"/><circle cx="573.8" cy="206.7" r="1.2"/><circle cx="622.1" cy="233.3" r="1.2"/><circle cx="676.3" cy="202.8" r="1.2"/><circle cx="625.1" cy="253.2" r="1.2"/><circle cx="618.0" cy="250.2" r="1.2"/><circle cx="601.7" cy="231.7" r="1.2"/><circle cx="657.1" cy="261.2" r="1.2"/><circle cx="626.0" cy="274.2" r="1.2"/><circle cx="607.8" cy="205.0" r="1.2"/><circle cx="701.7" cy="178.9" r="1.2"/><circle cx="668.6" cy="235.8" r="1.2"/><circle cx="593.7" cy="171.0" r="1.2"/><circle cx="662.5" cy="198.9" r="1.2"/><circle cx="591.9" cy="159.0" r="1.2"/><circle cx="596.0" cy="190.1" r="1.2"/><circle cx="615.6" cy="274.4" r="1.2"/><circle cx="771.6" cy="156.2" r="1.2"/><circle cx="696.4" cy="252.5" r="1.2"/><circle cx="609.2" cy="267.5" r="1.2"/><circle cx="683.9" cy="191.4" r="1.2"/><circle cx="612.9" cy="263.8" r="1.2"/><circle cx="588.8" cy="209.9" r="1.2"/><circle cx="670.9" cy="257.8" r="1.2"/><circle cx="668.3" cy="203.1" r="1.2"/><circle cx="728.5" cy="257.9" r="1.2"/><circle cx="680.1" cy="203.0" r="1.2"/><circle cx="677.2" cy="184.5" r="1.2"/><circle cx="671.9" cy="174.6" r="1.2"/><circle cx="641.6" cy="253.3" r="1.2"/><circle cx="614.8" cy="220.2" r="1.2"/><circle cx="636.3" cy="228.1" r="1.2"/><circle cx="714.1" cy="159.1" r="1.2"/><circle cx="598.4" cy="236.2" r="1.2"/><circle cx="643.0" cy="174.2" r="1.2"/><circle cx="592.3" cy="193.5" r="1.2"/><circle cx="574.4" cy="202.8" r="1.2"/><circle cx="583.4" cy="171.3" r="1.2"/><circle cx="576.3" cy="176.5" r="1.2"/><circle cx="638.3" cy="249.9" r="1.2"/><circle cx="687.7" cy="207.4" r="1.2"/><circle cx="623.1" cy="188.9" r="1.2"/><circle cx="618.2" cy="193.5" r="1.2"/><circle cx="639.9" cy="168.0" r="1.2"/><circle cx="665.8" cy="259.7" r="1.2"/><circle cx="576.2" cy="204.1" r="1.2"/><circle cx="602.9" cy="214.0" r="1.2"/><circle cx="608.4" cy="148.1" r="1.2"/><circle cx="661.2" cy="248.1" r="1.2"/><circle cx="637.2" cy="263.2" r="1.2"/><circle cx="685.4" cy="229.4" r="1.2"/><circle cx="726.4" cy="234.9" r="1.2"/><circle cx="592.0" cy="197.8" r="1.2"/><circle cx="674.9" cy="218.9" r="1.2"/><circle cx="597.6" cy="237.6" r="1.2"/><circle cx="704.1" cy="147.2" r="1.2"/><circle cx="587.2" cy="218.2" r="1.2"/><circle cx="624.7" cy="131.1" r="1.2"/><circle cx="697.3" cy="246.3" r="1.2"/><circle cx="710.0" cy="127.8" r="1.2"/><circle cx="635.4" cy="243.6" r="1.2"/><circle cx="620.3" cy="204.7" r="1.2"/><circle cx="582.2" cy="215.9" r="1.2"/><circle cx="656.9" cy="138.3" r="1.2"/><circle cx="663.1" cy="276.4" r="1.2"/><circle cx="642.9" cy="234.4" r="1.2"/><circle cx="652.4" cy="286.3" r="1.2"/><circle cx="672.9" cy="225.2" r="1.2"/><circle cx="709.8" cy="155.9" r="1.2"/><circle cx="658.7" cy="126.1" r="1.2"/><circle cx="615.6" cy="224.0" r="1.2"/><circle cx="613.4" cy="218.7" r="1.2"/><circle cx="653.9" cy="204.1" r="1.2"/><circle cx="681.9" cy="194.9" r="1.2"/><circle cx="580.7" cy="192.3" r="1.2"/><circle cx="692.6" cy="175.1" r="1.2"/><circle cx="640.9" cy="267.8" r="1.2"/><circle cx="667.9" cy="245.2" r="1.2"/><circle cx="574.8" cy="175.4" r="1.2"/><circle cx="578.7" cy="193.8" r="1.2"/><circle cx="664.0" cy="196.2" r="1.2"/><circle cx="633.9" cy="222.3" r="1.2"/><circle cx="602.4" cy="232.3" r="1.2"/><circle cx="602.4" cy="217.8" r="1.2"/><circle cx="642.4" cy="213.7" r="1.2"/><circle cx="619.4" cy="146.7" r="1.2"/><circle cx="602.2" cy="198.8" r="1.2"/><circle cx="616.9" cy="248.4" r="1.2"/><circle cx="591.2" cy="205.8" r="1.2"/><circle cx="606.4" cy="180.8" r="1.2"/><circle cx="649.3" cy="201.0" r="1.2"/><circle cx="597.2" cy="174.5" r="1.2"/><circle cx="602.4" cy="159.3" r="1.2"/><circle cx="648.3" cy="202.6" r="1.2"/><circle cx="612.6" cy="200.6" r="1.2"/><circle cx="694.4" cy="181.2" r="1.2"/><circle cx="642.3" cy="232.1" r="1.2"/><circle cx="626.0" cy="250.3" r="1.2"/><circle cx="659.5" cy="190.4" r="1.2"/><circle cx="624.9" cy="217.4" r="1.2"/><circle cx="610.8" cy="150.4" r="1.2"/><circle cx="595.0" cy="157.9" r="1.2"/><circle cx="663.1" cy="169.1" r="1.2"/><circle cx="618.2" cy="262.6" r="1.2"/><circle cx="634.9" cy="223.2" r="1.2"/><circle cx="590.2" cy="194.6" r="1.2"/><circle cx="649.2" cy="249.7" r="1.2"/><circle cx="620.0" cy="217.4" r="1.2"/><circle cx="631.2" cy="141.8" r="1.2"/><circle cx="641.6" cy="247.1" r="1.2"/><circle cx="638.2" cy="207.5" r="1.2"/><circle cx="609.8" cy="190.5" r="1.2"/><circle cx="658.2" cy="166.2" r="1.2"/><circle cx="628.9" cy="194.7" r="1.2"/><circle cx="660.0" cy="235.7" r="1.2"/><circle cx="670.7" cy="154.7" r="1.2"/><circle cx="623.2" cy="203.0" r="1.2"/><circle cx="675.3" cy="198.7" r="1.2"/><circle cx="611.7" cy="144.2" r="1.2"/><circle cx="683.1" cy="191.6" r="1.2"/><circle cx="651.8" cy="233.2" r="1.2"/><circle cx="649.0" cy="291.1" r="1.2"/><circle cx="618.4" cy="205.5" r="1.2"/><circle cx="582.4" cy="197.0" r="1.2"/><circle cx="608.0" cy="166.2" r="1.2"/><circle cx="643.1" cy="251.2" r="1.2"/><circle cx="614.1" cy="159.5" r="1.2"/><circle cx="633.5" cy="180.0" r="1.2"/><circle cx="631.7" cy="229.3" r="1.2"/><circle cx="681.9" cy="164.2" r="1.2"/><circle cx="610.1" cy="163.5" r="1.2"/><circle cx="659.6" cy="114.3" r="1.2"/><circle cx="657.0" cy="205.9" r="1.2"/><circle cx="649.2" cy="119.8" r="1.2"/><circle cx="621.8" cy="269.1" r="1.2"/><circle cx="624.4" cy="151.3" r="1.2"/><circle cx="657.1" cy="235.5" r="1.2"/><circle cx="619.3" cy="244.9" r="1.2"/><circle cx="661.4" cy="225.4" r="1.2"/><circle cx="618.1" cy="145.3" r="1.2"/><circle cx="676.8" cy="250.9" r="1.2"/><circle cx="635.8" cy="145.0" r="1.2"/><circle cx="656.7" cy="202.4" r="1.2"/><circle cx="687.8" cy="196.1" r="1.2"/><circle cx="592.9" cy="190.4" r="1.2"/><circle cx="633.0" cy="162.7" r="1.2"/><circle cx="661.4" cy="172.5" r="1.2"/><circle cx="576.3" cy="200.6" r="1.2"/><circle cx="668.1" cy="177.9" r="1.2"/><circle cx="643.5" cy="216.2" r="1.2"/><circle cx="649.6" cy="153.7" r="1.2"/><circle cx="651.1" cy="214.3" r="1.2"/><circle cx="617.9" cy="229.0" r="1.2"/><circle cx="635.5" cy="173.1" r="1.2"/><circle cx="596.6" cy="242.4" r="1.2"/><circle cx="675.2" cy="227.8" r="1.2"/><circle cx="751.2" cy="148.5" r="1.2"/><circle cx="686.7" cy="211.2" r="1.2"/><circle cx="648.9" cy="266.9" r="1.2"/><circle cx="641.9" cy="259.5" r="1.2"/><circle cx="668.4" cy="181.8" r="1.2"/><circle cx="656.2" cy="224.0" r="1.2"/><circle cx="669.3" cy="166.7" r="1.2"/><circle cx="624.7" cy="235.7" r="1.2"/><circle cx="644.4" cy="251.6" r="1.2"/><circle cx="649.8" cy="174.5" r="1.2"/><circle cx="636.8" cy="159.4" r="1.2"/><circle cx="593.2" cy="229.1" r="1.2"/><circle cx="614.5" cy="262.7" r="1.2"/><circle cx="621.9" cy="269.3" r="1.2"/><circle cx="594.5" cy="223.4" r="1.2"/><circle cx="688.4" cy="241.9" r="1.2"/><circle cx="661.8" cy="171.9" r="1.2"/><circle cx="658.5" cy="96.6" r="1.2"/><circle cx="706.4" cy="146.1" r="1.2"/><circle cx="614.4" cy="237.6" r="1.2"/><circle cx="649.1" cy="175.2" r="1.2"/><circle cx="674.1" cy="176.6" r="1.2"/><circle cx="638.8" cy="149.6" r="1.2"/><circle cx="587.8" cy="167.8" r="1.2"/><circle cx="619.3" cy="197.4" r="1.2"/><circle cx="725.4" cy="187.9" r="1.2"/><circle cx="668.6" cy="104.0" r="1.2"/><circle cx="602.2" cy="253.2" r="1.2"/><circle cx="642.8" cy="162.0" r="1.2"/><circle cx="643.7" cy="286.2" r="1.2"/><circle cx="647.3" cy="224.9" r="1.2"/><circle cx="668.6" cy="247.7" r="1.2"/><circle cx="580.2" cy="186.1" r="1.2"/><circle cx="611.1" cy="165.0" r="1.2"/><circle cx="613.6" cy="228.1" r="1.2"/><circle cx="674.5" cy="285.1" r="1.2"/><circle cx="593.1" cy="203.1" r="1.2"/><circle cx="608.9" cy="260.2" r="1.2"/><circle cx="621.8" cy="274.1" r="1.2"/><circle cx="675.2" cy="172.8" r="1.2"/><circle cx="652.6" cy="171.7" r="1.2"/><circle cx="636.5" cy="272.6" r="1.2"/><circle cx="629.2" cy="227.2" r="1.2"/><circle cx="615.4" cy="169.4" r="1.2"/><circle cx="675.7" cy="204.4" r="1.2"/><circle cx="604.5" cy="259.8" r="1.2"/><circle cx="665.0" cy="176.9" r="1.2"/><circle cx="600.8" cy="195.2" r="1.2"/><circle cx="617.0" cy="255.7" r="1.2"/><circle cx="573.5" cy="199.7" r="1.2"/><circle cx="589.4" cy="241.7" r="1.2"/><circle cx="600.9" cy="171.9" r="1.2"/><circle cx="611.9" cy="162.7" r="1.2"/><circle cx="737.9" cy="128.8" r="1.2"/><circle cx="679.8" cy="179.0" r="1.2"/><circle cx="706.7" cy="210.3" r="1.2"/><circle cx="621.8" cy="270.9" r="1.2"/><circle cx="588.1" cy="227.6" r="1.2"/><circle cx="609.6" cy="240.5" r="1.2"/><circle cx="626.4" cy="244.9" r="1.2"/><circle cx="679.9" cy="161.6" r="1.2"/><circle cx="631.5" cy="283.9" r="1.2"/><circle cx="638.6" cy="194.1" r="1.2"/><circle cx="612.6" cy="280.8" r="1.2"/><circle cx="615.7" cy="271.6" r="1.2"/><circle cx="688.7" cy="205.4" r="1.2"/><circle cx="648.3" cy="166.0" r="1.2"/><circle cx="653.0" cy="274.2" r="1.2"/><circle cx="628.2" cy="257.8" r="1.2"/><circle cx="749.6" cy="171.4" r="1.2"/><circle cx="660.4" cy="146.3" r="1.2"/><circle cx="652.3" cy="284.5" r="1.2"/><circle cx="627.3" cy="244.6" r="1.2"/><circle cx="590.8" cy="176.8" r="1.2"/><circle cx="613.3" cy="204.1" r="1.2"/><circle cx="608.6" cy="236.9" r="1.2"/><circle cx="656.5" cy="195.7" r="1.2"/><circle cx="650.3" cy="259.8" r="1.2"/><circle cx="583.8" cy="190.6" r="1.2"/><circle cx="675.8" cy="163.3" r="1.2"/><circle cx="590.1" cy="156.5" r="1.2"/><circle cx="587.7" cy="149.4" r="1.2"/><circle cx="646.7" cy="282.9" r="1.2"/><circle cx="657.0" cy="295.5" r="1.2"/><circle cx="597.7" cy="171.6" r="1.2"/><circle cx="610.2" cy="240.7" r="1.2"/><circle cx="678.1" cy="193.1" r="1.2"/><circle cx="672.8" cy="269.6" r="1.2"/><circle cx="609.6" cy="249.0" r="1.2"/><circle cx="658.6" cy="167.6" r="1.2"/><circle cx="596.9" cy="198.4" r="1.2"/><circle cx="658.1" cy="285.4" r="1.2"/><circle cx="645.5" cy="140.2" r="1.2"/><circle cx="704.0" cy="219.4" r="1.2"/><circle cx="634.2" cy="213.7" r="1.2"/><circle cx="628.6" cy="140.0" r="1.2"/><circle cx="615.8" cy="263.2" r="1.2"/><circle cx="658.3" cy="243.2" r="1.2"/><circle cx="620.7" cy="199.0" r="1.2"/><circle cx="677.7" cy="228.3" r="1.2"/><circle cx="623.6" cy="211.1" r="1.2"/><circle cx="570.2" cy="192.3" r="1.2"/><circle cx="662.0" cy="229.5" r="1.2"/><circle cx="661.1" cy="149.7" r="1.2"/><circle cx="666.7" cy="207.5" r="1.2"/><circle cx="695.7" cy="206.8" r="1.2"/><circle cx="602.9" cy="247.8" r="1.2"/><circle cx="641.4" cy="178.6" r="1.2"/><circle cx="670.1" cy="265.4" r="1.2"/><circle cx="674.2" cy="184.2" r="1.2"/><circle cx="578.5" cy="216.3" r="1.2"/><circle cx="635.6" cy="212.1" r="1.2"/><circle cx="647.2" cy="221.2" r="1.2"/><circle cx="578.8" cy="188.5" r="1.2"/><circle cx="638.6" cy="143.8" r="1.2"/><circle cx="691.5" cy="158.1" r="1.2"/><circle cx="681.0" cy="191.0" r="1.2"/><circle cx="600.1" cy="212.8" r="1.2"/><circle cx="643.4" cy="136.1" r="1.2"/><circle cx="673.2" cy="153.5" r="1.2"/><circle cx="626.0" cy="272.5" r="1.2"/><circle cx="599.8" cy="259.8" r="1.2"/><circle cx="596.9" cy="168.0" r="1.2"/><circle cx="680.2" cy="224.0" r="1.2"/><circle cx="645.6" cy="175.8" r="1.2"/><circle cx="698.3" cy="210.8" r="1.2"/><circle cx="610.9" cy="140.7" r="1.2"/><circle cx="631.7" cy="200.0" r="1.2"/><circle cx="637.5" cy="195.5" r="1.2"/><circle cx="648.0" cy="149.1" r="1.2"/><circle cx="632.4" cy="285.4" r="1.2"/><circle cx="665.0" cy="241.7" r="1.2"/><circle cx="694.4" cy="163.6" r="1.2"/><circle cx="620.4" cy="207.6" r="1.2"/><circle cx="677.0" cy="169.7" r="1.2"/><circle cx="642.8" cy="202.7" r="1.2"/><circle cx="619.4" cy="183.4" r="1.2"/><circle cx="645.6" cy="172.2" r="1.2"/><circle cx="668.1" cy="245.6" r="1.2"/><circle cx="644.7" cy="256.3" r="1.2"/><circle cx="627.3" cy="210.5" r="1.2"/><circle cx="678.5" cy="169.2" r="1.2"/><circle cx="617.0" cy="271.7" r="1.2"/><circle cx="646.3" cy="265.2" r="1.2"/><circle cx="690.0" cy="193.5" r="1.2"/><circle cx="675.1" cy="156.4" r="1.2"/><circle cx="660.0" cy="129.0" r="1.2"/><circle cx="585.8" cy="212.3" r="1.2"/><circle cx="575.5" cy="166.8" r="1.2"/><circle cx="684.8" cy="186.4" r="1.2"/><circle cx="646.0" cy="183.4" r="1.2"/><circle cx="629.1" cy="196.8" r="1.2"/><circle cx="665.3" cy="184.7" r="1.2"/><circle cx="626.8" cy="224.4" r="1.2"/><circle cx="673.4" cy="215.4" r="1.2"/><circle cx="644.4" cy="260.4" r="1.2"/><circle cx="637.4" cy="281.8" r="1.2"/><circle cx="670.1" cy="159.5" r="1.2"/><circle cx="673.9" cy="198.2" r="1.2"/><circle cx="586.4" cy="167.8" r="1.2"/><circle cx="611.0" cy="167.1" r="1.2"/><circle cx="664.1" cy="242.6" r="1.2"/><circle cx="603.0" cy="198.0" r="1.2"/><circle cx="650.2" cy="155.4" r="1.2"/><circle cx="604.2" cy="210.5" r="1.2"/><circle cx="616.1" cy="239.9" r="1.2"/><circle cx="673.2" cy="156.1" r="1.2"/><circle cx="657.2" cy="225.4" r="1.2"/><circle cx="692.4" cy="226.2" r="1.2"/><circle cx="676.4" cy="166.3" r="1.2"/><circle cx="716.0" cy="178.4" r="1.2"/><circle cx="600.5" cy="151.1" r="1.2"/><circle cx="572.5" cy="185.2" r="1.2"/><circle cx="713.1" cy="228.1" r="1.2"/><circle cx="654.9" cy="144.1" r="1.2"/><circle cx="578.0" cy="216.4" r="1.2"/><circle cx="658.2" cy="207.7" r="1.2"/><circle cx="588.8" cy="233.6" r="1.2"/><circle cx="679.0" cy="205.8" r="1.2"/><circle cx="619.5" cy="260.9" r="1.2"/><circle cx="682.9" cy="201.9" r="1.2"/><circle cx="606.4" cy="217.7" r="1.2"/><circle cx="665.7" cy="169.0" r="1.2"/><circle cx="718.4" cy="246.8" r="1.2"/><circle cx="673.8" cy="134.6" r="1.2"/><circle cx="617.0" cy="260.3" r="1.2"/><circle cx="664.4" cy="225.6" r="1.2"/><circle cx="679.1" cy="239.7" r="1.2"/><circle cx="582.0" cy="198.3" r="1.2"/><circle cx="593.7" cy="221.5" r="1.2"/><circle cx="615.4" cy="210.1" r="1.2"/><circle cx="641.7" cy="236.4" r="1.2"/><circle cx="593.3" cy="193.9" r="1.2"/><circle cx="594.0" cy="182.4" r="1.2"/><circle cx="595.3" cy="180.0" r="1.2"/><circle cx="691.6" cy="174.6" r="1.2"/><circle cx="666.0" cy="181.3" r="1.2"/><circle cx="669.3" cy="269.5" r="1.2"/><circle cx="665.6" cy="213.1" r="1.2"/><circle cx="691.5" cy="217.6" r="1.2"/><circle cx="630.2" cy="258.1" r="1.2"/><circle cx="636.8" cy="227.6" r="1.2"/><circle cx="626.5" cy="230.2" r="1.2"/><circle cx="599.9" cy="210.3" r="1.2"/><circle cx="669.4" cy="218.4" r="1.2"/><circle cx="669.7" cy="250.2" r="1.2"/><circle cx="719.0" cy="139.6" r="1.2"/><circle cx="675.0" cy="168.2" r="1.2"/><circle cx="659.5" cy="275.7" r="1.2"/><circle cx="650.3" cy="237.9" r="1.2"/><circle cx="604.6" cy="260.1" r="1.2"/><circle cx="573.8" cy="211.9" r="1.2"/><circle cx="620.1" cy="179.6" r="1.2"/><circle cx="592.6" cy="233.9" r="1.2"/><circle cx="606.1" cy="184.1" r="1.2"/><circle cx="690.4" cy="274.2" r="1.2"/><circle cx="581.4" cy="169.8" r="1.2"/><circle cx="584.1" cy="236.0" r="1.2"/><circle cx="670.6" cy="207.8" r="1.2"/><circle cx="701.5" cy="166.1" r="1.2"/><circle cx="668.7" cy="183.8" r="1.2"/><circle cx="625.6" cy="161.7" r="1.2"/><circle cx="685.1" cy="210.7" r="1.2"/><circle cx="617.4" cy="252.6" r="1.2"/><circle cx="616.6" cy="220.9" r="1.2"/><circle cx="649.3" cy="212.7" r="1.2"/><circle cx="693.9" cy="169.4" r="1.2"/><circle cx="630.4" cy="142.6" r="1.2"/><circle cx="677.5" cy="173.6" r="1.2"/><circle cx="598.3" cy="208.0" r="1.2"/><circle cx="629.5" cy="173.5" r="1.2"/><circle cx="657.6" cy="256.2" r="1.2"/><circle cx="667.7" cy="252.6" r="1.2"/><circle cx="682.4" cy="214.1" r="1.2"/><circle cx="623.7" cy="147.8" r="1.2"/><circle cx="659.4" cy="203.9" r="1.2"/><circle cx="627.8" cy="171.5" r="1.2"/><circle cx="662.4" cy="275.0" r="1.2"/><circle cx="646.5" cy="280.7" r="1.2"/><circle cx="602.6" cy="238.1" r="1.2"/><circle cx="592.2" cy="190.3" r="1.2"/><circle cx="670.4" cy="223.7" r="1.2"/><circle cx="658.9" cy="234.7" r="1.2"/><circle cx="590.3" cy="206.3" r="1.2"/><circle cx="618.7" cy="209.2" r="1.2"/><circle cx="628.1" cy="284.7" r="1.2"/><circle cx="587.1" cy="194.5" r="1.2"/><circle cx="628.6" cy="265.5" r="1.2"/><circle cx="618.4" cy="211.9" r="1.2"/><circle cx="622.1" cy="205.4" r="1.2"/><circle cx="615.1" cy="232.1" r="1.2"/><circle cx="675.8" cy="227.3" r="1.2"/><circle cx="629.6" cy="167.9" r="1.2"/><circle cx="648.0" cy="225.2" r="1.2"/><circle cx="658.8" cy="258.2" r="1.2"/><circle cx="645.1" cy="215.1" r="1.2"/><circle cx="655.5" cy="244.2" r="1.2"/><circle cx="633.8" cy="263.3" r="1.2"/><circle cx="656.3" cy="215.8" r="1.2"/><circle cx="644.2" cy="157.7" r="1.2"/><circle cx="615.6" cy="148.8" r="1.2"/><circle cx="646.0" cy="196.6" r="1.2"/><circle cx="627.9" cy="214.1" r="1.2"/><circle cx="604.9" cy="142.0" r="1.2"/><circle cx="598.1" cy="152.3" r="1.2"/><circle cx="612.5" cy="193.7" r="1.2"/><circle cx="644.4" cy="252.7" r="1.2"/><circle cx="632.7" cy="285.7" r="1.2"/><circle cx="677.1" cy="215.2" r="1.2"/><circle cx="628.7" cy="156.3" r="1.2"/><circle cx="614.3" cy="193.4" r="1.2"/><circle cx="698.3" cy="222.3" r="1.2"/><circle cx="620.7" cy="214.7" r="1.2"/><circle cx="654.0" cy="250.5" r="1.2"/><circle cx="657.5" cy="198.1" r="1.2"/><circle cx="585.7" cy="184.5" r="1.2"/><circle cx="655.1" cy="210.8" r="1.2"/><circle cx="668.0" cy="195.7" r="1.2"/><circle cx="587.4" cy="214.9" r="1.2"/><circle cx="617.2" cy="273.7" r="1.2"/><circle cx="700.1" cy="259.5" r="1.2"/><circle cx="626.0" cy="139.3" r="1.2"/><circle cx="637.8" cy="173.4" r="1.2"/><circle cx="718.0" cy="202.5" r="1.2"/><circle cx="665.3" cy="270.5" r="1.2"/><circle cx="667.4" cy="152.5" r="1.2"/><circle cx="648.9" cy="277.0" r="1.2"/><circle cx="622.4" cy="260.5" r="1.2"/><circle cx="646.4" cy="264.8" r="1.2"/><circle cx="651.5" cy="183.9" r="1.2"/><circle cx="738.3" cy="172.0" r="1.2"/><circle cx="611.1" cy="262.0" r="1.2"/><circle cx="616.2" cy="262.9" r="1.2"/><circle cx="672.2" cy="245.0" r="1.2"/><circle cx="668.4" cy="233.4" r="1.2"/><circle cx="625.8" cy="195.7" r="1.2"/><circle cx="649.2" cy="196.4" r="1.2"/><circle cx="616.7" cy="235.3" r="1.2"/><circle cx="609.9" cy="272.1" r="1.2"/><circle cx="653.4" cy="137.7" r="1.2"/><circle cx="593.0" cy="197.5" r="1.2"/><circle cx="649.7" cy="160.8" r="1.2"/><circle cx="689.9" cy="176.0" r="1.2"/><circle cx="637.6" cy="169.9" r="1.2"/><circle cx="616.7" cy="230.3" r="1.2"/><circle cx="587.7" cy="160.0" r="1.2"/><circle cx="651.8" cy="171.1" r="1.2"/><circle cx="624.2" cy="141.5" r="1.2"/><circle cx="618.8" cy="190.9" r="1.2"/><circle cx="617.4" cy="271.9" r="1.2"/><circle cx="618.3" cy="261.0" r="1.2"/><circle cx="625.3" cy="275.6" r="1.2"/><circle cx="649.0" cy="227.2" r="1.2"/><circle cx="611.1" cy="249.1" r="1.2"/><circle cx="636.5" cy="173.7" r="1.2"/><circle cx="610.4" cy="252.3" r="1.2"/><circle cx="616.6" cy="173.7" r="1.2"/><circle cx="645.2" cy="235.3" r="1.2"/><circle cx="612.8" cy="197.9" r="1.2"/><circle cx="591.1" cy="189.6" r="1.2"/><circle cx="667.8" cy="188.5" r="1.2"/><circle cx="631.1" cy="187.8" r="1.2"/><circle cx="665.9" cy="277.7" r="1.2"/><circle cx="598.5" cy="165.1" r="1.2"/><circle cx="587.0" cy="175.3" r="1.2"/><circle cx="631.0" cy="255.7" r="1.2"/><circle cx="703.2" cy="205.3" r="1.2"/><circle cx="640.2" cy="191.0" r="1.2"/><circle cx="682.9" cy="171.0" r="1.2"/><circle cx="608.9" cy="157.2" r="1.2"/><circle cx="597.9" cy="173.4" r="1.2"/><circle cx="633.1" cy="201.8" r="1.2"/><circle cx="634.0" cy="211.0" r="1.2"/><circle cx="664.6" cy="213.0" r="1.2"/><circle cx="626.7" cy="216.9" r="1.2"/><circle cx="685.6" cy="178.7" r="1.2"/><circle cx="684.5" cy="169.2" r="1.2"/><circle cx="695.7" cy="208.5" r="1.2"/><circle cx="685.0" cy="165.3" r="1.2"/><circle cx="697.2" cy="176.3" r="1.2"/><circle cx="597.2" cy="155.5" r="1.2"/><circle cx="650.7" cy="232.1" r="1.2"/><circle cx="665.7" cy="217.3" r="1.2"/><circle cx="691.9" cy="180.0" r="1.2"/><circle cx="606.7" cy="158.0" r="1.2"/><circle cx="608.9" cy="219.0" r="1.2"/><circle cx="671.5" cy="264.3" r="1.2"/><circle cx="657.0" cy="142.4" r="1.2"/><circle cx="595.7" cy="209.3" r="1.2"/><circle cx="704.8" cy="239.2" r="1.2"/><circle cx="679.7" cy="184.4" r="1.2"/><circle cx="581.2" cy="190.4" r="1.2"/><circle cx="593.8" cy="161.3" r="1.2"/><circle cx="678.4" cy="215.6" r="1.2"/><circle cx="643.2" cy="269.1" r="1.2"/><circle cx="637.8" cy="241.5" r="1.2"/><circle cx="582.0" cy="190.9" r="1.2"/><circle cx="645.9" cy="159.2" r="1.2"/><circle cx="607.9" cy="186.7" r="1.2"/><circle cx="626.2" cy="277.2" r="1.2"/><circle cx="584.5" cy="207.8" r="1.2"/><circle cx="602.5" cy="181.2" r="1.2"/><circle cx="683.2" cy="163.5" r="1.2"/><circle cx="604.0" cy="184.6" r="1.2"/><circle cx="615.2" cy="202.6" r="1.2"/><circle cx="671.4" cy="290.5" r="1.2"/><circle cx="648.8" cy="169.0" r="1.2"/><circle cx="776.0" cy="148.3" r="1.2"/><circle cx="659.4" cy="233.8" r="1.2"/><circle cx="694.0" cy="138.3" r="1.2"/><circle cx="608.5" cy="237.5" r="1.2"/><circle cx="659.3" cy="148.9" r="1.2"/><circle cx="589.6" cy="228.9" r="1.2"/><circle cx="656.2" cy="251.7" r="1.2"/><circle cx="652.4" cy="191.6" r="1.2"/><circle cx="605.5" cy="210.9" r="1.2"/><circle cx="669.5" cy="273.0" r="1.2"/><circle cx="631.4" cy="258.9" r="1.2"/><circle cx="641.7" cy="192.7" r="1.2"/><circle cx="582.6" cy="187.6" r="1.2"/><circle cx="599.7" cy="154.9" r="1.2"/><circle cx="676.9" cy="197.3" r="1.2"/><circle cx="639.8" cy="174.3" r="1.2"/><circle cx="587.4" cy="187.4" r="1.2"/><circle cx="639.8" cy="186.5" r="1.2"/><circle cx="663.4" cy="148.4" r="1.2"/><circle cx="644.7" cy="289.6" r="1.2"/><circle cx="659.5" cy="220.9" r="1.2"/><circle cx="673.6" cy="164.5" r="1.2"/><circle cx="658.0" cy="221.2" r="1.2"/><circle cx="661.4" cy="227.9" r="1.2"/><circle cx="699.3" cy="209.6" r="1.2"/><circle cx="665.2" cy="175.2" r="1.2"/><circle cx="649.6" cy="220.3" r="1.2"/><circle cx="616.8" cy="167.1" r="1.2"/><circle cx="683.6" cy="192.2" r="1.2"/><circle cx="714.2" cy="153.6" r="1.2"/><circle cx="703.0" cy="203.1" r="1.2"/><circle cx="646.2" cy="189.5" r="1.2"/><circle cx="636.0" cy="140.9" r="1.2"/><circle cx="691.2" cy="268.6" r="1.2"/><circle cx="599.8" cy="170.5" r="1.2"/><circle cx="645.7" cy="148.5" r="1.2"/><circle cx="613.6" cy="236.4" r="1.2"/><circle cx="650.6" cy="216.4" r="1.2"/><circle cx="652.6" cy="236.7" r="1.2"/><circle cx="678.8" cy="237.9" r="1.2"/><circle cx="628.6" cy="185.7" r="1.2"/><circle cx="614.2" cy="204.8" r="1.2"/><circle cx="647.1" cy="232.3" r="1.2"/><circle cx="684.2" cy="103.2" r="1.2"/><circle cx="661.6" cy="141.9" r="1.2"/><circle cx="603.9" cy="144.4" r="1.2"/><circle cx="673.9" cy="212.1" r="1.2"/><circle cx="685.4" cy="195.0" r="1.2"/><circle cx="671.1" cy="235.5" r="1.2"/><circle cx="630.6" cy="219.8" r="1.2"/><circle cx="637.6" cy="255.6" r="1.2"/><circle cx="580.1" cy="212.6" r="1.2"/><circle cx="613.9" cy="177.7" r="1.2"/><circle cx="593.6" cy="226.3" r="1.2"/><circle cx="587.1" cy="158.0" r="1.2"/><circle cx="592.6" cy="216.7" r="1.2"/><circle cx="607.9" cy="197.0" r="1.2"/><circle cx="661.3" cy="213.8" r="1.2"/><circle cx="731.9" cy="197.2" r="1.2"/><circle cx="660.7" cy="204.0" r="1.2"/><circle cx="624.0" cy="239.1" r="1.2"/><circle cx="661.6" cy="224.5" r="1.2"/><circle cx="620.4" cy="220.5" r="1.2"/><circle cx="664.0" cy="199.7" r="1.2"/><circle cx="720.7" cy="148.6" r="1.2"/><circle cx="670.2" cy="167.8" r="1.2"/><circle cx="622.9" cy="187.8" r="1.2"/><circle cx="733.0" cy="140.5" r="1.2"/><circle cx="655.2" cy="277.2" r="1.2"/><circle cx="592.7" cy="187.9" r="1.2"/><circle cx="694.8" cy="158.5" r="1.2"/><circle cx="664.0" cy="156.0" r="1.2"/><circle cx="581.4" cy="181.2" r="1.2"/><circle cx="699.3" cy="153.6" r="1.2"/><circle cx="631.5" cy="232.2" r="1.2"/><circle cx="594.6" cy="186.9" r="1.2"/><circle cx="608.3" cy="140.4" r="1.2"/><circle cx="648.5" cy="267.2" r="1.2"/><circle cx="655.9" cy="190.2" r="1.2"/><circle cx="701.5" cy="221.4" r="1.2"/><circle cx="635.8" cy="215.9" r="1.2"/><circle cx="647.8" cy="243.8" r="1.2"/><circle cx="654.9" cy="274.1" r="1.2"/><circle cx="609.9" cy="180.2" r="1.2"/><circle cx="646.0" cy="257.3" r="1.2"/><circle cx="652.0" cy="270.1" r="1.2"/><circle cx="694.2" cy="215.3" r="1.2"/><circle cx="654.0" cy="145.0" r="1.2"/><circle cx="594.8" cy="155.3" r="1.2"/><circle cx="618.6" cy="184.4" r="1.2"/><circle cx="624.8" cy="268.0" r="1.2"/><circle cx="683.6" cy="234.7" r="1.2"/><circle cx="675.9" cy="206.9" r="1.2"/><circle cx="608.9" cy="252.1" r="1.2"/><circle cx="593.2" cy="234.9" r="1.2"/><circle cx="639.6" cy="242.3" r="1.2"/><circle cx="756.8" cy="207.7" r="1.2"/><circle cx="615.6" cy="277.3" r="1.2"/><circle cx="621.1" cy="169.3" r="1.2"/><circle cx="663.2" cy="204.4" r="1.2"/><circle cx="593.3" cy="187.4" r="1.2"/><circle cx="645.7" cy="142.2" r="1.2"/><circle cx="630.5" cy="206.7" r="1.2"/><circle cx="696.3" cy="234.8" r="1.2"/><circle cx="698.3" cy="132.5" r="1.2"/><circle cx="696.6" cy="182.6" r="1.2"/><circle cx="616.3" cy="243.9" r="1.2"/><circle cx="605.8" cy="237.5" r="1.2"/><circle cx="632.3" cy="209.8" r="1.2"/><circle cx="627.5" cy="181.6" r="1.2"/><circle cx="661.6" cy="189.0" r="1.2"/><circle cx="680.3" cy="171.9" r="1.2"/><circle cx="579.5" cy="167.5" r="1.2"/><circle cx="580.2" cy="175.1" r="1.2"/><circle cx="675.8" cy="250.7" r="1.2"/><circle cx="677.2" cy="239.2" r="1.2"/><circle cx="686.5" cy="218.9" r="1.2"/><circle cx="675.0" cy="224.0" r="1.2"/><circle cx="650.6" cy="155.5" r="1.2"/><circle cx="682.6" cy="187.6" r="1.2"/><circle cx="675.2" cy="235.9" r="1.2"/><circle cx="633.0" cy="285.6" r="1.2"/><circle cx="692.3" cy="165.1" r="1.2"/><circle cx="622.7" cy="249.1" r="1.2"/><circle cx="623.0" cy="241.2" r="1.2"/><circle cx="613.9" cy="143.2" r="1.2"/><circle cx="649.7" cy="232.3" r="1.2"/><circle cx="660.9" cy="219.6" r="1.2"/><circle cx="617.0" cy="218.6" r="1.2"/><circle cx="609.3" cy="179.6" r="1.2"/><circle cx="586.2" cy="162.3" r="1.2"/><circle cx="675.5" cy="187.3" r="1.2"/><circle cx="609.5" cy="198.2" r="1.2"/><circle cx="621.2" cy="181.9" r="1.2"/><circle cx="600.6" cy="147.3" r="1.2"/><circle cx="590.1" cy="230.1" r="1.2"/><circle cx="633.9" cy="268.6" r="1.2"/><circle cx="667.3" cy="269.8" r="1.2"/><circle cx="597.2" cy="220.2" r="1.2"/><circle cx="681.6" cy="177.7" r="1.2"/><circle cx="649.1" cy="245.6" r="1.2"/><circle cx="594.2" cy="222.8" r="1.2"/><circle cx="654.2" cy="148.8" r="1.2"/><circle cx="638.8" cy="249.1" r="1.2"/><circle cx="693.5" cy="206.0" r="1.2"/><circle cx="634.8" cy="247.8" r="1.2"/><circle cx="595.4" cy="206.9" r="1.2"/><circle cx="653.5" cy="181.7" r="1.2"/><circle cx="670.2" cy="208.2" r="1.2"/><circle cx="617.2" cy="150.8" r="1.2"/><circle cx="578.7" cy="195.0" r="1.2"/><circle cx="681.6" cy="218.8" r="1.2"/><circle cx="635.2" cy="229.2" r="1.2"/><circle cx="688.3" cy="172.9" r="1.2"/><circle cx="611.8" cy="244.1" r="1.2"/><circle cx="681.7" cy="170.6" r="1.2"/><circle cx="652.7" cy="191.6" r="1.2"/><circle cx="669.0" cy="146.7" r="1.2"/><circle cx="719.4" cy="267.9" r="1.2"/><circle cx="637.6" cy="263.5" r="1.2"/><circle cx="599.9" cy="253.7" r="1.2"/><circle cx="671.4" cy="250.4" r="1.2"/><circle cx="650.6" cy="165.7" r="1.2"/><circle cx="632.8" cy="147.1" r="1.2"/><circle cx="660.7" cy="175.4" r="1.2"/><circle cx="622.9" cy="171.9" r="1.2"/><circle cx="665.1" cy="163.9" r="1.2"/><circle cx="663.0" cy="196.5" r="1.2"/><circle cx="615.9" cy="260.6" r="1.2"/><circle cx="584.1" cy="210.6" r="1.2"/><circle cx="603.4" cy="186.3" r="1.2"/><circle cx="584.4" cy="200.1" r="1.2"/><circle cx="659.4" cy="182.5" r="1.2"/><circle cx="660.6" cy="184.0" r="1.2"/><circle cx="654.0" cy="221.3" r="1.2"/><circle cx="646.0" cy="230.1" r="1.2"/><circle cx="643.1" cy="245.0" r="1.2"/><circle cx="667.2" cy="222.5" r="1.2"/><circle cx="617.4" cy="268.1" r="1.2"/><circle cx="616.2" cy="198.3" r="1.2"/><circle cx="706.1" cy="200.6" r="1.2"/><circle cx="605.1" cy="232.1" r="1.2"/><circle cx="641.7" cy="183.2" r="1.2"/><circle cx="667.5" cy="216.4" r="1.2"/><circle cx="595.5" cy="198.5" r="1.2"/><circle cx="626.3" cy="221.4" r="1.2"/><circle cx="672.2" cy="166.2" r="1.2"/><circle cx="647.1" cy="260.3" r="1.2"/><circle cx="721.8" cy="194.6" r="1.2"/><circle cx="630.1" cy="217.2" r="1.2"/><circle cx="646.6" cy="123.2" r="1.2"/><circle cx="609.2" cy="248.6" r="1.2"/><circle cx="662.1" cy="166.3" r="1.2"/><circle cx="595.5" cy="142.3" r="1.2"/><circle cx="674.1" cy="202.1" r="1.2"/><circle cx="640.1" cy="193.3" r="1.2"/><circle cx="666.5" cy="151.6" r="1.2"/><circle cx="632.8" cy="141.0" r="1.2"/><circle cx="645.4" cy="189.7" r="1.2"/><circle cx="634.3" cy="211.4" r="1.2"/><circle cx="666.3" cy="243.7" r="1.2"/><circle cx="657.5" cy="141.9" r="1.2"/><circle cx="671.6" cy="172.2" r="1.2"/><circle cx="649.7" cy="235.4" r="1.2"/><circle cx="620.5" cy="167.5" r="1.2"/><circle cx="621.0" cy="195.3" r="1.2"/><circle cx="640.4" cy="159.2" r="1.2"/><circle cx="648.3" cy="146.6" r="1.2"/><circle cx="602.8" cy="151.2" r="1.2"/><circle cx="591.7" cy="232.6" r="1.2"/><circle cx="678.6" cy="209.1" r="1.2"/><circle cx="637.7" cy="139.3" r="1.2"/><circle cx="619.0" cy="277.7" r="1.2"/><circle cx="667.7" cy="237.1" r="1.2"/><circle cx="631.3" cy="157.4" r="1.2"/><circle cx="578.2" cy="170.8" r="1.2"/><circle cx="665.4" cy="255.2" r="1.2"/><circle cx="637.4" cy="155.1" r="1.2"/><circle cx="618.9" cy="185.6" r="1.2"/><circle cx="610.3" cy="270.6" r="1.2"/><circle cx="645.0" cy="168.7" r="1.2"/><circle cx="601.8" cy="233.0" r="1.2"/><circle cx="636.6" cy="167.8" r="1.2"/><circle cx="747.5" cy="160.0" r="1.2"/><circle cx="623.9" cy="270.0" r="1.2"/><circle cx="643.7" cy="246.5" r="1.2"/><circle cx="614.8" cy="242.9" r="1.2"/><circle cx="596.0" cy="162.6" r="1.2"/><circle cx="701.6" cy="173.6" r="1.2"/><circle cx="646.0" cy="286.5" r="1.2"/><circle cx="613.1" cy="207.0" r="1.2"/><circle cx="722.2" cy="168.0" r="1.2"/><circle cx="657.3" cy="248.7" r="1.2"/><circle cx="608.8" cy="158.8" r="1.2"/><circle cx="661.9" cy="190.9" r="1.2"/><circle cx="661.4" cy="140.8" r="1.2"/><circle cx="573.1" cy="181.5" r="1.2"/><circle cx="645.9" cy="237.1" r="1.2"/><circle cx="649.6" cy="237.7" r="1.2"/><circle cx="636.8" cy="129.1" r="1.2"/><circle cx="591.8" cy="216.1" r="1.2"/><circle cx="669.5" cy="200.7" r="1.2"/><circle cx="614.2" cy="182.5" r="1.2"/><circle cx="615.4" cy="160.1" r="1.2"/><circle cx="602.6" cy="239.4" r="1.2"/><circle cx="692.5" cy="224.7" r="1.2"/><circle cx="652.8" cy="232.2" r="1.2"/><circle cx="668.0" cy="156.2" r="1.2"/><circle cx="603.6" cy="175.9" r="1.2"/><circle cx="628.3" cy="272.3" r="1.2"/><circle cx="622.0" cy="212.4" r="1.2"/><circle cx="685.2" cy="204.9" r="1.2"/><circle cx="611.8" cy="172.4" r="1.2"/><circle cx="588.9" cy="230.5" r="1.2"/><circle cx="641.3" cy="161.5" r="1.2"/><circle cx="640.2" cy="220.1" r="1.2"/><circle cx="744.9" cy="178.5" r="1.2"/><circle cx="684.8" cy="181.9" r="1.2"/><circle cx="641.7" cy="145.8" r="1.2"/><circle cx="642.0" cy="175.2" r="1.2"/><circle cx="579.5" cy="217.3" r="1.2"/><circle cx="667.1" cy="174.3" r="1.2"/><circle cx="667.0" cy="147.1" r="1.2"/><circle cx="629.1" cy="187.4" r="1.2"/><circle cx="621.7" cy="150.2" r="1.2"/><circle cx="674.8" cy="277.2" r="1.2"/><circle cx="680.1" cy="172.6" r="1.2"/><circle cx="610.9" cy="203.7" r="1.2"/><circle cx="679.5" cy="236.4" r="1.2"/><circle cx="596.0" cy="206.2" r="1.2"/><circle cx="661.8" cy="178.1" r="1.2"/><circle cx="682.4" cy="202.6" r="1.2"/><circle cx="573.8" cy="200.5" r="1.2"/><circle cx="651.3" cy="154.4" r="1.2"/><circle cx="755.1" cy="182.1" r="1.2"/><circle cx="681.4" cy="186.9" r="1.2"/><circle cx="633.0" cy="288.4" r="1.2"/><circle cx="642.0" cy="204.3" r="1.2"/><circle cx="620.3" cy="219.8" r="1.2"/><circle cx="582.1" cy="154.9" r="1.2"/><circle cx="657.9" cy="202.8" r="1.2"/><circle cx="598.0" cy="236.1" r="1.2"/><circle cx="647.9" cy="224.3" r="1.2"/><circle cx="585.3" cy="181.6" r="1.2"/><circle cx="597.3" cy="235.0" r="1.2"/><circle cx="634.6" cy="171.6" r="1.2"/><circle cx="669.4" cy="199.2" r="1.2"/><circle cx="621.1" cy="179.5" r="1.2"/><circle cx="589.8" cy="194.8" r="1.2"/><circle cx="700.9" cy="187.5" r="1.2"/><circle cx="698.4" cy="250.2" r="1.2"/><circle cx="658.4" cy="274.9" r="1.2"/><circle cx="594.7" cy="180.4" r="1.2"/><circle cx="628.2" cy="184.4" r="1.2"/><circle cx="683.3" cy="216.4" r="1.2"/><circle cx="669.1" cy="275.0" r="1.2"/><circle cx="657.5" cy="208.1" r="1.2"/><circle cx="654.4" cy="141.8" r="1.2"/><circle cx="624.7" cy="191.7" r="1.2"/><circle cx="601.6" cy="196.6" r="1.2"/><circle cx="588.0" cy="229.3" r="1.2"/><circle cx="617.1" cy="203.2" r="1.2"/><circle cx="674.5" cy="151.2" r="1.2"/><circle cx="678.8" cy="217.2" r="1.2"/><circle cx="605.1" cy="209.7" r="1.2"/><circle cx="635.1" cy="262.0" r="1.2"/><circle cx="628.0" cy="239.7" r="1.2"/><circle cx="645.1" cy="248.0" r="1.2"/><circle cx="594.1" cy="213.5" r="1.2"/><circle cx="631.1" cy="186.9" r="1.2"/><circle cx="665.0" cy="144.5" r="1.2"/><circle cx="613.8" cy="160.8" r="1.2"/><circle cx="665.0" cy="220.7" r="1.2"/><circle cx="619.3" cy="173.0" r="1.2"/><circle cx="609.0" cy="248.3" r="1.2"/><circle cx="618.0" cy="120.1" r="1.2"/><circle cx="594.5" cy="212.7" r="1.2"/><circle cx="660.2" cy="202.6" r="1.2"/><circle cx="587.7" cy="202.5" r="1.2"/><circle cx="665.8" cy="270.3" r="1.2"/><circle cx="676.5" cy="203.6" r="1.2"/><circle cx="682.8" cy="233.1" r="1.2"/><circle cx="643.9" cy="265.1" r="1.2"/><circle cx="618.1" cy="119.9" r="1.2"/><circle cx="671.5" cy="252.1" r="1.2"/><circle cx="666.2" cy="174.3" r="1.2"/><circle cx="596.7" cy="208.3" r="1.2"/><circle cx="641.9" cy="231.5" r="1.2"/><circle cx="645.2" cy="150.2" r="1.2"/><circle cx="634.9" cy="124.9" r="1.2"/><circle cx="661.0" cy="238.9" r="1.2"/><circle cx="604.5" cy="224.6" r="1.2"/><circle cx="627.6" cy="256.6" r="1.2"/><circle cx="668.6" cy="191.7" r="1.2"/><circle cx="664.5" cy="231.0" r="1.2"/><circle cx="640.6" cy="215.1" r="1.2"/><circle cx="678.0" cy="163.9" r="1.2"/><circle cx="701.2" cy="200.9" r="1.2"/><circle cx="654.4" cy="263.6" r="1.2"/><circle cx="592.3" cy="196.4" r="1.2"/><circle cx="595.9" cy="166.4" r="1.2"/><circle cx="699.1" cy="148.1" r="1.2"/><circle cx="665.1" cy="302.9" r="1.2"/><circle cx="605.5" cy="200.3" r="1.2"/><circle cx="638.6" cy="166.6" r="1.2"/><circle cx="596.4" cy="210.9" r="1.2"/><circle cx="621.7" cy="239.7" r="1.2"/><circle cx="587.8" cy="201.5" r="1.2"/><circle cx="594.3" cy="193.8" r="1.2"/><circle cx="654.2" cy="154.5" r="1.2"/><circle cx="615.3" cy="251.2" r="1.2"/><circle cx="654.9" cy="160.3" r="1.2"/><circle cx="645.3" cy="283.8" r="1.2"/><circle cx="629.8" cy="140.2" r="1.2"/><circle cx="693.2" cy="175.8" r="1.2"/><circle cx="642.4" cy="268.8" r="1.2"/><circle cx="669.2" cy="148.8" r="1.2"/><circle cx="617.2" cy="235.2" r="1.2"/><circle cx="666.2" cy="160.4" r="1.2"/><circle cx="676.5" cy="251.8" r="1.2"/><circle cx="586.5" cy="236.9" r="1.2"/><circle cx="622.5" cy="193.8" r="1.2"/><circle cx="702.6" cy="204.0" r="1.2"/><circle cx="659.9" cy="227.4" r="1.2"/><circle cx="604.4" cy="166.5" r="1.2"/><circle cx="610.9" cy="249.9" r="1.2"/><circle cx="621.4" cy="246.9" r="1.2"/><circle cx="643.7" cy="232.3" r="1.2"/><circle cx="610.2" cy="174.9" r="1.2"/><circle cx="643.3" cy="280.7" r="1.2"/><circle cx="617.8" cy="140.2" r="1.2"/><circle cx="631.8" cy="142.2" r="1.2"/><circle cx="612.6" cy="138.6" r="1.2"/><circle cx="651.6" cy="144.9" r="1.2"/><circle cx="647.8" cy="135.4" r="1.2"/><circle cx="614.2" cy="241.4" r="1.2"/><circle cx="628.4" cy="235.6" r="1.2"/><circle cx="632.6" cy="169.7" r="1.2"/><circle cx="609.8" cy="256.2" r="1.2"/><circle cx="613.1" cy="166.3" r="1.2"/><circle cx="628.9" cy="228.1" r="1.2"/><circle cx="587.7" cy="204.9" r="1.2"/><circle cx="632.0" cy="221.9" r="1.2"/><circle cx="652.7" cy="129.6" r="1.2"/><circle cx="610.6" cy="207.2" r="1.2"/><circle cx="651.1" cy="207.7" r="1.2"/><circle cx="586.6" cy="208.2" r="1.2"/><circle cx="604.8" cy="180.0" r="1.2"/><circle cx="624.1" cy="203.9" r="1.2"/><circle cx="628.8" cy="194.2" r="1.2"/><circle cx="636.3" cy="210.3" r="1.2"/><circle cx="637.8" cy="134.8" r="1.2"/><circle cx="655.6" cy="242.7" r="1.2"/><circle cx="578.3" cy="162.0" r="1.2"/><circle cx="698.7" cy="171.5" r="1.2"/><circle cx="683.3" cy="161.4" r="1.2"/><circle cx="576.5" cy="181.5" r="1.2"/><circle cx="601.1" cy="219.7" r="1.2"/><circle cx="647.1" cy="145.9" r="1.2"/><circle cx="640.0" cy="242.5" r="1.2"/><circle cx="603.8" cy="229.7" r="1.2"/><circle cx="604.5" cy="236.8" r="1.2"/><circle cx="667.7" cy="172.7" r="1.2"/><circle cx="655.4" cy="166.8" r="1.2"/><circle cx="590.0" cy="232.1" r="1.2"/><circle cx="663.3" cy="194.5" r="1.2"/><circle cx="608.4" cy="210.1" r="1.2"/><circle cx="610.2" cy="202.1" r="1.2"/><circle cx="593.3" cy="194.2" r="1.2"/><circle cx="616.7" cy="270.3" r="1.2"/><circle cx="651.3" cy="159.2" r="1.2"/><circle cx="661.9" cy="178.6" r="1.2"/><circle cx="659.7" cy="231.3" r="1.2"/><circle cx="698.7" cy="125.3" r="1.2"/><circle cx="665.8" cy="265.3" r="1.2"/><circle cx="594.0" cy="181.7" r="1.2"/><circle cx="595.9" cy="157.0" r="1.2"/><circle cx="660.2" cy="246.6" r="1.2"/><circle cx="636.5" cy="158.1" r="1.2"/><circle cx="611.7" cy="195.9" r="1.2"/><circle cx="627.9" cy="210.4" r="1.2"/><circle cx="657.1" cy="163.7" r="1.2"/><circle cx="683.0" cy="162.7" r="1.2"/><circle cx="624.9" cy="193.1" r="1.2"/><circle cx="664.6" cy="167.1" r="1.2"/><circle cx="634.1" cy="291.4" r="1.2"/><circle cx="682.2" cy="234.2" r="1.2"/><circle cx="622.7" cy="137.7" r="1.2"/><circle cx="641.5" cy="155.0" r="1.2"/><circle cx="683.5" cy="163.1" r="1.2"/><circle cx="629.5" cy="206.8" r="1.2"/><circle cx="643.3" cy="224.8" r="1.2"/><circle cx="649.0" cy="142.6" r="1.2"/><circle cx="677.5" cy="158.5" r="1.2"/><circle cx="591.1" cy="195.2" r="1.2"/><circle cx="633.0" cy="260.1" r="1.2"/><circle cx="586.0" cy="167.8" r="1.2"/><circle cx="592.5" cy="156.5" r="1.2"/><circle cx="591.5" cy="160.7" r="1.2"/><circle cx="674.6" cy="257.2" r="1.2"/><circle cx="665.6" cy="145.2" r="1.2"/><circle cx="595.7" cy="238.9" r="1.2"/><circle cx="614.8" cy="171.8" r="1.2"/><circle cx="596.7" cy="162.8" r="1.2"/><circle cx="605.9" cy="263.2" r="1.2"/><circle cx="595.4" cy="244.3" r="1.2"/><circle cx="611.5" cy="189.6" r="1.2"/><circle cx="665.4" cy="192.4" r="1.2"/><circle cx="660.8" cy="253.9" r="1.2"/><circle cx="646.2" cy="207.9" r="1.2"/><circle cx="653.5" cy="180.0" r="1.2"/><circle cx="639.6" cy="125.8" r="1.2"/><circle cx="601.2" cy="167.5" r="1.2"/><circle cx="664.2" cy="301.4" r="1.2"/><circle cx="601.7" cy="252.7" r="1.2"/><circle cx="620.4" cy="200.6" r="1.2"/><circle cx="657.2" cy="263.5" r="1.2"/><circle cx="688.3" cy="172.0" r="1.2"/><circle cx="637.5" cy="191.0" r="1.2"/><circle cx="690.4" cy="206.3" r="1.2"/><circle cx="649.7" cy="166.0" r="1.2"/><circle cx="618.6" cy="171.4" r="1.2"/><circle cx="651.2" cy="180.8" r="1.2"/><circle cx="704.1" cy="222.9" r="1.2"/><circle cx="605.9" cy="178.4" r="1.2"/><circle cx="583.1" cy="203.6" r="1.2"/><circle cx="712.7" cy="219.0" r="1.2"/><circle cx="634.4" cy="246.3" r="1.2"/><circle cx="678.5" cy="234.2" r="1.2"/><circle cx="643.2" cy="212.8" r="1.2"/><circle cx="636.0" cy="241.7" r="1.2"/><circle cx="624.5" cy="169.3" r="1.2"/><circle cx="694.8" cy="171.2" r="1.2"/><circle cx="648.6" cy="140.3" r="1.2"/><circle cx="646.9" cy="280.5" r="1.2"/><circle cx="662.9" cy="167.6" r="1.2"/><circle cx="663.2" cy="237.0" r="1.2"/><circle cx="685.5" cy="186.7" r="1.2"/><circle cx="664.9" cy="252.8" r="1.2"/><circle cx="643.5" cy="227.0" r="1.2"/><circle cx="654.4" cy="268.2" r="1.2"/><circle cx="602.7" cy="165.8" r="1.2"/><circle cx="616.0" cy="213.6" r="1.2"/><circle cx="608.9" cy="197.6" r="1.2"/><circle cx="623.1" cy="261.8" r="1.2"/><circle cx="606.2" cy="169.2" r="1.2"/><circle cx="625.9" cy="155.0" r="1.2"/><circle cx="632.5" cy="189.2" r="1.2"/><circle cx="629.0" cy="159.0" r="1.2"/><circle cx="703.3" cy="236.6" r="1.2"/><circle cx="614.4" cy="138.8" r="1.2"/><circle cx="607.6" cy="261.4" r="1.2"/><circle cx="682.7" cy="223.9" r="1.2"/><circle cx="659.1" cy="144.5" r="1.2"/><circle cx="626.9" cy="156.5" r="1.2"/><circle cx="655.6" cy="239.6" r="1.2"/><circle cx="651.8" cy="173.0" r="1.2"/><circle cx="678.7" cy="233.9" r="1.2"/><circle cx="647.4" cy="230.5" r="1.2"/><circle cx="617.0" cy="214.7" r="1.2"/><circle cx="608.7" cy="197.9" r="1.2"/><circle cx="684.5" cy="178.5" r="1.2"/><circle cx="671.9" cy="253.2" r="1.2"/><circle cx="732.0" cy="213.5" r="1.2"/><circle cx="606.0" cy="201.0" r="1.2"/><circle cx="593.9" cy="226.6" r="1.2"/><circle cx="640.1" cy="195.7" r="1.2"/><circle cx="597.8" cy="158.4" r="1.2"/><circle cx="699.3" cy="153.6" r="1.2"/><circle cx="616.8" cy="229.3" r="1.2"/><circle cx="625.6" cy="209.1" r="1.2"/><circle cx="638.8" cy="141.9" r="1.2"/><circle cx="650.1" cy="256.3" r="1.2"/><circle cx="639.1" cy="221.8" r="1.2"/><circle cx="674.3" cy="227.2" r="1.2"/><circle cx="679.4" cy="199.8" r="1.2"/><circle cx="591.8" cy="208.5" r="1.2"/><circle cx="671.2" cy="262.5" r="1.2"/><circle cx="637.2" cy="173.4" r="1.2"/><circle cx="638.7" cy="223.0" r="1.2"/><circle cx="608.0" cy="146.9" r="1.2"/><circle cx="609.9" cy="183.5" r="1.2"/><circle cx="641.9" cy="121.4" r="1.2"/><circle cx="581.7" cy="212.5" r="1.2"/><circle cx="677.4" cy="266.0" r="1.2"/><circle cx="643.5" cy="227.5" r="1.2"/><circle cx="612.6" cy="148.7" r="1.2"/><circle cx="618.3" cy="199.6" r="1.2"/><circle cx="573.9" cy="207.9" r="1.2"/><circle cx="700.6" cy="93.6" r="1.2"/><circle cx="670.8" cy="186.1" r="1.2"/><circle cx="653.0" cy="278.7" r="1.2"/><circle cx="642.7" cy="248.4" r="1.2"/><circle cx="656.4" cy="146.3" r="1.2"/><circle cx="592.1" cy="185.9" r="1.2"/><circle cx="610.7" cy="195.9" r="1.2"/><circle cx="724.7" cy="151.5" r="1.2"/><circle cx="600.8" cy="242.7" r="1.2"/><circle cx="613.5" cy="157.4" r="1.2"/><circle cx="593.5" cy="198.3" r="1.2"/><circle cx="664.6" cy="206.1" r="1.2"/><circle cx="583.5" cy="221.2" r="1.2"/><circle cx="697.7" cy="200.2" r="1.2"/><circle cx="579.8" cy="159.6" r="1.2"/><circle cx="651.1" cy="284.4" r="1.2"/><circle cx="597.3" cy="222.5" r="1.2"/><circle cx="603.1" cy="149.0" r="1.2"/><circle cx="684.9" cy="196.3" r="1.2"/><circle cx="608.0" cy="181.4" r="1.2"/><circle cx="666.2" cy="137.9" r="1.2"/><circle cx="698.7" cy="207.1" r="1.2"/><circle cx="638.0" cy="258.3" r="1.2"/><circle cx="595.7" cy="147.2" r="1.2"/><circle cx="657.5" cy="159.6" r="1.2"/><circle cx="630.6" cy="144.9" r="1.2"/><circle cx="652.6" cy="216.3" r="1.2"/><circle cx="696.3" cy="89.9" r="1.2"/><circle cx="630.0" cy="280.8" r="1.2"/><circle cx="641.1" cy="244.2" r="1.2"/><circle cx="658.5" cy="270.1" r="1.2"/><circle cx="635.4" cy="251.4" r="1.2"/><circle cx="648.4" cy="169.8" r="1.2"/><circle cx="679.8" cy="182.3" r="1.2"/><circle cx="619.9" cy="186.7" r="1.2"/><circle cx="654.4" cy="291.3" r="1.2"/><circle cx="722.9" cy="205.5" r="1.2"/><circle cx="610.3" cy="192.4" r="1.2"/><circle cx="665.5" cy="221.1" r="1.2"/><circle cx="640.8" cy="158.3" r="1.2"/><circle cx="631.0" cy="152.8" r="1.2"/><circle cx="611.0" cy="241.1" r="1.2"/><circle cx="599.5" cy="183.4" r="1.2"/><circle cx="687.0" cy="163.6" r="1.2"/><circle cx="617.3" cy="272.1" r="1.2"/><circle cx="638.0" cy="200.2" r="1.2"/><circle cx="654.3" cy="264.9" r="1.2"/><circle cx="656.8" cy="144.5" r="1.2"/><circle cx="676.7" cy="182.7" r="1.2"/><circle cx="698.3" cy="191.4" r="1.2"/><circle cx="592.0" cy="144.3" r="1.2"/><circle cx="663.9" cy="165.1" r="1.2"/><circle cx="607.0" cy="182.9" r="1.2"/><circle cx="592.5" cy="159.4" r="1.2"/><circle cx="607.7" cy="270.8" r="1.2"/><circle cx="620.3" cy="218.5" r="1.2"/><circle cx="650.1" cy="207.9" r="1.2"/><circle cx="635.9" cy="220.7" r="1.2"/><circle cx="609.5" cy="231.5" r="1.2"/><circle cx="632.5" cy="229.7" r="1.2"/><circle cx="649.5" cy="282.6" r="1.2"/><circle cx="601.2" cy="203.0" r="1.2"/><circle cx="668.0" cy="210.5" r="1.2"/><circle cx="606.0" cy="179.0" r="1.2"/><circle cx="587.8" cy="176.1" r="1.2"/><circle cx="637.5" cy="148.4" r="1.2"/><circle cx="642.8" cy="142.9" r="1.2"/><circle cx="642.2" cy="151.2" r="1.2"/><circle cx="668.3" cy="236.2" r="1.2"/><circle cx="642.5" cy="238.1" r="1.2"/><circle cx="625.6" cy="232.1" r="1.2"/><circle cx="610.0" cy="193.9" r="1.2"/><circle cx="594.7" cy="223.7" r="1.2"/><circle cx="591.7" cy="238.7" r="1.2"/><circle cx="672.8" cy="214.5" r="1.2"/><circle cx="594.1" cy="191.8" r="1.2"/><circle cx="592.4" cy="231.7" r="1.2"/><circle cx="631.1" cy="138.2" r="1.2"/><circle cx="702.1" cy="177.1" r="1.2"/><circle cx="662.9" cy="270.5" r="1.2"/><circle cx="674.0" cy="155.6" r="1.2"/><circle cx="606.5" cy="179.4" r="1.2"/><circle cx="656.0" cy="252.7" r="1.2"/><circle cx="613.0" cy="103.9" r="1.2"/><circle cx="629.7" cy="255.1" r="1.2"/><circle cx="660.4" cy="135.5" r="1.2"/><circle cx="662.0" cy="165.7" r="1.2"/><circle cx="631.4" cy="168.8" r="1.2"/><circle cx="672.3" cy="197.3" r="1.2"/><circle cx="634.6" cy="183.1" r="1.2"/><circle cx="614.0" cy="264.4" r="1.2"/><circle cx="626.2" cy="200.5" r="1.2"/><circle cx="621.4" cy="145.4" r="1.2"/><circle cx="641.7" cy="248.2" r="1.2"/><circle cx="690.1" cy="192.9" r="1.2"/><circle cx="623.1" cy="155.6" r="1.2"/><circle cx="654.4" cy="221.9" r="1.2"/><circle cx="621.2" cy="178.1" r="1.2"/><circle cx="606.0" cy="161.8" r="1.2"/><circle cx="682.0" cy="254.8" r="1.2"/><circle cx="613.2" cy="139.9" r="1.2"/><circle cx="623.0" cy="245.6" r="1.2"/><circle cx="682.2" cy="211.6" r="1.2"/><circle cx="683.4" cy="134.9" r="1.2"/><circle cx="626.5" cy="257.2" r="1.2"/><circle cx="672.9" cy="231.0" r="1.2"/><circle cx="648.1" cy="260.3" r="1.2"/><circle cx="614.8" cy="186.9" r="1.2"/><circle cx="648.7" cy="173.0" r="1.2"/><circle cx="589.3" cy="179.4" r="1.2"/><circle cx="592.1" cy="190.6" r="1.2"/><circle cx="623.9" cy="203.3" r="1.2"/><circle cx="656.4" cy="242.0" r="1.2"/><circle cx="610.2" cy="232.7" r="1.2"/><circle cx="656.5" cy="282.4" r="1.2"/><circle cx="624.2" cy="271.3" r="1.2"/><circle cx="635.5" cy="157.7" r="1.2"/><circle cx="614.0" cy="268.0" r="1.2"/><circle cx="737.6" cy="165.3" r="1.2"/><circle cx="600.3" cy="174.0" r="1.2"/><circle cx="578.7" cy="213.4" r="1.2"/><circle cx="685.8" cy="244.9" r="1.2"/><circle cx="643.9" cy="180.2" r="1.2"/><circle cx="649.2" cy="207.0" r="1.2"/><circle cx="598.7" cy="229.9" r="1.2"/><circle cx="635.7" cy="169.1" r="1.2"/><circle cx="680.9" cy="149.3" r="1.2"/><circle cx="590.3" cy="211.1" r="1.2"/><circle cx="614.9" cy="199.4" r="1.2"/><circle cx="677.5" cy="193.7" r="1.2"/><circle cx="704.6" cy="202.7" r="1.2"/><circle cx="579.5" cy="169.9" r="1.2"/><circle cx="790.1" cy="168.9" r="1.2"/><circle cx="609.6" cy="173.8" r="1.2"/><circle cx="673.0" cy="251.9" r="1.2"/><circle cx="685.3" cy="221.6" r="1.2"/><circle cx="619.3" cy="275.4" r="1.2"/><circle cx="599.8" cy="196.1" r="1.2"/><circle cx="598.5" cy="200.7" r="1.2"/><circle cx="656.1" cy="160.4" r="1.2"/><circle cx="585.6" cy="236.1" r="1.2"/><circle cx="650.7" cy="250.7" r="1.2"/><circle cx="623.8" cy="258.5" r="1.2"/><circle cx="633.5" cy="251.2" r="1.2"/><circle cx="567.2" cy="195.9" r="1.2"/><circle cx="668.2" cy="257.8" r="1.2"/><circle cx="595.4" cy="223.0" r="1.2"/><circle cx="657.7" cy="218.9" r="1.2"/><circle cx="614.6" cy="222.9" r="1.2"/><circle cx="683.7" cy="207.2" r="1.2"/><circle cx="721.3" cy="162.3" r="1.2"/><circle cx="639.7" cy="239.5" r="1.2"/><circle cx="619.6" cy="146.4" r="1.2"/><circle cx="680.6" cy="245.5" r="1.2"/><circle cx="683.5" cy="208.4" r="1.2"/><circle cx="608.4" cy="244.2" r="1.2"/><circle cx="583.8" cy="173.5" r="1.2"/><circle cx="594.1" cy="149.9" r="1.2"/><circle cx="596.8" cy="251.4" r="1.2"/><circle cx="612.4" cy="235.3" r="1.2"/><circle cx="643.9" cy="231.4" r="1.2"/><circle cx="605.6" cy="197.0" r="1.2"/><circle cx="623.3" cy="183.1" r="1.2"/><circle cx="594.5" cy="151.1" r="1.2"/><circle cx="690.6" cy="168.6" r="1.2"/><circle cx="673.0" cy="284.7" r="1.2"/><circle cx="583.6" cy="193.9" r="1.2"/><circle cx="700.4" cy="203.3" r="1.2"/><circle cx="680.7" cy="165.1" r="1.2"/><circle cx="633.6" cy="160.7" r="1.2"/><circle cx="663.0" cy="251.5" r="1.2"/><circle cx="688.5" cy="219.4" r="1.2"/><circle cx="583.4" cy="185.1" r="1.2"/><circle cx="586.7" cy="148.3" r="1.2"/><circle cx="630.3" cy="193.0" r="1.2"/><circle cx="661.9" cy="181.9" r="1.2"/><circle cx="625.7" cy="280.6" r="1.2"/><circle cx="583.8" cy="216.1" r="1.2"/><circle cx="614.5" cy="193.2" r="1.2"/><circle cx="677.4" cy="204.4" r="1.2"/><circle cx="622.1" cy="195.5" r="1.2"/><circle cx="684.1" cy="169.5" r="1.2"/><circle cx="624.8" cy="158.2" r="1.2"/><circle cx="625.1" cy="249.0" r="1.2"/><circle cx="640.2" cy="217.9" r="1.2"/><circle cx="667.9" cy="272.5" r="1.2"/><circle cx="600.1" cy="198.8" r="1.2"/><circle cx="611.3" cy="198.3" r="1.2"/><circle cx="597.5" cy="171.6" r="1.2"/><circle cx="688.4" cy="248.6" r="1.2"/><circle cx="615.2" cy="168.3" r="1.2"/><circle cx="665.9" cy="278.6" r="1.2"/><circle cx="674.1" cy="249.1" r="1.2"/><circle cx="627.9" cy="260.8" r="1.2"/><circle cx="633.6" cy="275.9" r="1.2"/><circle cx="652.9" cy="204.2" r="1.2"/><circle cx="589.8" cy="209.2" r="1.2"/><circle cx="636.8" cy="164.7" r="1.2"/><circle cx="629.0" cy="249.5" r="1.2"/><circle cx="602.9" cy="223.3" r="1.2"/><circle cx="596.2" cy="169.2" r="1.2"/><circle cx="577.3" cy="213.5" r="1.2"/><circle cx="588.7" cy="192.2" r="1.2"/><circle cx="654.5" cy="248.4" r="1.2"/><circle cx="627.6" cy="246.0" r="1.2"/><circle cx="622.3" cy="254.6" r="1.2"/><circle cx="586.7" cy="222.9" r="1.2"/><circle cx="625.0" cy="195.0" r="1.2"/><circle cx="708.8" cy="202.3" r="1.2"/><circle cx="637.2" cy="196.5" r="1.2"/><circle cx="700.7" cy="214.3" r="1.2"/><circle cx="683.5" cy="164.4" r="1.2"/><circle cx="643.0" cy="235.8" r="1.2"/><circle cx="611.0" cy="170.1" r="1.2"/><circle cx="658.3" cy="167.4" r="1.2"/><circle cx="578.9" cy="202.9" r="1.2"/><circle cx="593.8" cy="235.6" r="1.2"/><circle cx="629.3" cy="231.5" r="1.2"/><circle cx="579.0" cy="178.2" r="1.2"/><circle cx="703.9" cy="174.3" r="1.2"/><circle cx="634.0" cy="185.5" r="1.2"/><circle cx="611.7" cy="176.9" r="1.2"/><circle cx="610.3" cy="202.1" r="1.2"/><circle cx="657.9" cy="250.7" r="1.2"/><circle cx="584.9" cy="229.7" r="1.2"/><circle cx="646.9" cy="181.6" r="1.2"/><circle cx="653.6" cy="238.7" r="1.2"/><circle cx="662.3" cy="228.0" r="1.2"/><circle cx="636.4" cy="233.9" r="1.2"/><circle cx="636.9" cy="196.3" r="1.2"/><circle cx="644.4" cy="229.9" r="1.2"/><circle cx="613.6" cy="223.4" r="1.2"/><circle cx="604.1" cy="231.8" r="1.2"/><circle cx="612.1" cy="180.4" r="1.2"/><circle cx="683.4" cy="229.3" r="1.2"/><circle cx="663.1" cy="171.1" r="1.2"/><circle cx="605.5" cy="265.0" r="1.2"/><circle cx="593.9" cy="159.1" r="1.2"/><circle cx="602.6" cy="214.9" r="1.2"/><circle cx="690.1" cy="174.2" r="1.2"/><circle cx="591.7" cy="188.1" r="1.2"/><circle cx="627.9" cy="220.5" r="1.2"/><circle cx="622.4" cy="229.1" r="1.2"/><circle cx="625.5" cy="174.2" r="1.2"/><circle cx="647.2" cy="290.1" r="1.2"/><circle cx="610.7" cy="182.1" r="1.2"/><circle cx="623.9" cy="215.4" r="1.2"/><circle cx="621.5" cy="206.3" r="1.2"/><circle cx="693.1" cy="216.5" r="1.2"/><circle cx="630.6" cy="258.9" r="1.2"/><circle cx="588.7" cy="147.7" r="1.2"/><circle cx="613.4" cy="201.0" r="1.2"/><circle cx="718.3" cy="95.5" r="1.2"/><circle cx="623.7" cy="233.8" r="1.2"/><circle cx="636.5" cy="279.3" r="1.2"/><circle cx="599.4" cy="161.7" r="1.2"/><circle cx="681.4" cy="278.9" r="1.2"/><circle cx="629.8" cy="222.1" r="1.2"/><circle cx="590.5" cy="165.4" r="1.2"/><circle cx="578.2" cy="174.7" r="1.2"/><circle cx="659.7" cy="222.1" r="1.2"/><circle cx="577.5" cy="199.3" r="1.2"/><circle cx="642.1" cy="233.5" r="1.2"/><circle cx="627.1" cy="217.8" r="1.2"/><circle cx="584.5" cy="193.2" r="1.2"/><circle cx="726.6" cy="183.7" r="1.2"/><circle cx="579.8" cy="203.7" r="1.2"/><circle cx="684.6" cy="204.7" r="1.2"/><circle cx="633.2" cy="203.0" r="1.2"/><circle cx="583.3" cy="221.2" r="1.2"/><circle cx="697.4" cy="159.5" r="1.2"/><circle cx="729.4" cy="158.2" r="1.2"/><circle cx="664.6" cy="141.5" r="1.2"/><circle cx="697.3" cy="103.3" r="1.2"/><circle cx="589.6" cy="165.7" r="1.2"/><circle cx="587.3" cy="201.8" r="1.2"/><circle cx="644.5" cy="201.0" r="1.2"/><circle cx="690.1" cy="158.1" r="1.2"/><circle cx="615.0" cy="203.8" r="1.2"/><circle cx="657.3" cy="170.7" r="1.2"/><circle cx="624.3" cy="219.9" r="1.2"/><circle cx="582.8" cy="171.4" r="1.2"/><circle cx="642.4" cy="259.4" r="1.2"/><circle cx="640.0" cy="236.1" r="1.2"/><circle cx="733.3" cy="167.4" r="1.2"/><circle cx="665.8" cy="161.7" r="1.2"/><circle cx="597.6" cy="235.8" r="1.2"/><circle cx="662.4" cy="151.2" r="1.2"/><circle cx="612.6" cy="180.0" r="1.2"/><circle cx="608.0" cy="268.5" r="1.2"/><circle cx="593.1" cy="243.2" r="1.2"/><circle cx="585.0" cy="178.0" r="1.2"/><circle cx="684.0" cy="140.3" r="1.2"/><circle cx="649.5" cy="199.1" r="1.2"/><circle cx="637.1" cy="168.0" r="1.2"/><circle cx="688.7" cy="199.2" r="1.2"/><circle cx="634.4" cy="176.5" r="1.2"/><circle cx="600.5" cy="158.0" r="1.2"/><circle cx="741.3" cy="99.3" r="1.2"/><circle cx="655.0" cy="201.6" r="1.2"/><circle cx="594.9" cy="148.6" r="1.2"/><circle cx="682.6" cy="159.1" r="1.2"/><circle cx="622.6" cy="272.3" r="1.2"/><circle cx="652.5" cy="208.4" r="1.2"/><circle cx="629.8" cy="236.8" r="1.2"/><circle cx="581.8" cy="193.5" r="1.2"/><circle cx="621.4" cy="175.3" r="1.2"/><circle cx="683.4" cy="247.7" r="1.2"/><circle cx="670.9" cy="166.8" r="1.2"/><circle cx="655.5" cy="211.4" r="1.2"/><circle cx="617.6" cy="125.8" r="1.2"/><circle cx="607.0" cy="193.6" r="1.2"/><circle cx="669.3" cy="277.2" r="1.2"/><circle cx="583.5" cy="191.8" r="1.2"/><circle cx="671.3" cy="173.6" r="1.2"/><circle cx="590.4" cy="226.1" r="1.2"/><circle cx="603.6" cy="217.3" r="1.2"/><circle cx="692.2" cy="216.1" r="1.2"/><circle cx="635.0" cy="279.4" r="1.2"/><circle cx="622.2" cy="259.7" r="1.2"/><circle cx="601.0" cy="213.9" r="1.2"/><circle cx="687.2" cy="221.0" r="1.2"/><circle cx="697.6" cy="261.2" r="1.2"/><circle cx="602.5" cy="205.4" r="1.2"/><circle cx="655.5" cy="166.2" r="1.2"/><circle cx="700.1" cy="141.0" r="1.2"/><circle cx="662.6" cy="170.8" r="1.2"/><circle cx="638.2" cy="170.2" r="1.2"/><circle cx="591.6" cy="191.2" r="1.2"/><circle cx="619.9" cy="121.1" r="1.2"/><circle cx="615.5" cy="143.6" r="1.2"/><circle cx="609.1" cy="234.5" r="1.2"/><circle cx="744.1" cy="197.5" r="1.2"/><circle cx="698.6" cy="128.4" r="1.2"/><circle cx="666.9" cy="175.8" r="1.2"/><circle cx="616.2" cy="148.4" r="1.2"/><circle cx="595.7" cy="239.7" r="1.2"/><circle cx="596.5" cy="235.2" r="1.2"/><circle cx="685.2" cy="249.3" r="1.2"/><circle cx="676.3" cy="217.8" r="1.2"/><circle cx="633.9" cy="222.0" r="1.2"/><circle cx="630.6" cy="222.0" r="1.2"/><circle cx="694.5" cy="183.6" r="1.2"/><circle cx="682.4" cy="249.9" r="1.2"/><circle cx="591.2" cy="192.1" r="1.2"/><circle cx="657.9" cy="255.8" r="1.2"/><circle cx="653.8" cy="229.5" r="1.2"/><circle cx="624.9" cy="246.4" r="1.2"/><circle cx="629.7" cy="174.8" r="1.2"/><circle cx="609.1" cy="253.2" r="1.2"/><circle cx="659.0" cy="173.3" r="1.2"/><circle cx="645.8" cy="273.8" r="1.2"/><circle cx="597.7" cy="187.6" r="1.2"/><circle cx="579.5" cy="163.4" r="1.2"/><circle cx="624.3" cy="256.5" r="1.2"/><circle cx="630.7" cy="246.2" r="1.2"/><circle cx="663.0" cy="230.6" r="1.2"/><circle cx="686.9" cy="191.7" r="1.2"/><circle cx="615.2" cy="251.4" r="1.2"/><circle cx="645.0" cy="217.9" r="1.2"/><circle cx="625.0" cy="143.9" r="1.2"/><circle cx="669.5" cy="207.6" r="1.2"/><circle cx="598.5" cy="210.4" r="1.2"/><circle cx="713.3" cy="212.3" r="1.2"/><circle cx="731.3" cy="132.7" r="1.2"/><circle cx="609.9" cy="200.1" r="1.2"/><circle cx="620.0" cy="258.8" r="1.2"/><circle cx="609.8" cy="188.6" r="1.2"/><circle cx="643.1" cy="210.6" r="1.2"/><circle cx="642.2" cy="142.8" r="1.2"/><circle cx="616.6" cy="229.0" r="1.2"/><circle cx="607.8" cy="256.6" r="1.2"/><circle cx="616.3" cy="170.4" r="1.2"/><circle cx="601.7" cy="193.7" r="1.2"/><circle cx="669.8" cy="182.5" r="1.2"/><circle cx="630.6" cy="161.1" r="1.2"/><circle cx="681.5" cy="220.5" r="1.2"/><circle cx="624.9" cy="234.0" r="1.2"/><circle cx="638.2" cy="226.0" r="1.2"/><circle cx="638.6" cy="249.6" r="1.2"/><circle cx="617.0" cy="268.6" r="1.2"/><circle cx="688.8" cy="223.6" r="1.2"/><circle cx="627.0" cy="191.6" r="1.2"/><circle cx="730.9" cy="153.9" r="1.2"/><circle cx="590.2" cy="191.9" r="1.2"/><circle cx="674.3" cy="289.7" r="1.2"/><circle cx="623.8" cy="266.6" r="1.2"/><circle cx="590.5" cy="225.3" r="1.2"/><circle cx="605.7" cy="182.5" r="1.2"/><circle cx="660.1" cy="208.5" r="1.2"/><circle cx="620.4" cy="184.1" r="1.2"/><circle cx="666.5" cy="235.2" r="1.2"/><circle cx="592.7" cy="201.9" r="1.2"/><circle cx="672.4" cy="270.8" r="1.2"/><circle cx="622.8" cy="244.3" r="1.2"/><circle cx="714.8" cy="176.8" r="1.2"/><circle cx="611.1" cy="260.4" r="1.2"/><circle cx="610.7" cy="162.9" r="1.2"/><circle cx="580.5" cy="171.7" r="1.2"/><circle cx="641.6" cy="134.8" r="1.2"/><circle cx="620.3" cy="140.8" r="1.2"/><circle cx="624.6" cy="203.2" r="1.2"/><circle cx="628.2" cy="211.7" r="1.2"/><circle cx="600.0" cy="146.1" r="1.2"/><circle cx="652.4" cy="146.4" r="1.2"/><circle cx="660.7" cy="253.5" r="1.2"/><circle cx="641.9" cy="128.9" r="1.2"/><circle cx="667.5" cy="197.9" r="1.2"/><circle cx="643.9" cy="276.1" r="1.2"/><circle cx="668.4" cy="160.8" r="1.2"/><circle cx="686.4" cy="113.5" r="1.2"/><circle cx="638.1" cy="170.7" r="1.2"/><circle cx="616.4" cy="232.6" r="1.2"/><circle cx="585.0" cy="168.2" r="1.2"/><circle cx="628.5" cy="155.0" r="1.2"/><circle cx="644.9" cy="239.6" r="1.2"/><circle cx="667.6" cy="170.9" r="1.2"/><circle cx="620.8" cy="217.3" r="1.2"/><circle cx="670.4" cy="184.8" r="1.2"/><circle cx="676.8" cy="226.3" r="1.2"/><circle cx="679.9" cy="157.1" r="1.2"/><circle cx="645.4" cy="267.9" r="1.2"/><circle cx="598.5" cy="158.1" r="1.2"/><circle cx="614.3" cy="185.9" r="1.2"/><circle cx="631.0" cy="171.6" r="1.2"/><circle cx="580.9" cy="226.4" r="1.2"/><circle cx="650.2" cy="241.4" r="1.2"/><circle cx="657.1" cy="156.9" r="1.2"/><circle cx="595.0" cy="167.1" r="1.2"/><circle cx="669.6" cy="202.1" r="1.2"/><circle cx="630.0" cy="144.0" r="1.2"/><circle cx="583.0" cy="180.1" r="1.2"/><circle cx="666.5" cy="166.6" r="1.2"/><circle cx="590.8" cy="166.0" r="1.2"/><circle cx="606.9" cy="187.6" r="1.2"/><circle cx="622.0" cy="226.3" r="1.2"/><circle cx="673.3" cy="299.8" r="1.2"/><circle cx="605.9" cy="141.8" r="1.2"/><circle cx="610.6" cy="145.7" r="1.2"/><circle cx="667.2" cy="266.4" r="1.2"/><circle cx="669.3" cy="240.0" r="1.2"/><circle cx="638.3" cy="194.6" r="1.2"/><circle cx="659.6" cy="246.7" r="1.2"/><circle cx="668.8" cy="212.4" r="1.2"/><circle cx="634.6" cy="142.8" r="1.2"/><circle cx="642.0" cy="195.6" r="1.2"/><circle cx="677.2" cy="154.1" r="1.2"/><circle cx="691.1" cy="172.0" r="1.2"/><circle cx="627.1" cy="215.0" r="1.2"/><circle cx="617.0" cy="139.3" r="1.2"/><circle cx="637.9" cy="283.4" r="1.2"/><circle cx="665.8" cy="293.3" r="1.2"/><circle cx="640.9" cy="199.0" r="1.2"/><circle cx="626.4" cy="203.3" r="1.2"/><circle cx="668.9" cy="176.9" r="1.2"/><circle cx="616.7" cy="196.5" r="1.2"/><circle cx="645.5" cy="207.4" r="1.2"/><circle cx="635.0" cy="228.1" r="1.2"/><circle cx="657.5" cy="170.0" r="1.2"/><circle cx="628.3" cy="214.4" r="1.2"/><circle cx="614.3" cy="211.9" r="1.2"/><circle cx="648.7" cy="233.6" r="1.2"/><circle cx="667.1" cy="168.3" r="1.2"/><circle cx="582.5" cy="203.5" r="1.2"/><circle cx="619.5" cy="280.5" r="1.2"/><circle cx="641.1" cy="140.1" r="1.2"/><circle cx="597.7" cy="211.3" r="1.2"/><circle cx="671.3" cy="172.3" r="1.2"/><circle cx="603.9" cy="156.0" r="1.2"/><circle cx="640.4" cy="223.4" r="1.2"/><circle cx="631.3" cy="211.0" r="1.2"/><circle cx="602.3" cy="204.7" r="1.2"/><circle cx="578.7" cy="163.9" r="1.2"/><circle cx="672.2" cy="160.7" r="1.2"/><circle cx="597.1" cy="158.7" r="1.2"/><circle cx="587.0" cy="192.5" r="1.2"/><circle cx="618.0" cy="280.0" r="1.2"/><circle cx="661.3" cy="170.0" r="1.2"/><circle cx="582.6" cy="208.4" r="1.2"/><circle cx="667.8" cy="151.1" r="1.2"/><circle cx="671.7" cy="259.9" r="1.2"/><circle cx="744.4" cy="168.9" r="1.2"/><circle cx="606.8" cy="220.5" r="1.2"/><circle cx="617.5" cy="210.2" r="1.2"/><circle cx="655.5" cy="249.4" r="1.2"/><circle cx="680.9" cy="137.5" r="1.2"/><circle cx="632.1" cy="174.2" r="1.2"/><circle cx="734.4" cy="134.2" r="1.2"/><circle cx="630.8" cy="136.7" r="1.2"/><circle cx="637.7" cy="255.5" r="1.2"/><circle cx="659.0" cy="244.3" r="1.2"/><circle cx="580.8" cy="180.5" r="1.2"/><circle cx="656.3" cy="245.5" r="1.2"/><circle cx="652.3" cy="253.1" r="1.2"/><circle cx="699.5" cy="102.4" r="1.2"/><circle cx="633.2" cy="259.3" r="1.2"/><circle cx="695.9" cy="215.6" r="1.2"/><circle cx="733.1" cy="195.8" r="1.2"/><circle cx="598.9" cy="259.0" r="1.2"/><circle cx="599.2" cy="152.7" r="1.2"/><circle cx="650.3" cy="145.8" r="1.2"/><circle cx="638.1" cy="247.4" r="1.2"/><circle cx="620.4" cy="222.0" r="1.2"/><circle cx="656.3" cy="165.3" r="1.2"/><circle cx="598.6" cy="243.3" r="1.2"/><circle cx="629.3" cy="269.6" r="1.2"/><circle cx="614.4" cy="190.6" r="1.2"/><circle cx="670.8" cy="268.4" r="1.2"/><circle cx="621.4" cy="152.2" r="1.2"/><circle cx="661.1" cy="187.3" r="1.2"/><circle cx="679.6" cy="189.3" r="1.2"/><circle cx="647.2" cy="188.6" r="1.2"/><circle cx="597.1" cy="149.4" r="1.2"/><circle cx="628.7" cy="231.3" r="1.2"/><circle cx="666.8" cy="162.8" r="1.2"/><circle cx="577.3" cy="212.5" r="1.2"/><circle cx="664.9" cy="219.7" r="1.2"/><circle cx="598.5" cy="210.1" r="1.2"/><circle cx="597.5" cy="239.0" r="1.2"/><circle cx="615.8" cy="172.1" r="1.2"/><circle cx="637.8" cy="203.9" r="1.2"/><circle cx="608.1" cy="143.2" r="1.2"/><circle cx="689.6" cy="168.0" r="1.2"/><circle cx="627.3" cy="273.3" r="1.2"/><circle cx="634.1" cy="171.4" r="1.2"/><circle cx="587.8" cy="168.9" r="1.2"/><circle cx="643.6" cy="156.5" r="1.2"/><circle cx="600.9" cy="139.3" r="1.2"/><circle cx="686.3" cy="264.0" r="1.2"/><circle cx="705.0" cy="210.3" r="1.2"/><circle cx="656.8" cy="153.9" r="1.2"/><circle cx="581.0" cy="219.6" r="1.2"/><circle cx="670.6" cy="172.1" r="1.2"/><circle cx="648.1" cy="281.7" r="1.2"/><circle cx="644.9" cy="216.5" r="1.2"/><circle cx="576.0" cy="212.7" r="1.2"/><circle cx="623.7" cy="197.1" r="1.2"/><circle cx="673.5" cy="232.1" r="1.2"/><circle cx="644.2" cy="166.4" r="1.2"/><circle cx="659.0" cy="101.7" r="1.2"/><circle cx="674.1" cy="250.7" r="1.2"/><circle cx="650.3" cy="249.0" r="1.2"/><circle cx="695.5" cy="227.0" r="1.2"/><circle cx="633.6" cy="224.9" r="1.2"/><circle cx="662.5" cy="140.2" r="1.2"/><circle cx="598.8" cy="194.8" r="1.2"/><circle cx="643.5" cy="221.5" r="1.2"/><circle cx="673.6" cy="237.1" r="1.2"/><circle cx="680.0" cy="175.8" r="1.2"/><circle cx="705.1" cy="183.2" r="1.2"/><circle cx="611.1" cy="266.1" r="1.2"/><circle cx="614.3" cy="238.4" r="1.2"/><circle cx="605.6" cy="169.7" r="1.2"/><circle cx="676.0" cy="209.9" r="1.2"/><circle cx="576.1" cy="203.7" r="1.2"/><circle cx="627.8" cy="273.9" r="1.2"/><circle cx="645.4" cy="180.5" r="1.2"/><circle cx="692.9" cy="184.0" r="1.2"/><circle cx="658.2" cy="252.7" r="1.2"/><circle cx="686.6" cy="180.0" r="1.2"/><circle cx="639.8" cy="218.5" r="1.2"/><circle cx="594.6" cy="161.2" r="1.2"/><circle cx="667.1" cy="124.7" r="1.2"/><circle cx="698.7" cy="230.5" r="1.2"/><circle cx="580.5" cy="170.9" r="1.2"/><circle cx="655.3" cy="207.6" r="1.2"/><circle cx="685.0" cy="200.9" r="1.2"/><circle cx="644.2" cy="228.2" r="1.2"/><circle cx="587.2" cy="150.8" r="1.2"/><circle cx="669.7" cy="204.1" r="1.2"/><circle cx="656.5" cy="257.4" r="1.2"/><circle cx="669.2" cy="211.4" r="1.2"/><circle cx="673.7" cy="131.6" r="1.2"/><circle cx="646.7" cy="173.6" r="1.2"/><circle cx="612.5" cy="265.1" r="1.2"/><circle cx="650.7" cy="152.1" r="1.2"/><circle cx="621.0" cy="215.1" r="1.2"/><circle cx="671.0" cy="259.5" r="1.2"/><circle cx="646.2" cy="196.5" r="1.2"/><circle cx="605.0" cy="217.8" r="1.2"/><circle cx="671.7" cy="150.1" r="1.2"/><circle cx="586.3" cy="167.8" r="1.2"/><circle cx="610.7" cy="208.9" r="1.2"/><circle cx="649.6" cy="227.1" r="1.2"/><circle cx="622.7" cy="137.0" r="1.2"/><circle cx="614.8" cy="272.3" r="1.2"/><circle cx="640.2" cy="196.8" r="1.2"/><circle cx="663.0" cy="241.7" r="1.2"/><circle cx="669.4" cy="231.0" r="1.2"/><circle cx="699.8" cy="131.6" r="1.2"/><circle cx="649.7" cy="170.4" r="1.2"/><circle cx="644.9" cy="232.3" r="1.2"/><circle cx="646.4" cy="245.6" r="1.2"/><circle cx="618.1" cy="213.1" r="1.2"/><circle cx="649.9" cy="166.2" r="1.2"/><circle cx="599.7" cy="153.6" r="1.2"/><circle cx="655.0" cy="157.0" r="1.2"/><circle cx="661.9" cy="199.2" r="1.2"/><circle cx="613.1" cy="129.8" r="1.2"/><circle cx="631.9" cy="142.0" r="1.2"/><circle cx="647.5" cy="186.0" r="1.2"/><circle cx="616.3" cy="211.7" r="1.2"/><circle cx="638.7" cy="191.4" r="1.2"/><circle cx="623.5" cy="209.8" r="1.2"/><circle cx="672.8" cy="155.5" r="1.2"/><circle cx="647.6" cy="189.5" r="1.2"/><circle cx="650.3" cy="215.0" r="1.2"/><circle cx="657.7" cy="148.5" r="1.2"/><circle cx="686.2" cy="164.1" r="1.2"/><circle cx="645.4" cy="249.4" r="1.2"/><circle cx="634.9" cy="138.7" r="1.2"/><circle cx="665.2" cy="297.7" r="1.2"/><circle cx="656.3" cy="217.5" r="1.2"/><circle cx="641.0" cy="209.1" r="1.2"/><circle cx="680.8" cy="175.1" r="1.2"/><circle cx="598.0" cy="197.5" r="1.2"/><circle cx="665.4" cy="200.0" r="1.2"/><circle cx="605.4" cy="214.3" r="1.2"/><circle cx="638.9" cy="237.0" r="1.2"/><circle cx="651.7" cy="151.4" r="1.2"/><circle cx="599.7" cy="229.9" r="1.2"/><circle cx="619.3" cy="196.4" r="1.2"/><circle cx="612.9" cy="126.6" r="1.2"/><circle cx="605.9" cy="168.7" r="1.2"/><circle cx="659.5" cy="259.3" r="1.2"/><circle cx="617.2" cy="281.0" r="1.2"/><circle cx="669.1" cy="162.3" r="1.2"/><circle cx="634.2" cy="150.6" r="1.2"/><circle cx="742.7" cy="220.2" r="1.2"/><circle cx="643.1" cy="186.7" r="1.2"/><circle cx="670.7" cy="146.0" r="1.2"/><circle cx="610.2" cy="170.8" r="1.2"/><circle cx="633.8" cy="191.6" r="1.2"/><circle cx="595.4" cy="211.7" r="1.2"/><circle cx="603.0" cy="259.3" r="1.2"/><circle cx="587.5" cy="195.0" r="1.2"/><circle cx="657.0" cy="146.3" r="1.2"/><circle cx="615.5" cy="191.2" r="1.2"/><circle cx="640.3" cy="262.7" r="1.2"/><circle cx="731.4" cy="192.8" r="1.2"/><circle cx="626.9" cy="200.9" r="1.2"/><circle cx="634.4" cy="171.7" r="1.2"/><circle cx="648.7" cy="233.1" r="1.2"/><circle cx="662.0" cy="193.5" r="1.2"/><circle cx="647.2" cy="246.0" r="1.2"/><circle cx="631.1" cy="272.9" r="1.2"/><circle cx="627.0" cy="177.8" r="1.2"/><circle cx="639.7" cy="168.6" r="1.2"/><circle cx="663.5" cy="158.9" r="1.2"/><circle cx="626.3" cy="227.8" r="1.2"/><circle cx="627.8" cy="262.2" r="1.2"/><circle cx="645.0" cy="222.3" r="1.2"/><circle cx="599.3" cy="163.3" r="1.2"/><circle cx="679.0" cy="229.9" r="1.2"/><circle cx="642.5" cy="190.4" r="1.2"/><circle cx="594.8" cy="217.1" r="1.2"/><circle cx="607.3" cy="235.5" r="1.2"/><circle cx="621.8" cy="228.3" r="1.2"/><circle cx="587.7" cy="226.2" r="1.2"/><circle cx="664.6" cy="303.6" r="1.2"/><circle cx="623.9" cy="189.0" r="1.2"/><circle cx="657.3" cy="227.9" r="1.2"/><circle cx="668.2" cy="169.8" r="1.2"/><circle cx="607.3" cy="184.8" r="1.2"/><circle cx="684.3" cy="212.0" r="1.2"/><circle cx="698.3" cy="206.3" r="1.2"/><circle cx="640.2" cy="254.7" r="1.2"/><circle cx="626.2" cy="162.0" r="1.2"/><circle cx="607.6" cy="242.1" r="1.2"/><circle cx="618.0" cy="248.7" r="1.2"/><circle cx="658.2" cy="261.0" r="1.2"/><circle cx="617.1" cy="209.8" r="1.2"/><circle cx="648.1" cy="211.2" r="1.2"/><circle cx="683.8" cy="183.6" r="1.2"/><circle cx="664.8" cy="263.1" r="1.2"/><circle cx="647.5" cy="153.5" r="1.2"/><circle cx="650.5" cy="273.3" r="1.2"/><circle cx="602.2" cy="158.3" r="1.2"/><circle cx="584.7" cy="190.4" r="1.2"/><circle cx="669.2" cy="183.4" r="1.2"/><circle cx="611.1" cy="236.7" r="1.2"/><circle cx="582.4" cy="168.7" r="1.2"/><circle cx="630.0" cy="171.3" r="1.2"/><circle cx="635.8" cy="251.1" r="1.2"/><circle cx="603.5" cy="155.2" r="1.2"/><circle cx="630.2" cy="260.4" r="1.2"/><circle cx="593.4" cy="238.1" r="1.2"/><circle cx="642.7" cy="268.8" r="1.2"/><circle cx="601.9" cy="226.5" r="1.2"/><circle cx="589.2" cy="202.4" r="1.2"/><circle cx="608.6" cy="209.3" r="1.2"/><circle cx="627.1" cy="237.7" r="1.2"/><circle cx="615.3" cy="242.0" r="1.2"/><circle cx="633.2" cy="243.1" r="1.2"/><circle cx="589.1" cy="185.3" r="1.2"/><circle cx="592.7" cy="209.8" r="1.2"/><circle cx="654.0" cy="268.9" r="1.2"/><circle cx="621.1" cy="170.8" r="1.2"/><circle cx="667.7" cy="250.9" r="1.2"/><circle cx="737.2" cy="157.1" r="1.2"/><circle cx="641.9" cy="217.5" r="1.2"/><circle cx="653.7" cy="213.0" r="1.2"/><circle cx="656.6" cy="273.4" r="1.2"/><circle cx="629.9" cy="239.6" r="1.2"/><circle cx="614.8" cy="240.7" r="1.2"/><circle cx="589.8" cy="221.9" r="1.2"/><circle cx="626.6" cy="267.4" r="1.2"/><circle cx="655.9" cy="145.2" r="1.2"/><circle cx="675.1" cy="197.1" r="1.2"/><circle cx="706.7" cy="178.3" r="1.2"/><circle cx="681.0" cy="196.0" r="1.2"/><circle cx="629.4" cy="136.8" r="1.2"/><circle cx="614.6" cy="260.8" r="1.2"/><circle cx="644.0" cy="171.4" r="1.2"/><circle cx="644.2" cy="192.9" r="1.2"/><circle cx="688.1" cy="244.8" r="1.2"/><circle cx="649.5" cy="196.4" r="1.2"/><circle cx="615.8" cy="233.0" r="1.2"/><circle cx="605.0" cy="216.5" r="1.2"/><circle cx="604.0" cy="230.8" r="1.2"/><circle cx="589.3" cy="221.0" r="1.2"/><circle cx="685.6" cy="184.9" r="1.2"/><circle cx="616.6" cy="176.4" r="1.2"/><circle cx="604.7" cy="196.9" r="1.2"/><circle cx="648.7" cy="286.5" r="1.2"/><circle cx="609.0" cy="249.7" r="1.2"/><circle cx="651.2" cy="254.9" r="1.2"/><circle cx="657.4" cy="250.8" r="1.2"/><circle cx="668.8" cy="245.8" r="1.2"/><circle cx="693.1" cy="181.3" r="1.2"/><circle cx="632.6" cy="244.1" r="1.2"/><circle cx="683.5" cy="226.0" r="1.2"/><circle cx="587.8" cy="187.8" r="1.2"/><circle cx="579.8" cy="192.0" r="1.2"/><circle cx="632.1" cy="205.6" r="1.2"/><circle cx="625.8" cy="115.8" r="1.2"/><circle cx="661.9" cy="146.7" r="1.2"/><circle cx="659.9" cy="234.1" r="1.2"/><circle cx="613.2" cy="183.1" r="1.2"/><circle cx="611.5" cy="233.2" r="1.2"/><circle cx="628.3" cy="196.3" r="1.2"/><circle cx="675.1" cy="239.2" r="1.2"/><circle cx="589.9" cy="168.0" r="1.2"/><circle cx="679.0" cy="218.0" r="1.2"/><circle cx="638.7" cy="208.0" r="1.2"/><circle cx="666.4" cy="212.1" r="1.2"/><circle cx="591.8" cy="227.9" r="1.2"/><circle cx="646.4" cy="159.6" r="1.2"/><circle cx="678.6" cy="219.0" r="1.2"/><circle cx="675.4" cy="147.4" r="1.2"/><circle cx="588.1" cy="223.7" r="1.2"/><circle cx="638.9" cy="193.2" r="1.2"/><circle cx="695.6" cy="190.0" r="1.2"/><circle cx="619.2" cy="163.6" r="1.2"/><circle cx="655.0" cy="160.6" r="1.2"/><circle cx="663.5" cy="205.9" r="1.2"/><circle cx="645.0" cy="216.2" r="1.2"/><circle cx="680.5" cy="230.3" r="1.2"/><circle cx="680.3" cy="234.0" r="1.2"/><circle cx="611.1" cy="264.0" r="1.2"/><circle cx="616.9" cy="182.2" r="1.2"/><circle cx="611.3" cy="199.4" r="1.2"/><circle cx="658.5" cy="252.3" r="1.2"/><circle cx="619.7" cy="182.5" r="1.2"/><circle cx="650.8" cy="287.2" r="1.2"/><circle cx="688.3" cy="194.6" r="1.2"/><circle cx="633.1" cy="284.7" r="1.2"/><circle cx="575.8" cy="193.2" r="1.2"/><circle cx="594.1" cy="223.2" r="1.2"/><circle cx="610.1" cy="210.2" r="1.2"/><circle cx="636.3" cy="259.5" r="1.2"/><circle cx="599.1" cy="128.9" r="1.2"/><circle cx="630.4" cy="211.1" r="1.2"/><circle cx="596.2" cy="176.6" r="1.2"/><circle cx="685.6" cy="229.2" r="1.2"/><circle cx="614.6" cy="201.3" r="1.2"/><circle cx="610.2" cy="243.2" r="1.2"/><circle cx="668.3" cy="197.9" r="1.2"/><circle cx="616.8" cy="226.1" r="1.2"/><circle cx="640.9" cy="171.3" r="1.2"/><circle cx="605.6" cy="213.7" r="1.2"/><circle cx="662.2" cy="280.0" r="1.2"/><circle cx="589.2" cy="157.6" r="1.2"/><circle cx="632.1" cy="231.5" r="1.2"/><circle cx="680.5" cy="167.2" r="1.2"/><circle cx="611.3" cy="173.8" r="1.2"/><circle cx="602.2" cy="234.7" r="1.2"/><circle cx="670.4" cy="263.1" r="1.2"/><circle cx="664.1" cy="197.6" r="1.2"/><circle cx="587.6" cy="156.5" r="1.2"/><circle cx="634.2" cy="211.4" r="1.2"/><circle cx="661.5" cy="287.1" r="1.2"/><circle cx="604.0" cy="160.0" r="1.2"/><circle cx="634.2" cy="267.6" r="1.2"/><circle cx="606.1" cy="162.3" r="1.2"/><circle cx="627.6" cy="219.1" r="1.2"/><circle cx="620.9" cy="250.6" r="1.2"/><circle cx="659.7" cy="182.3" r="1.2"/><circle cx="576.5" cy="189.1" r="1.2"/><circle cx="589.3" cy="230.3" r="1.2"/><circle cx="646.6" cy="218.6" r="1.2"/><circle cx="581.4" cy="180.9" r="1.2"/><circle cx="631.8" cy="169.3" r="1.2"/><circle cx="670.2" cy="146.7" r="1.2"/><circle cx="628.5" cy="232.5" r="1.2"/><circle cx="657.9" cy="149.3" r="1.2"/><circle cx="605.7" cy="182.9" r="1.2"/><circle cx="704.2" cy="177.4" r="1.2"/><circle cx="655.6" cy="204.2" r="1.2"/><circle cx="570.5" cy="204.7" r="1.2"/><circle cx="697.2" cy="207.3" r="1.2"/><circle cx="684.5" cy="228.4" r="1.2"/><circle cx="630.9" cy="260.5" r="1.2"/><circle cx="623.5" cy="155.4" r="1.2"/><circle cx="610.1" cy="187.7" r="1.2"/><circle cx="670.1" cy="155.6" r="1.2"/><circle cx="639.6" cy="284.1" r="1.2"/><circle cx="673.3" cy="209.1" r="1.2"/><circle cx="676.3" cy="265.0" r="1.2"/><circle cx="618.4" cy="249.2" r="1.2"/><circle cx="625.9" cy="138.3" r="1.2"/><circle cx="685.9" cy="204.5" r="1.2"/><circle cx="619.6" cy="132.7" r="1.2"/><circle cx="594.0" cy="233.4" r="1.2"/><circle cx="678.2" cy="166.0" r="1.2"/><circle cx="581.3" cy="186.5" r="1.2"/><circle cx="667.1" cy="255.7" r="1.2"/><circle cx="617.7" cy="156.6" r="1.2"/><circle cx="604.4" cy="262.1" r="1.2"/><circle cx="631.1" cy="162.3" r="1.2"/><circle cx="585.6" cy="171.2" r="1.2"/><circle cx="648.8" cy="267.0" r="1.2"/><circle cx="697.7" cy="216.7" r="1.2"/><circle cx="591.4" cy="217.2" r="1.2"/><circle cx="673.6" cy="216.3" r="1.2"/><circle cx="589.1" cy="189.8" r="1.2"/><circle cx="670.9" cy="205.8" r="1.2"/><circle cx="601.6" cy="252.9" r="1.2"/><circle cx="588.3" cy="153.1" r="1.2"/><circle cx="636.5" cy="165.8" r="1.2"/><circle cx="636.6" cy="241.6" r="1.2"/><circle cx="744.1" cy="93.0" r="1.2"/><circle cx="633.2" cy="274.8" r="1.2"/><circle cx="628.5" cy="265.5" r="1.2"/><circle cx="723.2" cy="153.8" r="1.2"/><circle cx="748.6" cy="110.4" r="1.2"/><circle cx="631.6" cy="226.5" r="1.2"/><circle cx="626.5" cy="267.5" r="1.2"/><circle cx="717.0" cy="198.9" r="1.2"/><circle cx="609.0" cy="280.3" r="1.2"/><circle cx="593.1" cy="164.3" r="1.2"/><circle cx="711.5" cy="219.8" r="1.2"/><circle cx="607.7" cy="249.1" r="1.2"/><circle cx="599.8" cy="171.0" r="1.2"/><circle cx="620.6" cy="213.7" r="1.2"/><circle cx="577.9" cy="184.1" r="1.2"/><circle cx="618.4" cy="141.4" r="1.2"/><circle cx="661.4" cy="202.3" r="1.2"/><circle cx="583.9" cy="157.7" r="1.2"/><circle cx="649.6" cy="255.9" r="1.2"/><circle cx="661.0" cy="279.7" r="1.2"/><circle cx="645.1" cy="199.9" r="1.2"/><circle cx="658.8" cy="288.3" r="1.2"/><circle cx="624.7" cy="219.9" r="1.2"/><circle cx="639.9" cy="190.0" r="1.2"/><circle cx="636.0" cy="163.6" r="1.2"/><circle cx="659.3" cy="168.5" r="1.2"/><circle cx="599.1" cy="162.4" r="1.2"/><circle cx="731.5" cy="178.8" r="1.2"/><circle cx="592.6" cy="169.3" r="1.2"/><circle cx="671.2" cy="267.9" r="1.2"/><circle cx="621.0" cy="260.4" r="1.2"/><circle cx="648.4" cy="275.4" r="1.2"/><circle cx="652.6" cy="150.7" r="1.2"/><circle cx="614.7" cy="159.2" r="1.2"/><circle cx="609.6" cy="257.1" r="1.2"/><circle cx="572.4" cy="204.9" r="1.2"/><circle cx="643.0" cy="233.4" r="1.2"/><circle cx="610.8" cy="167.1" r="1.2"/><circle cx="678.1" cy="247.9" r="1.2"/><circle cx="623.8" cy="204.7" r="1.2"/><circle cx="628.1" cy="199.9" r="1.2"/><circle cx="600.3" cy="206.8" r="1.2"/><circle cx="614.6" cy="189.3" r="1.2"/><circle cx="612.7" cy="220.2" r="1.2"/><circle cx="696.8" cy="162.7" r="1.2"/><circle cx="658.5" cy="279.7" r="1.2"/><circle cx="646.0" cy="149.6" r="1.2"/><circle cx="690.4" cy="206.9" r="1.2"/><circle cx="620.7" cy="254.7" r="1.2"/><circle cx="617.2" cy="184.8" r="1.2"/><circle cx="616.0" cy="170.0" r="1.2"/><circle cx="641.8" cy="155.2" r="1.2"/><circle cx="634.9" cy="205.5" r="1.2"/><circle cx="681.9" cy="177.3" r="1.2"/><circle cx="745.5" cy="141.1" r="1.2"/><circle cx="593.7" cy="178.3" r="1.2"/><circle cx="629.8" cy="148.3" r="1.2"/><circle cx="646.8" cy="169.3" r="1.2"/><circle cx="617.5" cy="153.2" r="1.2"/><circle cx="620.6" cy="162.0" r="1.2"/><circle cx="615.8" cy="220.2" r="1.2"/><circle cx="645.5" cy="145.6" r="1.2"/><circle cx="716.9" cy="140.9" r="1.2"/><circle cx="601.7" cy="149.2" r="1.2"/><circle cx="607.9" cy="184.8" r="1.2"/><circle cx="667.9" cy="235.2" r="1.2"/><circle cx="705.0" cy="209.3" r="1.2"/><circle cx="615.3" cy="158.8" r="1.2"/><circle cx="682.9" cy="280.8" r="1.2"/><circle cx="629.0" cy="175.8" r="1.2"/><circle cx="631.2" cy="189.0" r="1.2"/><circle cx="669.4" cy="258.1" r="1.2"/><circle cx="633.5" cy="259.6" r="1.2"/><circle cx="589.3" cy="165.7" r="1.2"/><circle cx="584.9" cy="180.8" r="1.2"/><circle cx="617.8" cy="154.0" r="1.2"/><circle cx="657.9" cy="191.2" r="1.2"/><circle cx="687.3" cy="179.2" r="1.2"/><circle cx="590.4" cy="241.2" r="1.2"/><circle cx="702.6" cy="206.9" r="1.2"/><circle cx="668.2" cy="174.6" r="1.2"/><circle cx="602.1" cy="220.7" r="1.2"/><circle cx="654.8" cy="254.5" r="1.2"/><circle cx="663.8" cy="142.6" r="1.2"/><circle cx="594.2" cy="193.6" r="1.2"/><circle cx="635.1" cy="158.3" r="1.2"/><circle cx="647.5" cy="270.5" r="1.2"/><circle cx="593.0" cy="201.2" r="1.2"/><circle cx="645.0" cy="230.5" r="1.2"/><circle cx="671.6" cy="160.0" r="1.2"/><circle cx="623.2" cy="204.8" r="1.2"/><circle cx="622.1" cy="244.3" r="1.2"/><circle cx="633.0" cy="120.4" r="1.2"/></g>
<path d="M636.8 204.8L549.9 218.6M636.8 204.8L730 137.8M636.8 204.8L731.8 141.2M636.8 204.8L735 250.5M636.8 204.8L726 281.8M636.8 204.8L673.5 344M636.8 204.8L611.5 262.6M636.8 204.8L649.3 163.8" stroke="#d9777a" stroke-width="0.6" fill="none"/>
<polygon points="515.2,205.6 637,205.5 521,238.3" fill="none" stroke="#3a3a3a" stroke-width="1.05" stroke-dasharray="3 2"/>
<polygon points="617,151.6 696.9,155.6 636,205" fill="none" stroke="#3a3a3a" stroke-width="1.05" stroke-dasharray="3 2"/>
<polygon points="632,206 582.3,275.9 629.9,289.9" fill="none" stroke="#3a3a3a" stroke-width="1.05" stroke-dasharray="3 2"/>
<polygon points="638,206 650.8,372.7 720.8,367.1" fill="none" stroke="#3a3a3a" stroke-width="1.05" stroke-dasharray="3 2"/>
<text x="521" y="222.1" font-size="4.8" fill="#333" textLength="31.7" lengthAdjust="spacingAndGlyphs" >buildingDepth</text>
<text x="733.5" y="129.29999999999998" font-size="4.8" fill="#333" textLength="20" lengthAdjust="spacingAndGlyphs" >firstASE</text>
<text x="735" y="133.39999999999998" font-size="4.8" fill="#333" textLength="20" lengthAdjust="spacingAndGlyphs" >firstSDA</text>
<text x="737" y="258.7" font-size="4.8" fill="#333" textLength="25" lengthAdjust="spacingAndGlyphs" >groundASE</text>
<text x="726.5" y="294.09999999999997" font-size="4.8" fill="#333" textLength="25" lengthAdjust="spacingAndGlyphs" >groundSDA</text>
<text x="658" y="365.5" font-size="4.8" fill="#333" textLength="41.5" lengthAdjust="spacingAndGlyphs" >groundFloorHeight</text>
<text x="592" y="272.7" font-size="4.8" fill="#333" textLength="33" lengthAdjust="spacingAndGlyphs" >numberOfLevels</text>
<text x="588" y="239.7" font-size="4.8" fill="#111" textLength="31" lengthAdjust="spacingAndGlyphs" stroke="#111" stroke-width="0.25">balconyDepth</text>
<text x="618.8" y="160.1" font-size="4.8" fill="#111" textLength="63" lengthAdjust="spacingAndGlyphs" stroke="#111" stroke-width="0.25">typicalFloorHeightaspectRatio</text>
<text x="629" y="163.1" font-size="4.8" fill="#111" textLength="34" lengthAdjust="spacingAndGlyphs" stroke="#111" stroke-width="0.25">atriumArea</text>
<text x="601.4" y="196.39999999999998" font-size="4.8" fill="#111" textLength="64" lengthAdjust="spacingAndGlyphs" stroke="#111" stroke-width="0.25">windowWidthwindowHeightatrium</text>
<text x="621.8" y="202.5" font-size="4.8" fill="#111" textLength="13" lengthAdjust="spacingAndGlyphs" stroke="#111" stroke-width="0.25">aspect</text>
<text x="626" y="206.7" font-size="4.8" fill="#111" textLength="23" lengthAdjust="spacingAndGlyphs" stroke="#111" stroke-width="0.25">numberOf</text>
<text x="615.7" y="220.29999999999998" font-size="4.8" fill="#111" textLength="60" lengthAdjust="spacingAndGlyphs" stroke="#111" stroke-width="0.25">levelHeightbalconyWidthshade</text>
<text x="514" y="80" font-size="7.8" fill="#1c1c28" textLength="70.3" lengthAdjust="spacingAndGlyphs" stroke="#1c1c28" stroke-width="0.12">PCA Biplot / Transpose</text>
<text x="523.2" y="399.5" font-size="5.2" fill="#111" textLength="204.3" lengthAdjust="spacingAndGlyphs" font-weight="bold" >**Floor height, building Depth and level numbers are strong features, while others seem rather weak</text>
</svg></body></html>
